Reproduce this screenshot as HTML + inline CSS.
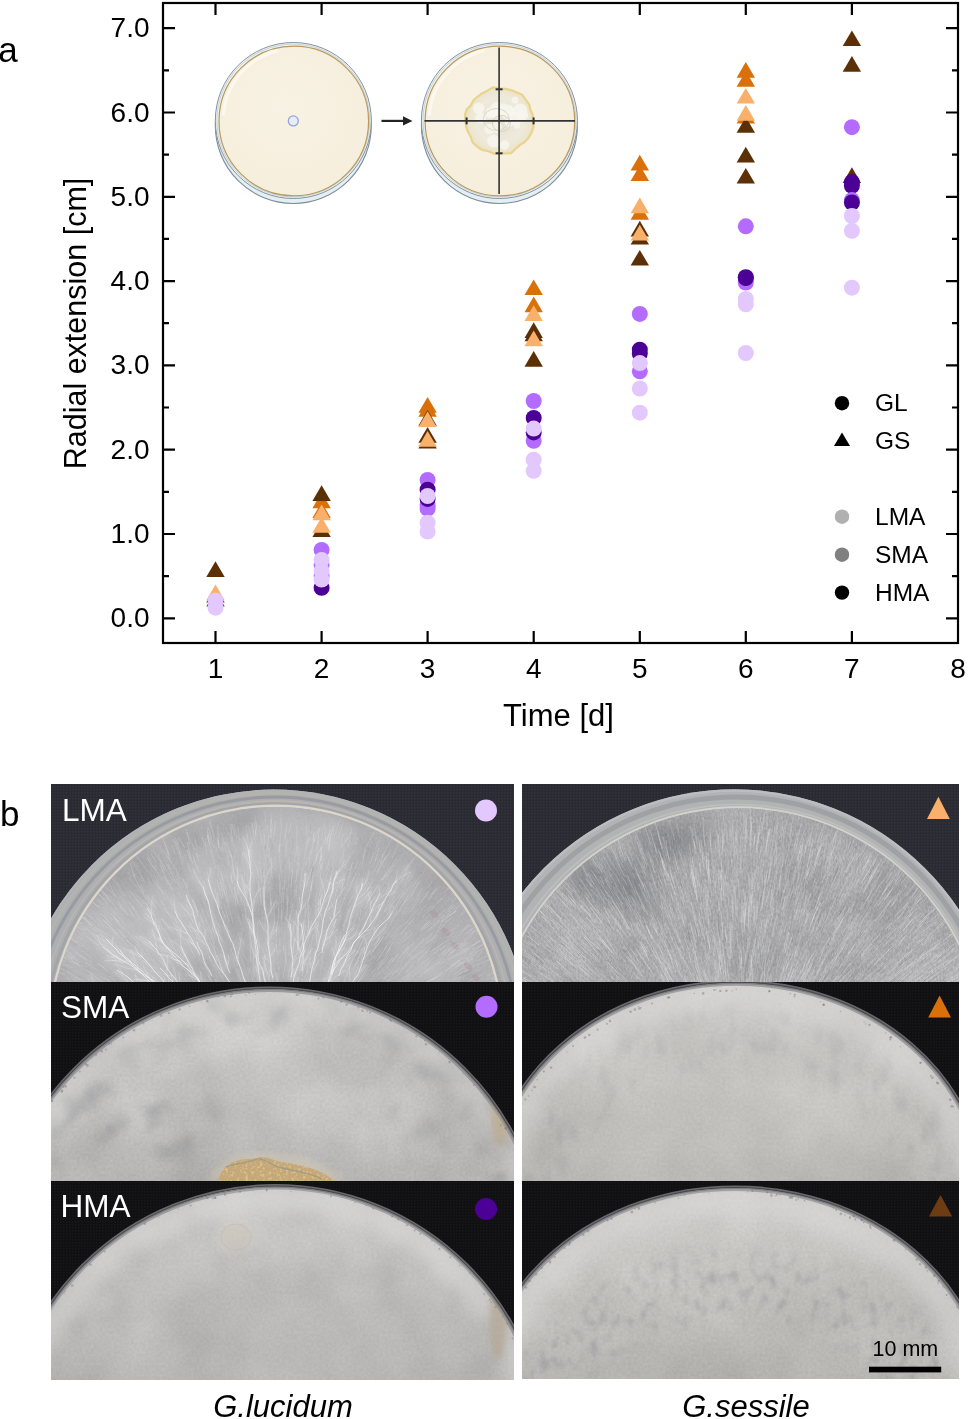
<!DOCTYPE html>
<html><head><meta charset="utf-8"><style>
html,body{margin:0;padding:0;background:#fff;}
body{width:968px;height:1419px;overflow:hidden;position:relative;font-family:"Liberation Sans",sans-serif;}
svg{position:absolute;left:0;top:0;will-change:transform;}
</style></head><body>
<svg width="968" height="1419" viewBox="0 0 968 1419" font-family="Liberation Sans, sans-serif">
<rect width="968" height="1419" fill="#fff"/>
<defs><radialGradient id="agar" cx="0.45" cy="0.4" r="0.7"><stop offset="0" stop-color="#f8f2e4"/><stop offset="1" stop-color="#f6eedb"/></radialGradient><radialGradient id="col" cx="0.5" cy="0.5" r="0.5"><stop offset="0" stop-color="#e6e2d2"/><stop offset="0.7" stop-color="#eeeadc"/><stop offset="1" stop-color="#ece4c8"/></radialGradient></defs>
<circle cx="293.3" cy="125.5" r="78" fill="#e4eff4" stroke="#7f8c96" stroke-width="1.1"/>
<circle cx="293.3" cy="120.5" r="78" fill="#eef4f7" stroke="#8794a0" stroke-width="1.0"/>
<circle cx="293.3" cy="120.5" r="76.4" fill="none" stroke="#bfc9cf" stroke-width="0.8"/>
<circle cx="293.8" cy="121.0" r="74.8" fill="url(#agar)" stroke="#b89a5a" stroke-width="1.2"/>
<path d="M223.3 115.5 A 72 72 0 0 1 278.3 50.5" fill="none" stroke="#fdfaf3" stroke-width="3" opacity="0.8"/>
<circle cx="293.3" cy="120.9" r="5" fill="#e6ecf8" stroke="#95a3d6" stroke-width="1.3"/>
<path d="M381.5 120.9H405" stroke="#222" stroke-width="2.2"/><path d="M412.5 120.9L403 116.2V125.6Z" fill="#222"/>
<circle cx="499.4" cy="125.5" r="78" fill="#e4eff4" stroke="#7f8c96" stroke-width="1.1"/>
<circle cx="499.4" cy="120.5" r="78" fill="#eef4f7" stroke="#8794a0" stroke-width="1.0"/>
<circle cx="499.4" cy="120.5" r="76.4" fill="none" stroke="#bfc9cf" stroke-width="0.8"/>
<circle cx="499.9" cy="121.0" r="74.8" fill="url(#agar)" stroke="#b89a5a" stroke-width="1.2"/>
<path d="M429.4 115.5 A 72 72 0 0 1 484.4 50.5" fill="none" stroke="#fdfaf3" stroke-width="3" opacity="0.8"/>
<path d="M532.6 121.0 533.5 126.8 531.6 132.4 528.8 137.5 524.9 141.8 520.1 144.9 515.8 148.6 511.4 153.1 505.3 153.5 499.4 153.3 493.5 153.6 488.1 151.1 482.2 150.0 477.3 146.6 472.8 142.7 470.8 137.1 468.1 132.1 466.1 126.7 465.6 121.0 464.9 115.1 466.7 109.4 470.9 105.0 473.7 100.0 478.0 96.3 482.7 92.9 487.9 90.4 493.3 87.3 499.4 88.3 505.2 88.9 511.0 90.1 516.5 92.2 522.1 94.7 525.7 99.6 529.2 104.3 530.4 110.1 532.9 115.3Z" fill="url(#col)" stroke="#e8d48e" stroke-width="2.2" stroke-linejoin="round"/>
<circle cx="505.2" cy="115.0" r="3.5" fill="#f8f6ef" opacity="0.8"/>
<circle cx="504.6" cy="145.3" r="4.7" fill="#f8f6ef" opacity="0.8"/>
<circle cx="491.0" cy="111.9" r="5.0" fill="#f8f6ef" opacity="0.8"/>
<circle cx="489.6" cy="129.1" r="5.3" fill="#f8f6ef" opacity="0.8"/>
<circle cx="478.6" cy="108.3" r="5.7" fill="#f8f6ef" opacity="0.8"/>
<circle cx="520.3" cy="110.5" r="7.0" fill="#f8f6ef" opacity="0.8"/>
<circle cx="495.0" cy="112.3" r="6.4" fill="#f8f6ef" opacity="0.8"/>
<circle cx="522.9" cy="115.2" r="5.3" fill="#f8f6ef" opacity="0.8"/>
<circle cx="497.1" cy="110.5" r="6.3" fill="#f8f6ef" opacity="0.8"/>
<circle cx="488.9" cy="115.3" r="3.3" fill="#f8f6ef" opacity="0.8"/>
<circle cx="515.1" cy="100.0" r="3.4" fill="#f8f6ef" opacity="0.8"/>
<circle cx="503.8" cy="107.0" r="3.6" fill="#f8f6ef" opacity="0.8"/>
<circle cx="493.6" cy="141.1" r="6.5" fill="#f8f6ef" opacity="0.8"/>
<circle cx="517.0" cy="125.5" r="3.2" fill="#f8f6ef" opacity="0.8"/>
<circle cx="496.9" cy="108.1" r="6.5" fill="#f8f6ef" opacity="0.8"/>
<circle cx="515.4" cy="118.5" r="7.0" fill="#f8f6ef" opacity="0.8"/>
<circle cx="496.6" cy="127.5" r="5.4" fill="#f8f6ef" opacity="0.8"/>
<circle cx="509.2" cy="122.4" r="4.6" fill="#f8f6ef" opacity="0.8"/>
<circle cx="492.4" cy="114.7" r="3.2" fill="#f8f6ef" opacity="0.8"/>
<circle cx="507.7" cy="111.4" r="6.8" fill="#f8f6ef" opacity="0.8"/>
<circle cx="510.2" cy="112.3" r="4.8" fill="#f8f6ef" opacity="0.8"/>
<circle cx="480.7" cy="118.1" r="5.4" fill="#f8f6ef" opacity="0.8"/>
<ellipse cx="501.4" cy="123.5" rx="9" ry="8" fill="none" stroke="#d8d2c0" stroke-width="1"/>
<ellipse cx="496.4" cy="119.5" rx="13" ry="11" fill="none" stroke="#dcd6c6" stroke-width="1"/>
<path d="M499.09999999999997 47.5V194M424.5 120.9H575" stroke="#333" stroke-width="1.6"/>
<path d="M495.59999999999997 89.3H502.59999999999997" stroke="#333" stroke-width="2"/>
<path d="M495.59999999999997 153.3H502.59999999999997" stroke="#333" stroke-width="2"/>
<path d="M466.6 117.4V124.4" stroke="#333" stroke-width="2"/>
<path d="M533.6 117.4V124.4" stroke="#333" stroke-width="2"/>
<rect x="163" y="3" width="795" height="640" fill="none" stroke="#000" stroke-width="2.2"/>
<path d="M215.5 643V631M215.5 3V15" stroke="#000" stroke-width="2.2"/>
<path d="M321.6 643V631M321.6 3V15" stroke="#000" stroke-width="2.2"/>
<path d="M427.6 643V631M427.6 3V15" stroke="#000" stroke-width="2.2"/>
<path d="M533.7 643V631M533.7 3V15" stroke="#000" stroke-width="2.2"/>
<path d="M639.8 643V631M639.8 3V15" stroke="#000" stroke-width="2.2"/>
<path d="M745.8 643V631M745.8 3V15" stroke="#000" stroke-width="2.2"/>
<path d="M851.9 643V631M851.9 3V15" stroke="#000" stroke-width="2.2"/>
<path d="M163 618.3H175M958 618.3H946" stroke="#000" stroke-width="2.2"/>
<path d="M163 576.1H169M958 576.1H952" stroke="#000" stroke-width="2.2"/>
<path d="M163 534.0H175M958 534.0H946" stroke="#000" stroke-width="2.2"/>
<path d="M163 491.8H169M958 491.8H952" stroke="#000" stroke-width="2.2"/>
<path d="M163 449.7H175M958 449.7H946" stroke="#000" stroke-width="2.2"/>
<path d="M163 407.5H169M958 407.5H952" stroke="#000" stroke-width="2.2"/>
<path d="M163 365.4H175M958 365.4H946" stroke="#000" stroke-width="2.2"/>
<path d="M163 323.2H169M958 323.2H952" stroke="#000" stroke-width="2.2"/>
<path d="M163 281.1H175M958 281.1H946" stroke="#000" stroke-width="2.2"/>
<path d="M163 238.9H169M958 238.9H952" stroke="#000" stroke-width="2.2"/>
<path d="M163 196.8H175M958 196.8H946" stroke="#000" stroke-width="2.2"/>
<path d="M163 154.6H169M958 154.6H952" stroke="#000" stroke-width="2.2"/>
<path d="M163 112.5H175M958 112.5H946" stroke="#000" stroke-width="2.2"/>
<path d="M163 70.4H169M958 70.4H952" stroke="#000" stroke-width="2.2"/>
<path d="M163 28.2H175M958 28.2H946" stroke="#000" stroke-width="2.2"/>
<path d="M215.5 561.3L224.7 577.0H206.3Z" fill="#5c3006"/>
<path d="M215.5 586.8L224.7 602.5H206.3Z" fill="#5c3006"/>
<path d="M215.5 590.8L224.7 606.5H206.3Z" fill="#5c3006"/>
<path d="M215.5 584.6L224.7 600.3H206.3Z" fill="#f8b06a"/>
<path d="M321.6 492.6L330.8 508.3H312.4Z" fill="#d9700a"/>
<path d="M321.6 502.2L330.8 517.9H312.4Z" fill="#d9700a"/>
<path d="M321.6 485.3L330.8 501.0H312.4Z" fill="#5c3006"/>
<path d="M321.6 521.3L330.8 537.0H312.4Z" fill="#5c3006"/>
<path d="M321.6 504.5L330.8 520.2H312.4Z" fill="#f8b06a"/>
<path d="M321.6 517.0L330.8 532.7H312.4Z" fill="#f8b06a"/>
<path d="M427.6 397.1L436.8 412.8H418.4Z" fill="#d9700a"/>
<path d="M427.6 401.0L436.8 416.7H418.4Z" fill="#d9700a"/>
<path d="M427.6 410.0L436.8 425.7H418.4Z" fill="#5c3006"/>
<path d="M427.6 427.1L436.8 442.8H418.4Z" fill="#5c3006"/>
<path d="M427.6 432.7L436.8 448.4H418.4Z" fill="#5c3006"/>
<path d="M427.6 411.3L436.8 427.0H418.4Z" fill="#f8b06a"/>
<path d="M427.6 431.0L436.8 446.7H418.4Z" fill="#f8b06a"/>
<path d="M533.7 279.4L542.9 295.1H524.5Z" fill="#d9700a"/>
<path d="M533.7 296.5L542.9 312.2H524.5Z" fill="#d9700a"/>
<path d="M533.7 322.3L542.9 338.0H524.5Z" fill="#5c3006"/>
<path d="M533.7 325.5L542.9 341.2H524.5Z" fill="#5c3006"/>
<path d="M533.7 351.0L542.9 366.7H524.5Z" fill="#5c3006"/>
<path d="M533.7 305.2L542.9 320.9H524.5Z" fill="#f8b06a"/>
<path d="M533.7 330.6L542.9 346.3H524.5Z" fill="#f8b06a"/>
<path d="M639.8 154.8L649.0 170.5H630.6Z" fill="#d9700a"/>
<path d="M639.8 165.3L649.0 181.0H630.6Z" fill="#d9700a"/>
<path d="M639.8 204.1L649.0 219.8H630.6Z" fill="#d9700a"/>
<path d="M639.8 220.8L649.0 236.5H630.6Z" fill="#5c3006"/>
<path d="M639.8 228.9L649.0 244.6H630.6Z" fill="#5c3006"/>
<path d="M639.8 249.9L649.0 265.6H630.6Z" fill="#5c3006"/>
<path d="M639.8 197.5L649.0 213.2H630.6Z" fill="#f8b06a"/>
<path d="M639.8 224.7L649.0 240.4H630.6Z" fill="#f8b06a"/>
<path d="M745.8 62.1L755.0 77.8H736.6Z" fill="#d9700a"/>
<path d="M745.8 71.1L755.0 86.8H736.6Z" fill="#d9700a"/>
<path d="M745.8 107.7L755.0 123.4H736.6Z" fill="#d9700a"/>
<path d="M745.8 117.1L755.0 132.8H736.6Z" fill="#5c3006"/>
<path d="M745.8 146.8L755.0 162.5H736.6Z" fill="#5c3006"/>
<path d="M745.8 167.9L755.0 183.6H736.6Z" fill="#5c3006"/>
<path d="M745.8 87.9L755.0 103.6H736.6Z" fill="#f8b06a"/>
<path d="M745.8 105.0L755.0 120.7H736.6Z" fill="#f8b06a"/>
<path d="M851.9 30.4L861.1 46.1H842.7Z" fill="#5c3006"/>
<path d="M851.9 56.0L861.1 71.7H842.7Z" fill="#5c3006"/>
<path d="M851.9 167.3L861.1 183.0H842.7Z" fill="#5c3006"/>
<circle cx="215.5" cy="600.5" r="8" fill="#e2c8fc"/>
<circle cx="215.5" cy="607.7" r="8" fill="#e2c8fc"/>
<circle cx="321.6" cy="550.0" r="8" fill="#b36cff"/>
<circle cx="321.6" cy="565.0" r="8" fill="#b36cff"/>
<circle cx="321.6" cy="576.0" r="8" fill="#b36cff"/>
<circle cx="321.6" cy="587.8" r="8" fill="#4b0096"/>
<circle cx="321.6" cy="560.0" r="8" fill="#e2c8fc"/>
<circle cx="321.6" cy="571.0" r="8" fill="#e2c8fc"/>
<circle cx="321.6" cy="579.5" r="8" fill="#e2c8fc"/>
<circle cx="427.6" cy="480.0" r="8" fill="#b36cff"/>
<circle cx="427.6" cy="505.0" r="8" fill="#b36cff"/>
<circle cx="427.6" cy="508.7" r="8" fill="#b36cff"/>
<circle cx="427.6" cy="489.7" r="8" fill="#4b0096"/>
<circle cx="427.6" cy="498.9" r="8" fill="#4b0096"/>
<circle cx="427.6" cy="496.0" r="8" fill="#e2c8fc"/>
<circle cx="427.6" cy="522.7" r="8" fill="#e2c8fc"/>
<circle cx="427.6" cy="531.5" r="8" fill="#e2c8fc"/>
<circle cx="533.7" cy="401.0" r="8" fill="#b36cff"/>
<circle cx="533.7" cy="440.8" r="8" fill="#b36cff"/>
<circle cx="533.7" cy="418.0" r="8" fill="#4b0096"/>
<circle cx="533.7" cy="432.4" r="8" fill="#4b0096"/>
<circle cx="533.7" cy="428.6" r="8" fill="#e2c8fc"/>
<circle cx="533.7" cy="459.7" r="8" fill="#e2c8fc"/>
<circle cx="533.7" cy="470.8" r="8" fill="#e2c8fc"/>
<circle cx="639.8" cy="313.9" r="8" fill="#b36cff"/>
<circle cx="639.8" cy="371.3" r="8" fill="#b36cff"/>
<circle cx="639.8" cy="349.7" r="8" fill="#4b0096"/>
<circle cx="639.8" cy="353.4" r="8" fill="#4b0096"/>
<circle cx="639.8" cy="363.1" r="8" fill="#e2c8fc"/>
<circle cx="639.8" cy="388.5" r="8" fill="#e2c8fc"/>
<circle cx="639.8" cy="412.7" r="8" fill="#e2c8fc"/>
<circle cx="745.8" cy="226.3" r="8" fill="#b36cff"/>
<circle cx="745.8" cy="282.6" r="8" fill="#b36cff"/>
<circle cx="745.8" cy="277.2" r="8" fill="#4b0096"/>
<circle cx="745.8" cy="278.0" r="8" fill="#4b0096"/>
<circle cx="745.8" cy="299.0" r="8" fill="#e2c8fc"/>
<circle cx="745.8" cy="304.3" r="8" fill="#e2c8fc"/>
<circle cx="745.8" cy="353.0" r="8" fill="#e2c8fc"/>
<circle cx="851.9" cy="127.2" r="8" fill="#b36cff"/>
<circle cx="851.9" cy="182.1" r="8" fill="#4b0096"/>
<circle cx="851.9" cy="185.8" r="8" fill="#4b0096"/>
<circle cx="851.9" cy="200.1" r="8" fill="#b36cff"/>
<circle cx="851.9" cy="202.5" r="8" fill="#4b0096"/>
<circle cx="851.9" cy="216.0" r="8" fill="#e2c8fc"/>
<circle cx="851.9" cy="230.8" r="8" fill="#e2c8fc"/>
<circle cx="851.9" cy="287.7" r="8" fill="#e2c8fc"/>
<g font-size="28"><text x="149.5" y="627.3" text-anchor="end">0.0</text>
<text x="149.5" y="543.0" text-anchor="end">1.0</text>
<text x="149.5" y="458.7" text-anchor="end">2.0</text>
<text x="149.5" y="374.4" text-anchor="end">3.0</text>
<text x="149.5" y="290.1" text-anchor="end">4.0</text>
<text x="149.5" y="205.8" text-anchor="end">5.0</text>
<text x="149.5" y="121.5" text-anchor="end">6.0</text>
<text x="149.5" y="37.2" text-anchor="end">7.0</text>
<text x="215.5" y="677.8" text-anchor="middle">1</text>
<text x="321.6" y="677.8" text-anchor="middle">2</text>
<text x="427.6" y="677.8" text-anchor="middle">3</text>
<text x="533.7" y="677.8" text-anchor="middle">4</text>
<text x="639.8" y="677.8" text-anchor="middle">5</text>
<text x="745.8" y="677.8" text-anchor="middle">6</text>
<text x="851.9" y="677.8" text-anchor="middle">7</text>
<text x="958.0" y="677.8" text-anchor="middle">8</text></g>
<g font-size="24.5">
<circle cx="842" cy="403.2" r="7.2" fill="#000"/><text x="875" y="411.3">GL</text>
<path d="M842 432.4L850 446H834Z" fill="#000"/><text x="875" y="449">GS</text>
<circle cx="842" cy="516.7" r="7.2" fill="#b0b0b0"/><text x="875" y="525.1">LMA</text>
<circle cx="842" cy="554.7" r="7.2" fill="#808080"/><text x="875" y="563">SMA</text>
<circle cx="842" cy="592.6" r="7.2" fill="#000"/><text x="875" y="600.6">HMA</text>
</g>
<text x="558.5" y="726.4" font-size="31" text-anchor="middle">Time [d]</text>
<text transform="translate(85.7 323.5) rotate(-90)" font-size="30.5" text-anchor="middle">Radial extension [cm]</text>
<text x="-1.8" y="62.3" font-size="35">a</text>
<text x="0" y="826" font-size="35">b</text>
<defs><clipPath id="cp1"><rect x="51" y="784" width="463" height="198"/></clipPath><clipPath id="cp2"><rect x="522" y="784" width="437" height="198"/></clipPath><clipPath id="cp3"><rect x="51" y="982" width="463" height="199"/></clipPath><clipPath id="cp4"><rect x="522" y="982" width="437" height="199"/></clipPath><clipPath id="cp5"><rect x="51" y="1181" width="463" height="199"/></clipPath><clipPath id="cp6"><rect x="522" y="1181" width="437" height="198"/></clipPath><pattern id="fab1" width="3" height="3" patternUnits="userSpaceOnUse"><rect width="3" height="3" fill="#2a2b32"/><rect x="0" y="0" width="1.5" height="1.5" fill="#33343b"/></pattern><pattern id="fab2" width="3" height="3" patternUnits="userSpaceOnUse"><rect width="3" height="3" fill="#101012"/><rect x="0" y="0" width="1.5" height="1.5" fill="#18181b"/></pattern><linearGradient id="vgrad" x1="0" y1="0" x2="0" y2="1"><stop offset="0" stop-color="#fff" stop-opacity="0.22"/><stop offset="0.5" stop-color="#fff" stop-opacity="0.05"/><stop offset="1" stop-color="#000" stop-opacity="0.05"/></linearGradient><filter id="blur6" x="-50%" y="-50%" width="200%" height="200%"><feGaussianBlur stdDeviation="8"/></filter><filter id="blur3" x="-50%" y="-50%" width="200%" height="200%"><feGaussianBlur stdDeviation="3"/></filter><filter id="blur1"><feGaussianBlur stdDeviation="0.6"/></filter><filter id="n1" filterUnits="userSpaceOnUse" x="51" y="784" width="463" height="198" color-interpolation-filters="sRGB"><feTurbulence type="fractalNoise" baseFrequency="0.02" numOctaves="3" seed="21" result="t1"/><feColorMatrix in="t1" type="matrix" values="1 0 0 0 0  1 0 0 0 0  1 0 0 0 0  0 0 0 0 1" result="a"/><feTurbulence type="fractalNoise" baseFrequency="0.4" numOctaves="2" seed="22" result="t2"/><feColorMatrix in="t2" type="matrix" values="1 0 0 0 0  1 0 0 0 0  1 0 0 0 0  0 0 0 0 1" result="b"/><feComposite in="a" in2="b" operator="arithmetic" k1="0" k2="0.12" k3="0.05" k4="0.8300" result="c"/><feColorMatrix in="c" type="matrix" values="1 0 0 0 -0.2405  0 1 0 0 -0.2405  0 0 1 0 -0.2287  0 0 0 0 1"/></filter><filter id="n2" filterUnits="userSpaceOnUse" x="522" y="784" width="437" height="198" color-interpolation-filters="sRGB"><feTurbulence type="fractalNoise" baseFrequency="0.02" numOctaves="3" seed="5" result="t1"/><feColorMatrix in="t1" type="matrix" values="1 0 0 0 0  1 0 0 0 0  1 0 0 0 0  0 0 0 0 1" result="a"/><feTurbulence type="fractalNoise" baseFrequency="0.6 0.3" numOctaves="2" seed="6" result="t2"/><feColorMatrix in="t2" type="matrix" values="1 0 0 0 0  1 0 0 0 0  1 0 0 0 0  0 0 0 0 1" result="b"/><feComposite in="a" in2="b" operator="arithmetic" k1="0" k2="0.12" k3="0.16" k4="0.7200" result="c"/><feColorMatrix in="c" type="matrix" values="1 0 0 0 -0.1933  0 1 0 0 -0.1933  0 0 1 0 -0.1855  0 0 0 0 1"/></filter><filter id="n3" filterUnits="userSpaceOnUse" x="51" y="982" width="463" height="199" color-interpolation-filters="sRGB"><feTurbulence type="fractalNoise" baseFrequency="0.012" numOctaves="3" seed="3" result="t1"/><feColorMatrix in="t1" type="matrix" values="1 0 0 0 0  1 0 0 0 0  1 0 0 0 0  0 0 0 0 1" result="a"/><feTurbulence type="fractalNoise" baseFrequency="0.35" numOctaves="2" seed="4" result="t2"/><feColorMatrix in="t2" type="matrix" values="1 0 0 0 0  1 0 0 0 0  1 0 0 0 0  0 0 0 0 1" result="b"/><feComposite in="a" in2="b" operator="arithmetic" k1="0" k2="0.16" k3="0.07" k4="0.7700" result="c"/><feColorMatrix in="c" type="matrix" values="1 0 0 0 -0.1360  0 1 0 0 -0.1399  0 0 1 0 -0.1477  0 0 0 0 1"/></filter><filter id="n4" filterUnits="userSpaceOnUse" x="522" y="982" width="437" height="199" color-interpolation-filters="sRGB"><feTurbulence type="fractalNoise" baseFrequency="0.012" numOctaves="3" seed="5" result="t1"/><feColorMatrix in="t1" type="matrix" values="1 0 0 0 0  1 0 0 0 0  1 0 0 0 0  0 0 0 0 1" result="a"/><feTurbulence type="fractalNoise" baseFrequency="0.35" numOctaves="2" seed="6" result="t2"/><feColorMatrix in="t2" type="matrix" values="1 0 0 0 0  1 0 0 0 0  1 0 0 0 0  0 0 0 0 1" result="b"/><feComposite in="a" in2="b" operator="arithmetic" k1="0" k2="0.1" k3="0.06" k4="0.8400" result="c"/><feColorMatrix in="c" type="matrix" values="1 0 0 0 -0.1553  0 1 0 0 -0.1592  0 0 1 0 -0.1710  0 0 0 0 1"/></filter><filter id="n5" filterUnits="userSpaceOnUse" x="51" y="1181" width="463" height="199" color-interpolation-filters="sRGB"><feTurbulence type="fractalNoise" baseFrequency="0.012" numOctaves="3" seed="9" result="t1"/><feColorMatrix in="t1" type="matrix" values="1 0 0 0 0  1 0 0 0 0  1 0 0 0 0  0 0 0 0 1" result="a"/><feTurbulence type="fractalNoise" baseFrequency="0.35" numOctaves="2" seed="10" result="t2"/><feColorMatrix in="t2" type="matrix" values="1 0 0 0 0  1 0 0 0 0  1 0 0 0 0  0 0 0 0 1" result="b"/><feComposite in="a" in2="b" operator="arithmetic" k1="0" k2="0.12" k3="0.06" k4="0.8200" result="c"/><feColorMatrix in="c" type="matrix" values="1 0 0 0 -0.1649  0 1 0 0 -0.1688  0 0 1 0 -0.1767  0 0 0 0 1"/></filter><filter id="n6" filterUnits="userSpaceOnUse" x="522" y="1181" width="437" height="198" color-interpolation-filters="sRGB"><feTurbulence type="fractalNoise" baseFrequency="0.012" numOctaves="3" seed="11" result="t1"/><feColorMatrix in="t1" type="matrix" values="1 0 0 0 0  1 0 0 0 0  1 0 0 0 0  0 0 0 0 1" result="a"/><feTurbulence type="fractalNoise" baseFrequency="0.35" numOctaves="2" seed="12" result="t2"/><feColorMatrix in="t2" type="matrix" values="1 0 0 0 0  1 0 0 0 0  1 0 0 0 0  0 0 0 0 1" result="b"/><feComposite in="a" in2="b" operator="arithmetic" k1="0" k2="0.1" k3="0.07" k4="0.8300" result="c"/><feColorMatrix in="c" type="matrix" values="1 0 0 0 -0.1621  0 1 0 0 -0.1660  0 0 1 0 -0.1777  0 0 0 0 1"/></filter><filter id="q3" filterUnits="userSpaceOnUse" x="51" y="982" width="463" height="199" color-interpolation-filters="sRGB"><feTurbulence type="fractalNoise" baseFrequency="0.035" numOctaves="3" seed="31"/><feColorMatrix type="matrix" values="0 0 0 0 0.5294117647058824  0 0 0 0 0.5294117647058824  0 0 0 0 0.5568627450980392  1.6 0 0 0 -0.7680"/><feGaussianBlur stdDeviation="2.5"/></filter><filter id="q4" filterUnits="userSpaceOnUse" x="522" y="982" width="437" height="199" color-interpolation-filters="sRGB"><feTurbulence type="fractalNoise" baseFrequency="0.07 0.035" numOctaves="3" seed="41"/><feColorMatrix type="matrix" values="0 0 0 0 0.5686274509803921  0 0 0 0 0.5686274509803921  0 0 0 0 0.5882352941176471  0.9 0 0 0 -0.4500"/><feGaussianBlur stdDeviation="1.5"/></filter><filter id="q5" filterUnits="userSpaceOnUse" x="51" y="1181" width="463" height="199" color-interpolation-filters="sRGB"><feTurbulence type="fractalNoise" baseFrequency="0.03" numOctaves="3" seed="51"/><feColorMatrix type="matrix" values="0 0 0 0 0.5882352941176471  0 0 0 0 0.5882352941176471  0 0 0 0 0.6078431372549019  0.9 0 0 0 -0.4500"/><feGaussianBlur stdDeviation="3"/></filter><filter id="qblob" filterUnits="userSpaceOnUse" x="210" y="1150" width="130" height="31" color-interpolation-filters="sRGB"><feTurbulence type="fractalNoise" baseFrequency="0.35" numOctaves="2" seed="4"/><feColorMatrix type="matrix" values="0 0 0 0 0.9  0 0 0 0 0.82  0 0 0 0 0.62  2.5 0 0 0 -1.25"/></filter><filter id="q6" filterUnits="userSpaceOnUse" x="522" y="1181" width="437" height="198" color-interpolation-filters="sRGB"><feTurbulence type="fractalNoise" baseFrequency="0.1 0.07" numOctaves="3" seed="61"/><feColorMatrix type="matrix" values="0 0 0 0 0.5294117647058824  0 0 0 0 0.5294117647058824  0 0 0 0 0.5490196078431373  1.2 0 0 0 -0.6000"/><feGaussianBlur stdDeviation="1"/></filter><mask id="mk3"><rect x="0" y="0" width="968" height="1419" fill="#000"/><ellipse cx="269.6" cy="1263.9" rx="255" ry="255" fill="none" stroke="#fff" stroke-width="40" filter="url(#blur6)"/><ellipse cx="150" cy="1120" rx="70" ry="40" fill="#fff" filter="url(#blur6)"/><ellipse cx="420" cy="1110" rx="60" ry="50" fill="#fff" opacity="0.6" filter="url(#blur6)"/></mask><mask id="mk4"><rect x="0" y="0" width="968" height="1419" fill="#000"/><ellipse cx="736.7" cy="1197.4" rx="200" ry="160" fill="none" stroke="#fff" stroke-width="60" filter="url(#blur6)"/></mask><mask id="mk5"><rect x="0" y="0" width="968" height="1419" fill="#000"/><ellipse cx="275" cy="1457.3" rx="215" ry="215" fill="none" stroke="#fff" stroke-width="80" opacity="0.8" filter="url(#blur6)"/></mask><mask id="mk6"><rect x="0" y="0" width="968" height="1419" fill="#000"/><ellipse cx="734.5" cy="1404.4" rx="185" ry="120" fill="none" stroke="#fff" stroke-width="70" filter="url(#blur6)"/></mask></defs>
<g clip-path="url(#cp1)">
<rect x="51" y="784" width="463" height="198" fill="url(#fab1)"/>
<ellipse cx="273.5" cy="1046.1" rx="256.5" ry="256.5" fill="#aeafb2"/>
<ellipse cx="273.5" cy="1046.1" rx="255.5" ry="255.5" fill="none" stroke="#b2b3b8" stroke-width="2"/>
<ellipse cx="274.2" cy="1043" rx="250" ry="250" fill="none" stroke="#b4b3ae" stroke-width="3"/>
<ellipse cx="274.8" cy="1040" rx="243" ry="243" fill="none" stroke="#9a9ba0" stroke-width="3"/>
<ellipse cx="275.4" cy="1037" rx="236" ry="236" fill="none" stroke="#bcb8ae" stroke-width="1.3"/>
<ellipse cx="275.7" cy="1034.5" rx="230.5" ry="230.5" fill="none" stroke="#a4a5a8" stroke-width="3"/>
<ellipse cx="276" cy="1032.2" rx="226.5" ry="226.5" fill="none" stroke="#ddd6ca" stroke-width="2.4"/>
<clipPath id="cp1i"><circle cx="276" cy="1032.2" r="225.3"/></clipPath>
<g clip-path="url(#cp1i)">
<rect x="51" y="784" width="463" height="198" filter="url(#n1)"/>
<ellipse cx="300" cy="845" rx="60" ry="30" fill="#d4d4d8" opacity="0.4" filter="url(#blur6)"/>
<ellipse cx="225" cy="870" rx="40" ry="30" fill="#d4d4d8" opacity="0.3" filter="url(#blur6)"/>
<ellipse cx="150" cy="930" rx="60" ry="45" fill="#d4d4d8" opacity="0.35" filter="url(#blur6)"/>
<ellipse cx="380" cy="900" rx="40" ry="50" fill="#d4d4d8" opacity="0.2" filter="url(#blur6)"/>
<ellipse cx="430" cy="950" rx="45" ry="35" fill="#d4d4d8" opacity="0.2" filter="url(#blur6)"/>
<ellipse cx="90" cy="960" rx="30" ry="30" fill="#d4d4d8" opacity="0.25" filter="url(#blur6)"/>
<ellipse cx="300" cy="960" rx="60" ry="30" fill="#d4d4d8" opacity="0.15" filter="url(#blur6)"/>
<path d="M219 999l-7 -16M375 857l2 -16M287 1015l2 -9M371 982l16 -15M320 918l7 -18M193 1041l-8 -5M171 869l-8 -20M286 884l5 -17M242 1028l-4 -7M256 908l-0 -9M474 999l10 -5M133 966l-10 -9M176 1019l-12 -12M159 888l-13 -18M188 917l-1 -10M159 966l-6 -8M43 1087l-10 2M320 867l1 -21M323 842l4 -19M515 998l11 -3M306 917l1 -8M216 849l-5 -19M43 1027l-8 -3M194 968l-11 -15M422 997l13 -7M57 1040l-11 -3M469 1073l11 0M221 1083l-12 -2M40 1057l-20 -0M231 1050l-8 -6M313 1022l9 -16M312 1016l4 -9M266 993l-0 -21M104 1008l-18 -12M135 1023l-11 -5M203 934l-4 -11M375 862l5 -21M143 909l-13 -17M260 987l-1 -11M138 1063l-21 -6M57 1068l-21 1M494 1049l17 -3M202 1063l-15 -4M494 1063l12 0M456 956l13 -8M402 870l4 -9M66 951l-13 -13M173 877l-9 -17M201 1082l-21 -2M477 1036l21 -4M471 969l14 -9M517 997l11 -4M403 1021l13 -9M450 970l19 -10M437 1018l11 -4M124 1085l-17 -1M236 953l-2 -12M220 861l-2 -14M293 840l-1 -9M370 1032l16 -10M81 1065l-17 -6M71 1075l-15 -1M311 1014l8 -16M270 836l2 -21M167 1006l-12 -9M456 1014l15 -6M324 1040l13 -14M158 1038l-16 -7M199 1016l-8 -5M100 916l-7 -5M371 1027l10 -7M228 1047l-9 -8M323 1071l11 -4M253 852l-0 -18M227 997l-3 -8M520 1023l9 -2M183 945l-4 -7M174 896l-6 -14M121 989l-10 -8M338 944l3 -13M298 864l1 -19M399 1044l10 -4M34 1010l-9 -1M382 937l9 -14M442 948l14 -14M339 933l8 -16M87 1028l-15 -4M244 1024l-5 -11M234 972l-3 -9M291 992l0 -20M229 886l-7 -16M339 971l5 -8M464 943l8 -7M271 904l-0 -16M72 1072l-17 -3M294 862l-0 -11M200 961l-8 -10M386 886l7 -19M465 928l11 -13M180 1078l-19 2M230 1066l-7 -4M426 901l13 -12M151 905l-5 -9M195 873l-7 -20M221 851l-4 -13M477 955l13 -9M347 887l5 -14M261 889l-0 -11M362 1022l12 -11M491 952l10 -5M39 996l-11 -3M512 1016l20 -2M133 1041l-11 -5M500 990l9 -5M397 937l7 -7M34 1046l-17 -4M371 980l17 -13M83 967l-15 -10M389 964l15 -11M231 988l-5 -12M37 1043l-21 -1M346 992l4 -7M246 991l-4 -16M394 990l8 -8M341 944l8 -13M336 965l7 -16M463 1064l11 -3M322 884l2 -11M395 1035l14 -8M155 1047l-20 -7M448 952l18 -10M249 914l-3 -18M298 1007l3 -21M307 832l-1 -15M332 852l2 -21M481 1019l19 -2M304 1030l6 -12M302 832l1 -16M390 990l13 -12M237 887l1 -11M357 992l9 -9M253 1017l-2 -9M363 1040l13 -6M359 981l11 -18M307 945l4 -13M72 1005l-12 -2M355 981l10 -17M128 1072l-17 -4M459 1000l8 -4M446 1061l20 -5M415 902l4 -11M179 1000l-13 -7M331 920l6 -18M229 988l-1 -9M479 1037l17 -2M77 973l-17 -10M461 972l19 -9M253 973l1 -18M383 1057l11 -5M338 1048l14 -11M71 1034l-13 -2M289 956l0 -15M345 1024l16 -15M74 1080l-11 0M403 890l4 -9M131 989l-17 -10M407 896l14 -16M423 1012l18 -10M76 1086l-13 -2M338 1088l16 0M404 953l10 -13M33 1084l-14 2M164 1061l-15 -6M352 989l9 -10M116 983l-19 -8M184 929l-8 -14M341 1032l13 -15M470 922l11 -10M174 1081l-9 1M462 1080l17 -3M206 850l-7 -20M63 976l-18 -9M83 940l-10 -8M168 1056l-16 -7M256 1000l-1 -8M194 924l-10 -18M256 1046l-9 -15M247 989l-3 -22M363 966l8 -15M379 959l8 -13M196 1023l-18 -11M189 869l-6 -18M260 858l1 -19M365 981l8 -10M366 976l7 -12M394 977l8 -13M285 853l1 -17M417 952l6 -7M17 1085l-12 -0M219 1048l-13 -8M307 942l3 -12M348 1057l16 -5M192 1062l-17 -8M314 945l6 -15M104 1038l-18 -2M362 1071l15 -2M157 867l-6 -16M329 919l2 -8M444 1019l10 -2M196 1030l-8 -8M111 1074l-15 -0M355 887l5 -19M227 998l-5 -10M481 982l8 -5M325 923l6 -18M259 960l0 -15M178 913l-9 -17M329 956l3 -9M89 931l-12 -12M243 858l-2 -11M187 897l-9 -14M486 1015l18 -4M382 992l8 -13M401 995l6 -8M395 1069l12 -3M217 1000l-12 -14M445 988l12 -6M365 892l4 -18M135 1027l-9 -3M409 960l17 -12M194 995l-6 -9M103 1057l-15 -3M435 981l7 -5M510 1087l21 -4M92 962l-13 -8M155 1066l-8 -3M421 987l8 -5M169 1007l-6 -6M259 1046l-7 -18M433 1042l9 -3M390 901l5 -10M368 885l5 -7M229 1065l-14 -13M317 857l1 -15M263 993l-2 -17M354 1018l14 -9M431 917l15 -14M206 955l-7 -7M510 1003l12 -4M296 880l3 -15M127 998l-16 -8M342 882l4 -12M178 952l-13 -12M157 1086l-21 -3M36 1079l-10 -2M371 1004l8 -7M248 871l-0 -9M413 948l17 -11M330 1030l9 -11M408 950l6 -9M356 1065l11 -2M285 837l3 -15M114 1078l-10 -1M290 891l3 -20M30 1050l-9 -2M372 914l13 -14M57 1039l-17 -1M399 1074l14 2M226 926l-5 -8M453 931l11 -13M84 1081l-18 -1M382 1080l12 -3M378 973l11 -10M95 966l-16 -11M299 869l1 -8M454 934l16 -9M261 970l-3 -9M178 937l-9 -15M111 1019l-15 -6M201 1064l-10 -1M509 1007l14 -3M150 960l-13 -18M357 857l5 -21M489 1011l11 -2M408 1007l18 -8M464 936l8 -7M483 942l9 -9M213 854l-4 -17M294 855l0 -19M162 898l-7 -8M171 863l-3 -10M179 988l-11 -9M114 971l-15 -11M115 1013l-14 -9M174 934l-7 -8M229 939l-6 -13M245 947l-5 -15M195 1038l-17 -11M205 898l-7 -18M46 1047l-10 -2M446 918l11 -7M104 980l-14 -11M175 890l-5 -7M466 1038l10 -2M204 846l-3 -21M137 940l-6 -8M360 1072l19 -2M342 965l9 -10M351 1015l16 -8M335 1070l13 -7M453 1050l19 -4M453 966l15 -10M169 970l-10 -12M154 1079l-10 -1M126 883l-6 -10M302 1058l3 -8M37 1011l-11 -5M188 896l-1 -21M340 866l1 -10M102 1038l-13 -2M73 1032l-14 -3M463 993l9 -5M317 1077l10 -4M87 1048l-21 -6M271 990l-2 -18M186 889l-3 -11M210 1089l-12 -4M268 936l-3 -13M422 970l10 -6M179 885l-7 -17M406 870l10 -16M243 922l-1 -12M46 999l-14 -3M62 1076l-17 -1M160 1043l-12 -3M124 918l-9 -11M228 835l-2 -9M282 905l1 -13M291 938l2 -12M244 854l-2 -13M321 998l8 -14M304 966l4 -14M367 985l14 -14M122 1077l-9 -2M505 1036l18 -4M133 916l-12 -15M222 978l-6 -11M141 1049l-17 -3M387 997l16 -12M239 990l-4 -10M291 965l1 -19M49 1015l-19 -8M241 1060l-8 -9M283 915l1 -14M352 1056l13 -2M376 903l3 -8M30 1037l-8 -2M426 1075l17 -1M286 918l3 -21M147 911l-5 -6M183 996l-11 -16M275 972l-1 -14M210 933l-9 -18M41 1030l-10 -2M440 1069l13 -4M392 1026l16 -10M182 1034l-14 -8M243 930l-1 -8M437 1075l22 -1M95 966l-13 -9M370 899l10 -19M273 936l2 -21M212 859l-6 -18M207 1069l-13 -5M272 922l-0 -9M486 962l9 -7M252 896l1 -18M381 882l4 -10M167 883l-7 -8M220 996l-6 -8M33 1089l-19 -3M305 952l2 -11M412 972l15 -12M226 920l-3 -8M202 969l-12 -16M123 1008l-20 -8M246 912l1 -21M185 871l-4 -10M481 1054l13 -2M245 959l-4 -12M299 900l2 -8M53 1066l-17 -1M299 973l3 -21M113 944l-9 -8M388 991l8 -7M236 870l-2 -17M65 1009l-9 -4M123 1084l-12 -1M162 1018l-14 -7M306 1005l7 -20M93 968l-7 -5M427 1057l13 -1M367 1078l19 -3M92 1075l-9 -2M345 865l6 -10M208 846l-2 -8M358 1031l15 -13M221 1008l-4 -13M141 1012l-16 -12M371 913l7 -13M54 1078l-13 1M177 997l-12 -13M57 1048l-9 -2M159 987l-13 -10M341 949l4 -7M228 847l-2 -10M95 908l-11 -10M282 1048l2 -18M419 891l10 -14M412 1082l20 1M27 1021l-8 -2M163 1021l-14 -6M131 898l-9 -15M303 924l5 -19M186 947l-6 -14M247 857l-2 -13M396 1004l8 -5M384 911l8 -17M219 917l-1 -12M299 836l2 -8M84 1043l-12 -3M345 1048l8 -5M378 922l8 -14M487 985l14 -6M201 963l-4 -10M236 1049l-15 -15M195 907l-5 -10M525 1066l15 -2M301 987l3 -21M238 1067l-17 -8M428 1083l12 -1M358 951l4 -9M211 980l-9 -14M172 941l-13 -13M434 1070l16 -4M403 984l11 -11M109 904l-9 -13M354 1030l7 -4M341 840l10 -16M388 937l10 -16M221 1008l-5 -7M377 860l4 -10M508 1076l10 0M187 945l-7 -11M277 893l-1 -10M142 1010l-8 -7M147 1031l-16 -6M154 1056l-16 -4M230 903l-1 -20M107 949l-13 -7M258 899l0 -12M176 968l-8 -10M363 908l8 -18M397 1048l9 -7M427 990l16 -13M107 906l-14 -11M266 986l-3 -18M281 834l-1 -20M400 1060l20 -5M250 940l-4 -19M479 1087l10 -0M462 1027l16 -3M165 860l-7 -15M89 1078l-12 1M491 969l18 -10M300 1002l3 -11M118 1089l-11 1M453 990l8 -3M58 984l-16 -8M375 905l10 -18M166 908l-11 -14M227 1020l-7 -13M316 906l2 -18M369 909l8 -17M349 1061l12 -5M241 1017l-4 -15M340 910l8 -18M307 1021l6 -14M145 1008l-10 -8M346 929l7 -13M67 1060l-10 -1M318 1040l9 -15M410 927l9 -10M309 959l4 -19M213 941l-6 -14M466 1011l15 -8M109 961l-13 -9M389 943l3 -9M419 1012l14 -9M279 1040l-4 -21M356 884l7 -20M403 888l8 -17M198 1024l-15 -11M418 958l10 -8M391 956l9 -9M398 1074l9 -1M98 1024l-15 -8M162 950l-15 -13M506 972l12 -6M172 891l-4 -14M424 958l17 -10M354 912l6 -17M484 1008l11 -4M414 1038l18 -4M420 932l8 -11M399 1078l15 -0M327 1011l4 -7M331 880l4 -12M440 925l5 -11M58 950l-17 -6M300 890l2 -20M144 1062l-14 -4M472 952l13 -11M343 979l8 -12M155 945l-6 -9M444 955l7 -6M183 865l-8 -18M151 999l-9 -6M337 1003l11 -19M164 1019l-7 -4M429 971l15 -12M97 1068l-11 -2M481 1041l15 -3M102 1017l-17 -7M325 869l4 -9M55 1026l-8 -1M192 1025l-10 -5M164 936l-8 -13M349 1029l10 -12M280 863l0 -19M526 1051l17 -0M109 985l-18 -11M458 1015l20 -5M435 1087l21 3M162 1067l-21 -3M264 1043l-4 -12M271 913l2 -21M121 918l-8 -10M153 1040l-17 -6M332 909l4 -18M352 845l5 -19M399 962l6 -8M145 913l-5 -10M204 913l-6 -14M279 1047l3 -8M142 879l-7 -18M410 882l6 -12M206 904l-2 -9M422 944l6 -7M225 971l-7 -16M251 950l-2 -17M89 1007l-18 -9M450 897l10 -13M426 1016l13 -5M424 1087l21 2M262 907l-2 -18M83 1069l-20 -7M276 901l-2 -13M361 953l7 -18M431 910l8 -11M209 917l-4 -10M385 974l13 -13M512 1019l16 -2M388 1069l11 -4M338 999l8 -11M177 953l-9 -15M271 972l-1 -17M117 1043l-10 -4M493 1046l15 -3M299 890l3 -14M430 926l12 -12M288 955l1 -9M408 963l16 -12M421 1057l13 -1M435 965l10 -7M203 1039l-8 -5M63 1074l-18 1M159 949l-8 -12M344 949l7 -11M91 959l-13 -12M230 988l-5 -14M124 990l-17 -10M265 1020l-1 -9M80 1002l-9 -4M125 994l-17 -12M382 957l6 -8M520 1069l19 -3M337 935l4 -19M530 1062l14 1M386 953l12 -14M125 898l-12 -14M304 963l2 -13M157 1067l-20 -1M79 1019l-12 -4M265 1031l-2 -11M168 967l-10 -11M324 889l2 -11M328 1011l8 -11M423 1025l16 -6M314 993l5 -19M481 1028l13 -5M437 1036l10 -1M369 902l11 -19M462 996l13 -10M105 1015l-17 -5M380 964l11 -14M149 970l-8 -7M279 946l-0 -9M113 1003l-14 -5M490 957l18 -11M212 992l-7 -14M302 881l0 -13M290 908l2 -18M441 891l9 -16M379 1002l13 -12M345 937l7 -17M101 951l-14 -9M273 985l-0 -11M199 913l-6 -8M333 929l3 -9M77 978l-11 -9M144 1050l-20 -5M133 939l-7 -8M186 911l-6 -9M352 874l5 -8M255 1041l-8 -12M171 1071l-16 -2M120 896l-7 -9M355 1055l9 -6M410 1048l18 -4M437 975l10 -6M166 1051l-11 -4M346 910l6 -9M430 1086l8 -2M419 928l10 -15M302 925l3 -15M245 886l-1 -14M109 1063l-14 -1M321 929l3 -8M175 909l-5 -13" stroke="#eeeef0" stroke-width="0.6" stroke-opacity="0.16" fill="none"/>
<path d="M246 1023l-5 -14M37 1055l-11 -4M242 944l-1 -16M354 1015l12 -9M313 1025l8 -16M158 974l-15 -13M179 1003l-10 -10M464 935l16 -11M252 1038l-8 -19M116 915l-6 -8M421 964l15 -12M189 985l-11 -14M262 879l-4 -19M495 1053l10 -1M362 920l10 -19M250 891l-4 -20M303 940l3 -15M279 902l1 -18M262 1011l-2 -11M266 831l-1 -20M279 1014l4 -21M468 1040l17 -3M182 919l-12 -17M143 1007l-6 -5M281 873l-2 -22M489 974l16 -8M258 1053l-6 -12M297 865l4 -17M362 1032l11 -10M447 993l15 -8M126 925l-7 -8M162 928l-3 -7M327 1080l14 2M283 845l3 -18M445 922l7 -7M400 1019l18 -10M55 1055l-14 -1M161 931l-6 -12M150 1053l-11 -4M372 868l5 -10M110 1090l-21 -1M286 1026l1 -19M121 959l-7 -5M365 944l6 -10M144 894l-3 -11M380 1081l9 -0M216 940l-4 -12M263 929l-1 -21M423 1041l12 -1M256 836l-1 -21M179 881l-3 -9M275 870l0 -14M167 1012l-8 -8M477 961l18 -10M85 1024l-17 -1M89 951l-12 -11M309 935l2 -14M232 1065l-14 -6M396 1077l10 -1M486 980l10 -4M87 1017l-14 -6M413 976l9 -5M92 1058l-13 -0M351 1073l13 -0M183 1030l-17 -12M484 1085l13 -1M476 1080l17 2M235 1007l-6 -12M406 984l8 -9M222 1040l-14 -13M493 1011l17 -6M471 987l9 -7M498 1051l13 0M404 939l7 -10M365 891l8 -16M38 1064l-19 -3M377 965l9 -9M50 1024l-9 -5M416 1065l11 -3M40 1024l-8 -3M220 997l-12 -16M372 1039l10 -3M455 956l13 -6M330 931l6 -17M254 942l-5 -16M383 886l6 -12M377 875l4 -15M233 924l-4 -17M350 925l3 -16M168 969l-6 -10M342 1058l19 -5M395 989l8 -6M396 963l12 -17M434 1004l14 -8M464 1079l15 -2M316 856l3 -12M327 1049l13 -13M361 889l5 -16M430 968l10 -6M268 1040l-4 -13M362 1081l20 -3M385 948l14 -16M118 1060l-16 -1M231 1031l-16 -15M498 1015l11 -5M454 967l19 -8M441 926l11 -9M370 961l10 -12M214 1086l-21 -4M205 1045l-7 -5M488 1061l13 -3M405 924l14 -16M162 1023l-8 -6M509 1037l16 -3M246 985l-4 -11M191 983l-6 -9M226 999l-4 -7M79 1035l-14 -5M158 882l-9 -18M287 914l1 -15M294 898l1 -8M292 872l-0 -9M327 870l2 -10M509 1076l21 1M277 1035l1 -10M477 1041l11 -1M188 1046l-9 -5M307 887l0 -15M421 1084l19 -1M199 953l-10 -15M48 1087l-16 -3M304 928l4 -12M498 966l10 -3M222 941l-6 -15M375 850l5 -12M249 984l-3 -12M300 1054l6 -11M76 982l-8 -5M216 1023l-13 -16M410 1024l19 -8M382 1009l8 -7M190 1007l-9 -7M138 1014l-17 -6M130 947l-8 -7M411 1022l16 -7M462 931l17 -11M195 1038l-16 -13M324 874l5 -11M375 1014l17 -12M455 984l11 -9M357 914l4 -11M210 959l-7 -19M178 964l-7 -8M336 1030l13 -12M182 995l-7 -7M78 960l-11 -6M276 980l-1 -12M484 988l13 -6M221 983l-4 -8M332 842l2 -15M295 894l0 -14M298 997l3 -15M419 1006l9 -6M219 851l-1 -17M495 1054l9 -0M182 1084l-19 -1M110 1005l-18 -9M212 982l-11 -17M344 1087l10 -0M434 954l10 -14M254 1018l-2 -13M210 998l-5 -8M407 978l15 -13M468 1003l10 -3M156 996l-17 -8M26 1079l-16 -3M330 902l6 -16M376 1071l8 -0M64 954l-11 -7M257 940l1 -21M179 992l-10 -9M397 1015l12 -4M73 959l-21 -7M490 1034l20 -4M367 1054l14 -6M519 1065l18 -1M309 875l1 -22M408 1059l16 -4M317 1086l18 -2M166 914l-10 -12M296 856l1 -11M212 1025l-9 -10M199 917l-3 -11M76 1031l-17 -10M202 943l-10 -13M317 1050l12 -11M62 1063l-16 -0M272 1018l-4 -17M108 917l-10 -12M269 890l1 -13M419 906l9 -14M320 861l6 -14M341 970l9 -19M151 886l-3 -10M54 1007l-9 -4M287 1004l0 -10M255 958l-2 -18M321 999l7 -14M103 1023l-14 -8M324 1073l19 -9M84 1038l-10 -5M246 842l1 -8M535 1070l19 1M53 965l-16 -7M125 884l-12 -10M378 959l10 -16M274 1038l-0 -10M237 881l0 -19M276 836l-1 -15M316 851l3 -15M407 879l9 -12M45 984l-18 -9M381 881l10 -14M80 981l-9 -5M162 969l-9 -10M392 895l6 -10M219 1035l-12 -10M383 978l11 -8M467 994l15 -6M454 978l16 -13M509 1072l13 0M357 1041l9 -6M279 918l-0 -9M99 1050l-9 -5M348 993l7 -9M331 963l3 -13M414 974l17 -13M530 1046l14 -4M33 1057l-15 -0M132 985l-13 -9M267 986l-5 -20M328 1053l8 -4M348 997l15 -13M342 1042l6 -6M34 1003l-14 -7M195 1088l-10 0M61 1069l-20 1M393 868l11 -15M495 1011l13 -8M485 1032l20 -7M372 996l7 -10M117 1083l-10 -1M36 1016l-12 -5M333 885l4 -10M343 1011l12 -15M190 899l-4 -14M165 1023l-11 -8M38 1004l-15 -4M354 951l5 -8M324 996l9 -17M168 1039l-16 -8M91 940l-8 -7M321 961l5 -14M103 989l-12 -8M119 888l-12 -16M209 1044l-19 -8M314 1062l12 -8M109 941l-10 -8M314 936l2 -18M396 1077l18 -5M162 1088l-18 -1M229 914l-3 -11M289 1021l4 -9M72 1028l-16 -3M148 924l-12 -13M192 966l-11 -14M184 889l-7 -14M234 843l-6 -20M438 928l10 -10M177 1032l-17 -9M165 948l-12 -14M215 993l-7 -17M393 1015l12 -5M499 1083l18 -2M48 983l-18 -4M131 1043l-8 -3M253 844l-5 -18M170 858l-6 -17M438 922l8 -7M329 999l10 -19M511 1013l20 -6M233 1077l-12 -4M362 980l9 -18M375 1001l8 -7M459 1074l21 -1M240 988l-4 -20M380 1073l12 -4M180 935l-8 -12M221 940l-5 -20M125 925l-12 -14M421 948l17 -13M450 1079l13 -1M102 1072l-19 -1M301 1054l12 -15M187 954l-7 -9M114 900l-7 -6M48 1005l-13 -6M449 1089l16 -2M305 867l2 -10M379 973l14 -15M86 931l-10 -14M493 955l19 -9M62 970l-12 -5M326 842l6 -16M81 1084l-11 -0M166 925l-4 -7M141 873l-8 -11M356 894l4 -10M308 923l3 -15M112 952l-13 -15M407 1064l10 -1M279 936l-0 -9M67 1031l-21 -7M277 906l-0 -11M344 1085l18 -4M189 1089l-18 0M142 881l-14 -12M168 999l-12 -10M221 957l-6 -12M441 957l14 -10M57 1012l-17 -8M151 1022l-19 -10M238 1051l-8 -11M499 981l10 -4M368 1061l21 -5M229 970l-6 -16M188 1089l-9 -0M423 1030l11 -5M211 844l-4 -12M79 928l-14 -11M169 928l-4 -9M390 978l9 -11M279 1039l5 -20M174 1049l-11 -5M466 1045l16 -3M235 969l-2 -11M221 908l-5 -9M307 967l4 -14M422 994l13 -12M261 898l-2 -14M126 960l-11 -13M145 1055l-9 -3M476 925l9 -6M267 975l-4 -13M69 1081l-17 3M322 943l3 -9M135 1001l-14 -7M378 992l6 -7M308 923l1 -8M272 1039l-0 -10M35 1014l-13 -5M193 977l-8 -15M520 1004l21 -0M129 987l-13 -13M421 936l11 -9M488 968l8 -8M173 1056l-16 -7M21 1090l-11 1M325 1065l16 -9M353 852l3 -19M249 864l-3 -12M442 964l8 -6M170 939l-8 -11M513 1065l16 -4M305 998l2 -16M140 908l-11 -13M262 882l-2 -15M391 937l11 -13M328 1079l11 -3M301 995l8 -17M434 954l16 -11M498 985l10 -5M164 873l-4 -9M450 954l16 -11M184 858l-10 -19M491 971l12 -6M258 835l-2 -10M243 974l-8 -18M288 890l1 -14M472 1077l11 -1M367 955l13 -16M188 1011l-7 -8M314 1008l4 -12M421 954l13 -15M408 962l5 -7M343 878l5 -10M283 951l2 -20M330 1072l19 -4M295 861l2 -18M354 984l9 -13M106 1004l-9 -5M520 1064l11 -1M369 948l8 -16M216 840l-8 -20M233 1041l-6 -8M368 1089l21 0M145 968l-12 -12M264 846l0 -18M160 1045l-9 -1M118 1022l-13 -3M222 969l-3 -8M231 968l-9 -17M256 845l-5 -20M373 1025l16 -8M149 1014l-13 -10M156 995l-10 -9M209 1013l-15 -14M191 999l-13 -14M157 1023l-13 -8M169 869l-4 -11M131 994l-18 -10M437 904l10 -11M411 988l9 -5M513 1040l21 -3M462 951l18 -10M447 915l10 -8M43 1061l-14 -6M229 1082l-11 1M355 966l9 -16M268 850l-1 -10M35 1030l-18 -7M214 839l-4 -19M400 907l10 -10M451 901l7 -6M341 1050l13 -9M191 910l-6 -20M37 1017l-9 -1M499 1077l17 1M221 896l-3 -14M103 1080l-11 0M210 882l-4 -12M260 910l-4 -17M422 875l7 -12M297 1054l3 -9M309 1062l9 -8M525 1083l21 1M240 1021l-10 -19M438 993l10 -4M57 1032l-11 -1M428 932l16 -13M320 975l3 -18M132 1063l-15 -5M324 1001l4 -7M472 980l13 -7M384 913l11 -13M418 1008l16 -14M479 989l9 -6M87 1033l-16 -5M303 870l2 -17M444 893l16 -15M165 1065l-14 -4M311 1064l7 -7M466 1065l16 -2M160 1046l-18 -7M111 1005l-8 -4M506 982l15 -7M494 964l18 -11M250 903l-2 -19M198 1068l-13 -4M209 1067l-11 -3M346 895l8 -18M356 875l5 -14M421 1019l13 -4M255 883l-3 -12M299 1038l9 -18M360 910l9 -19M257 840l-3 -18M292 979l6 -17M321 840l3 -16M453 1013l19 -9M221 876l-3 -11M59 1057l-17 0M285 1035l2 -13M306 865l7 -18M275 953l-2 -11M218 962l-10 -19M46 1084l-17 1M462 915l13 -14M118 885l-6 -6M291 908l1 -10M401 969l11 -8M174 949l-5 -11M171 1038l-9 -5M346 890l3 -14M77 1005l-13 -7M102 1004l-10 -6M268 900l0 -19M210 905l-4 -13M53 1067l-10 -1M40 1059l-15 -2M198 857l-3 -19M445 963l13 -9M334 904l4 -21M306 848l3 -20M244 966l-5 -14M445 1005l8 -3M149 904l-8 -14M380 995l11 -12M397 1073l8 -1M62 962l-18 -10M281 882l2 -11M260 865l0 -9M479 1046l9 -2M43 1038l-11 -0M169 1004l-15 -12M328 1058l17 -9M390 1019l19 -10M411 946l7 -7M335 936l6 -21M85 1023l-18 -6M197 1038l-16 -12M258 875l-1 -10M210 1073l-19 -10M363 891l10 -13M479 1002l10 -4M194 925l-4 -11M416 993l11 -7M354 940l5 -10M135 1067l-14 -1M181 1026l-18 -11M65 1022l-14 -5M342 989l3 -8M83 1070l-14 0M56 962l-15 -7M312 977l3 -9M110 1051l-17 -2M468 1051l21 -2M365 947l5 -8M399 928l9 -7M351 994l9 -14M237 852l-3 -8M489 1064l14 1M255 959l-4 -15M300 971l3 -19M261 1017l-3 -16M431 1087l20 -1M275 998l-1 -19M167 989l-15 -13M228 1030l-14 -16M404 871l4 -8M350 1071l21 -4M110 911l-12 -12M393 991l17 -14M364 887l8 -16M69 1044l-15 -2M212 911l-7 -18M398 1022l10 -6M268 1031l-2 -11M459 917l8 -10M110 901l-8 -9M181 1082l-12 -1M62 967l-16 -8M489 947l11 -6M434 937l9 -17M443 955l14 -11M400 985l12 -13M334 837l6 -17M483 1077l22 -1M418 1088l8 -0M195 941l-8 -18M352 931l11 -13M38 1066l-16 0M222 899l-5 -19M181 898l-3 -10M167 872l-9 -19M241 926l-3 -11M166 993l-10 -8M273 1019l-2 -18M315 864l2 -9M390 1017l11 -10M220 994l-9 -14M242 983l-4 -14M512 1019l20 -3M257 999l-3 -13M472 1080l21 -3M427 1012l19 -10M448 975l14 -13M485 1016l15 -6M400 964l8 -13M488 1089l21 5M64 1022l-10 -4M154 878l-5 -7M154 1003l-8 -4M20 1045l-14 -2M368 848l4 -7M321 869l0 -21M339 865l5 -13M129 1050l-8 -2M178 973l-10 -12M24 1075l-11 -0M219 878l-2 -12M71 958l-8 -5M224 947l-8 -16M160 1013l-16 -9M494 1005l14 -7M380 911l5 -8M492 1010l14 -4M291 934l0 -16M111 904l-7 -11M144 904l-10 -11M499 1009l15 -6M259 916l-1 -8M140 1044l-10 -4M293 933l3 -15M57 1078l-10 -0M448 1061l14 -4M332 1005l3 -8M352 918l4 -14M95 909l-7 -9M234 869l-3 -15M113 1031l-11 -3M445 991l15 -11M317 1039l13 -15M272 890l-0 -14M322 1050l17 -10M305 988l3 -16M433 943l9 -6M334 931l6 -17M477 966l19 -9M460 956l11 -9M162 1030l-8 -6M492 965l10 -3M251 992l-7 -14M159 923l-9 -13M343 863l1 -16M234 1052l-14 -11M394 1061l8 -3M404 914l9 -10M132 880l-4 -8M199 874l-6 -15M494 959l18 -11M207 985l-9 -18M485 951l14 -16M95 1034l-15 -7M217 974l-3 -9M282 933l-1 -11M95 1018l-11 -2M426 1078l9 -2M302 1021l6 -14M333 884l3 -14" stroke="#eeeef0" stroke-width="0.6" stroke-opacity="0.24" fill="none"/>
<path d="M103 1070l-9 -2M189 1048l-11 -6M255 945l-3 -19M64 1064l-19 2M392 858l8 -18M105 1046l-14 -6M314 958l1 -8M221 932l-3 -9M313 990l3 -11M23 1072l-15 -3M211 980l-6 -18M451 1066l21 3M71 1034l-20 -6M177 1048l-19 -8M226 852l-4 -19M214 848l-6 -14M316 862l1 -9M247 900l0 -15M68 1041l-18 -5M124 1006l-14 -7M478 932l7 -6M205 1070l-17 -4M209 1015l-10 -12M240 1054l-14 -12M163 881l-10 -15M192 987l-8 -9M261 904l-1 -11M429 900l7 -12M279 852l2 -19M359 891l9 -12M452 903l9 -12M139 1064l-17 -2M492 953l12 -8M92 926l-11 -10M491 1039l20 -5M178 992l-10 -11M426 943l10 -6M180 1034l-9 -7M329 851l2 -18M188 989l-11 -7M482 964l18 -11M90 923l-13 -11M172 945l-15 -15M402 873l7 -9M101 944l-8 -9M113 1059l-19 -7M240 1069l-11 -4M144 999l-15 -14M480 1063l12 -2M229 964l-8 -11M92 958l-9 -7M150 975l-13 -10M59 977l-15 -7M132 1072l-9 -2M151 988l-8 -7M187 1072l-14 -0M512 983l12 -5M382 866l3 -9M529 1044l15 1M146 984l-12 -9M333 954l4 -13M268 997l-1 -10M378 1074l20 1M355 1014l14 -15M408 882l6 -9M387 1008l16 -15M253 1056l-4 -7M123 960l-12 -11M66 1082l-16 1M81 1082l-21 -2M37 1085l-18 3M305 918l1 -19M418 1034l11 -3M114 962l-7 -6M79 1049l-13 -4M373 874l7 -15M461 1069l20 -3M154 1090l-19 -0M385 940l5 -8M166 1007l-18 -10M386 894l3 -10M168 983l-10 -11M105 969l-8 -6M442 1041l15 -5M113 1038l-18 -5M268 833l-1 -8M206 847l-4 -10M214 966l-5 -10M82 924l-11 -7M249 975l-2 -8M497 1023l10 -2M498 1021l10 -2M300 954l3 -11M395 883l3 -13M335 1070l17 -7M420 1003l13 -8M458 1022l8 -3M343 985l6 -16M176 951l-9 -9M348 848l4 -21M228 1069l-17 -7M98 907l-12 -13M235 879l-2 -10M417 900l5 -12M138 1089l-14 3M237 1015l-7 -14M51 1026l-18 -5M219 910l1 -10M444 1015l14 -7M320 851l6 -13M258 981l-2 -21M172 1072l-17 -6M302 1048l10 -15M253 937l-6 -19M411 1016l8 -6M169 854l-8 -20M441 994l8 -7M196 997l-12 -12M275 1039l-5 -20M71 1008l-18 -8M403 1077l11 -0M479 1002l8 -3M491 959l10 -9M477 958l6 -7M505 1068l21 -5M287 917l1 -21M174 956l-7 -10M202 980l-7 -8M208 1053l-18 -9M362 866l3 -19M274 835l-3 -16M464 941l11 -10M219 848l-1 -8M162 864l-9 -15M298 856l-0 -10M283 903l1 -11M453 994l16 -8M168 1055l-14 -6M316 938l3 -14M399 1010l15 -7M225 984l-10 -19M230 1048l-13 -11M180 854l-3 -11M367 1052l13 -7M91 1024l-13 -3M147 1033l-8 -3M424 926l6 -6M232 878l0 -13M336 1030l10 -14M61 1053l-14 1M120 1061l-13 -3M98 1005l-11 -6M137 1063l-11 -2M473 1078l9 -2M47 1070l-20 -1M198 912l-5 -12M297 1010l6 -17M142 925l-11 -11M182 938l-7 -20M341 959l6 -11M167 1049l-20 -6M299 1010l5 -13M471 1065l19 0M457 1013l20 -7M305 1004l5 -15M113 983l-10 -6M327 1053l9 -6M295 1026l2 -10M348 970l5 -11M217 961l-4 -19M140 870l-9 -12M189 970l-14 -11M97 1051l-20 -4M447 901l13 -10M352 940l8 -16M349 1087l17 -1M324 945l6 -18M260 879l-6 -18M173 1038l-16 -9M65 1016l-9 -2M184 1009l-15 -11M265 844l-1 -10M242 1044l-6 -8M337 1086l11 -0M119 1018l-10 -4M201 1003l-7 -9M480 1005l12 -6M226 968l-2 -11M444 1007l15 -6M119 958l-8 -9M73 968l-13 -6M431 980l12 -7M215 948l-4 -13M138 988l-16 -10M392 1062l21 -6M255 912l-5 -19M447 938l7 -6M225 896l-3 -22M282 919l-0 -9M375 1019l16 -13M240 841l-2 -14M388 906l7 -10M336 999l5 -7M484 938l12 -7M528 1028l20 -7M114 905l-12 -15M80 967l-9 -8M204 945l-7 -16M108 1025l-10 -2M268 858l-1 -16M344 869l7 -17M443 1058l14 -2M264 905l2 -19M347 1017l17 -10M371 1074l21 -3M448 960l18 -12M418 995l13 -11M75 1010l-8 -3M395 1086l20 1M181 858l-8 -19M169 856l-3 -8M95 1002l-14 -9M182 853l-7 -16M236 1031l-9 -8M414 1074l11 -0M172 864l-7 -14M430 940l10 -9M405 1000l9 -5M217 900l-2 -12M75 1002l-17 -6M323 1025l12 -16M337 948l4 -12M364 886l5 -16M245 876l-4 -17M317 875l4 -21M95 988l-19 -11M500 1026l14 -4M386 968l13 -14M128 1057l-16 -5M367 890l8 -12M299 1018l4 -10M93 918l-9 -6M112 998l-8 -5M297 947l5 -13M237 1011l-6 -17M391 923l7 -14M223 852l-1 -10M502 963l16 -9M52 1013l-12 -3M156 1055l-11 -4M60 1071l-11 -1M103 1026l-20 -7M328 1060l17 -9M195 1051l-21 -7M163 976l-10 -12M340 1062l16 -6M203 1062l-13 -1M193 1012l-15 -14M458 1081l10 1M497 1052l19 -7M341 846l3 -13M454 1090l11 1M319 874l2 -10M207 855l-2 -17M229 905l-4 -20M302 976l4 -17M393 903l11 -13M388 891l5 -8M254 977l-0 -15M196 980l-14 -13M146 1088l-12 1M193 1075l-10 -3M370 955l11 -15M167 1040l-14 -9M363 859l3 -10M75 1054l-9 -3M347 1030l6 -7M310 1004l4 -14M116 1046l-9 -3M240 940l-2 -9M344 1015l8 -8M220 986l-5 -13M215 944l-4 -13M389 1015l13 -12M388 910l5 -7M379 1013l8 -4M140 888l-7 -14M46 995l-8 -2M518 997l12 -7M473 1090l19 2M285 839l2 -16M418 915l7 -9M345 1073l20 -6M128 1008l-15 -8M265 969l-1 -16M286 1046l4 -19M483 986l14 -8M174 866l-8 -10M293 950l2 -13M519 1020l15 -4M204 1081l-9 -3M185 997l-12 -18M318 918l3 -20M424 973l7 -5M498 1021l19 -3M498 1041l10 -2M365 987l11 -14M463 961l12 -7M344 942l5 -10M190 1033l-16 -12M504 1069l16 -5M87 986l-14 -7M532 1058l9 -4M170 860l-10 -13M278 993l-1 -20M211 851l-4 -16M321 1027l12 -15M403 942l9 -9M202 1087l-14 -1M248 906l-4 -20M189 966l-12 -17M429 930l11 -10M207 970l-8 -15M370 931l9 -17M353 1034l11 -6M466 1004l10 -3M459 1007l18 -12M278 919l1 -17M420 903l9 -12M366 892l6 -10M270 929l-3 -11M413 1022l19 -7M258 1045l-5 -12M329 898l5 -12M100 925l-9 -7M459 936l10 -12M207 931l-7 -14M346 906l7 -10M242 984l-6 -16M373 932l8 -12M265 885l-1 -10M511 1068l17 1M232 857l-7 -16M116 898l-9 -19M371 1046l14 -11M435 1067l15 -3M451 1044l15 -4M43 1089l-12 -1M393 1072l9 -3M279 852l1 -8M204 922l-4 -8M271 955l-2 -12M50 1064l-13 -3M435 1033l15 -8M435 1005l8 -5M349 967l9 -17M250 995l-5 -14M101 1067l-20 -3M233 845l-4 -12M212 1036l-7 -6M349 859l4 -8M51 1028l-14 -4M113 920l-10 -13M73 1027l-9 -1M317 906l5 -9M419 978l9 -9M93 935l-9 -9M236 1050l-7 -6M456 967l13 -8M308 941l4 -21M82 1020l-18 -7M390 1080l9 -1M359 922l2 -12M288 1042l3 -13M513 988l18 -3M178 923l-15 -15M428 888l4 -7M171 919l-10 -19M271 838l0 -10M278 985l1 -19M428 1083l20 1M401 915l6 -8M56 1038l-9 -2M298 873l0 -10M245 895l-3 -20M83 1011l-16 -10M479 1039l17 -11M333 1025l15 -16M446 1081l13 -2M168 1072l-13 -3M400 1011l7 -6M425 993l14 -12M97 931l-7 -4M439 1083l21 4M371 1007l12 -9M189 961l-6 -7M416 1063l18 -4M248 1049l-12 -17M158 870l-11 -16M412 1012l13 -8M347 1036l14 -10M312 840l3 -9M27 1056l-13 -2M359 1079l18 -3M501 1086l11 2M472 983l7 -4M329 850l-2 -15M426 919l8 -9M422 918l11 -13M234 898l-4 -12M509 993l11 -6M495 990l7 -6M308 1006l5 -16M148 872l-12 -17M456 1032l11 -4M398 975l9 -12M183 892l-7 -13M300 940l2 -11M446 984l12 -7M161 1052l-17 -9M197 1012l-13 -11M40 1059l-8 -1M348 958l5 -8M418 961l13 -14M219 1001l-11 -15M372 952l12 -16M309 900l2 -14M359 1021l12 -10M266 857l1 -13M168 897l-14 -14M308 917l1 -12M402 1074l11 -0M260 948l-2 -8M118 1087l-13 0M448 898l15 -14M517 1049l11 -2M367 962l8 -6M425 1010l14 -7M188 1089l-18 -1M346 842l5 -10M370 1020l7 -6M334 928l2 -10M447 1057l17 -2M104 1070l-8 0M145 883l-7 -13M424 929l8 -6M500 1019l8 -3M364 1048l12 -1M195 958l-9 -20M141 892l-12 -14M452 983l9 -7M262 842l-3 -16M275 1045l-1 -12M146 1089l-21 1M247 1017l-2 -8M140 945l-12 -13M288 978l2 -11M54 1033l-11 -1M530 1057l19 -2M388 1009l11 -14M191 925l-8 -13M148 993l-12 -5M56 1043l-13 -2M111 1050l-19 -4M64 970l-14 -9M36 1052l-10 -2M354 1086l13 -2M158 1012l-16 -15M434 1076l18 1M382 857l10 -19M229 1088l-22 -1M156 1045l-16 -7M338 839l5 -16M146 955l-10 -11M358 959l7 -12M318 844l1 -15M218 1074l-18 -2M512 1033l17 -4M362 1055l15 -5M274 1007l2 -18M115 1003l-14 -9M264 877l0 -15M19 1058l-21 -2M158 969l-7 -11M355 956l15 -15M40 1051l-18 -8M314 1019l5 -8M476 935l12 -14M126 1061l-9 -3M108 1007l-18 -8M219 909l-3 -12M291 949l-1 -17M352 954l10 -18M122 1045l-21 -4M529 1055l20 2M51 999l-14 -7M182 1020l-10 -8M277 1023l-2 -20M287 1039l2 -8M145 984l-7 -5M426 953l10 -5M332 1066l7 -4M281 897l-2 -14M87 967l-18 -6M372 963l10 -14M152 948l-8 -7M472 1033l10 -2M207 922l-6 -14M357 1015l14 -12M315 903l2 -10M373 952l10 -15M280 953l0 -16M287 905l-0 -17M452 964l13 -6M469 989l14 -11M471 946l10 -6M339 989l9 -16M144 965l-5 -6M102 905l-9 -8M440 951l6 -6M372 1065l13 -1M134 1032l-8 -4M85 930l-14 -13M35 1043l-19 -1M281 890l-2 -16M500 1088l13 -1M251 869l1 -20M360 963l5 -6M381 1084l16 4M389 1002l18 -13M365 1008l9 -8M369 893l4 -7M194 946l-6 -9M348 951l3 -9M410 912l10 -14M351 1057l14 -6M228 883l-2 -8M265 929l0 -22M238 903l-3 -13M157 1084l-10 1M439 956l15 -12M230 916l-2 -10M144 893l-5 -7M266 862l-4 -21M181 1007l-13 -11M469 960l10 -11M283 978l3 -20M72 1022l-18 -10M406 964l17 -14M271 986l-5 -18M484 1046l20 -8M442 922l9 -11M372 973l12 -14M199 861l-3 -8M305 853l5 -16M86 1055l-16 -3M206 891l-2 -10M173 906l-6 -9M391 1031l17 -4M156 931l-4 -13M118 1019l-12 -5M333 1037l14 -9M77 924l-12 -8M522 1026l15 -4M273 1003l-1 -20M183 861l-8 -20M420 915l11 -9M387 1057l17 -7M456 1029l17 -3M22 1041l-19 -1M240 1066l-11 -6M330 880l4 -15M57 994l-11 -5M78 1063l-18 -3M425 944l9 -13M174 882l-6 -9M506 1009l17 -8M286 857l1 -18M70 1024l-14 -5M303 892l2 -8M231 1053l-7 -7M81 980l-18 -10M239 906l-5 -19M121 889l-7 -12M435 1055l17 -4M392 962l6 -9M42 993l-16 -8M517 1049l18 -4M526 1079l16 3M423 984l18 -9M367 1071l16 -4M263 902l-0 -14M173 931l-13 -13M311 891l1 -10M377 942l9 -12M120 939l-14 -13M396 1051l15 -4M65 974l-9 -4M356 1048l17 -11M416 997l10 -5M194 922l-7 -9M361 1064l14 -6M329 847l1 -10M430 895l11 -9M318 1088l14 -1M369 1082l11 -1M121 1056l-19 -2M224 943l-10 -18M471 1061l12 -5M138 871l-12 -15M251 858l-1 -8M238 1077l-19 -8M43 1068l-12 -1M265 972l-0 -17M336 909l10 -15M343 1006l11 -17M297 1009l-0 -18M433 1049l10 -1M127 905l-7 -9M532 1058l17 -2M418 995l12 -7M326 878l4 -13M282 834l-1 -20M529 1038l15 -4M286 957l-1 -12M335 973l11 -14M523 1063l14 3M151 958l-5 -10M223 1043l-8 -6M258 968l-2 -10M319 864l3 -8M219 859l-3 -12M221 1016l-12 -13M180 1077l-13 -3M253 982l-4 -14M78 954l-12 -10M294 934l-1 -14M87 1017l-12 -3M346 1069l16 -2M444 1046l14 -3M116 896l-11 -9M259 1051l-3 -7M198 913l-5 -13M409 1016l16 -3M295 978l2 -12M208 1036l-8 -9M389 975l10 -5M242 1063l-10 -6M311 1067l9 -8M271 877l1 -16" stroke="#eeeef0" stroke-width="0.6" stroke-opacity="0.32" fill="none"/>
<path d="M361 1039l10 -5M329 888l2 -13M320 905l3 -20M156 908l-10 -13M304 1042l9 -12M405 1031l12 -8M329 842l5 -17M155 1064l-10 -2M54 1000l-19 -10M86 1074l-21 -4M469 955l15 -11M224 974l-5 -10M268 975l-5 -18M496 957l14 -10M196 985l-9 -14M101 1080l-11 -0M128 915l-10 -11M510 994l10 -5M409 925l6 -8M156 903l-4 -7M383 1001l8 -6M481 1050l19 -3M215 1056l-9 -6M256 839l-1 -9M243 1026l-5 -8M253 954l-3 -21M217 1026l-9 -10M78 989l-12 -12M480 1019l16 -8M407 957l11 -11M401 898l10 -13M161 940l-11 -10M399 1069l16 -1M271 913l-0 -12M190 845l-4 -16M519 1056l19 -1M109 1020l-11 -6M85 932l-18 -13M288 928l2 -13M492 979l8 -3M108 1001l-15 -9M129 942l-12 -13M266 960l-3 -11M223 881l-2 -10M170 1019l-12 -7M527 1088l12 -2M40 993l-9 -6M466 963l7 -5M248 1057l-13 -13M80 963l-15 -10M301 940l4 -21M465 991l8 -6M463 1086l11 1M341 848l7 -11M341 889l4 -10M169 1059l-17 -4M240 1063l-14 -15M277 984l-1 -12M191 858l-4 -16M117 934l-14 -15M360 935l6 -13M242 905l-1 -8M376 1024l18 -12M108 1009l-16 -13M296 882l1 -13M406 972l7 -7M236 906l-2 -20M268 988l2 -21M232 842l-1 -18M338 913l7 -16M257 963l-1 -9M386 859l5 -10M397 915l11 -19M183 1082l-21 -1M349 1064l17 -10M60 1021l-10 -4M229 922l-5 -18M271 906l-1 -19M448 955l15 -12M398 1043l13 -5M301 993l5 -14M63 946l-14 -12M110 1072l-19 -4M109 944l-17 -11M154 968l-12 -8M471 930l12 -10M348 1023l14 -16M287 964l-4 -19M427 992l9 -8M171 988l-11 -9M227 1088l-21 2M441 954l14 -15M99 1057l-10 -3M73 1041l-16 -6M422 1022l13 -7M487 1073l19 1M69 950l-14 -9M165 1054l-8 -3M347 1075l16 -2M77 1024l-10 -4M218 1051l-13 -13M383 880l4 -8M367 903l5 -13M451 987l9 -8M338 1067l18 -9M454 912l7 -9M508 1012l15 -3M240 1004l-5 -16M218 844l-0 -19M77 1049l-13 -2M141 1074l-13 -2M157 927l-12 -14M400 1061l21 -4M161 1035l-8 -4M367 1061l21 -6M125 896l-6 -7M123 964l-7 -7M307 972l0 -9M197 1003l-13 -15M377 961l10 -15M326 1057l8 -5M276 948l1 -10M289 924l4 -21M408 1062l14 -3M505 1003l7 -4M320 1003l9 -14M311 854l3 -16M289 1043l3 -13M216 926l-6 -17M433 926l10 -11M464 1011l13 -4M215 1004l-9 -13M274 840l1 -19M212 935l-6 -15M437 992l9 -2M326 940l10 -19M299 954l5 -16M338 1047l6 -6M464 1023l20 -7M407 1069l13 -3M96 1022l-12 -7M329 1020l8 -9M142 974l-8 -6M400 982l13 -12M130 1059l-11 -2M200 938l-10 -14M157 1004l-11 -8M385 998l7 -6M398 1017l8 -4M66 1001l-8 -3M76 999l-15 -9M358 1013l11 -13M134 1037l-14 -3M116 981l-7 -5M377 873l10 -18M80 1064l-17 -1M362 1082l9 0M235 880l-3 -19M530 1069l16 -3M97 970l-12 -8M399 1033l8 -4M453 1009l17 -7M147 1066l-12 -4M384 979l12 -14M485 1040l11 -3M57 983l-15 -5M216 919l-5 -9M316 930l4 -12M317 904l5 -21M355 966l7 -17M160 984l-7 -7M156 871l-9 -13M165 1082l-12 -2M420 1031l10 -3M258 1025l-4 -16M172 1058l-10 -2M445 934l10 -6M105 941l-5 -8M47 1069l-11 -1M344 1059l14 -8M402 1088l16 -2M247 893l-6 -19M379 1061l18 -5M90 1068l-11 1M403 954l6 -7M281 921l1 -16M440 1076l13 0M469 934l8 -4M365 883l5 -12M398 944l9 -12M505 1011l8 -4M494 1088l14 1M292 1018l2 -10M102 1066l-13 -1M352 957l4 -8M441 1031l14 -4M353 1041l8 -5M138 1022l-15 -4M472 949l11 -4M170 930l-8 -11M233 885l-2 -8M52 980l-8 -7M402 1019l10 -6M331 974l7 -14M172 889l-7 -13M74 1069l-20 -8M90 1032l-18 -7M427 1062l20 -2M227 979l-6 -12M353 1013l8 -9M355 845l3 -8M420 930l7 -7M326 980l5 -16M441 919l12 -15M390 1027l9 -6M73 1033l-19 -3M152 992l-15 -13M109 898l-9 -9M161 1090l-21 -3M343 927l7 -20M308 916l0 -19M423 941l9 -8M102 993l-18 -8M393 1076l12 1M458 988l16 -10M119 923l-5 -7M156 917l-13 -17M290 877l-1 -21M370 1038l14 -11M77 1047l-19 -3M317 995l5 -11M375 1015l15 -12M311 966l7 -19M137 996l-10 -7M491 1035l15 -9M141 1007l-17 -11M90 1024l-14 -4M151 1085l-16 0M328 978l4 -11M98 1060l-13 -3M199 872l-7 -18M381 864l2 -11M316 1079l17 -10M39 1072l-19 -2M123 1040l-12 -2M348 892l8 -19M358 982l7 -10M261 1037l-2 -11M306 836l0 -10M125 929l-15 -16M364 909l12 -12M363 1013l6 -7M450 966l11 -4M304 965l3 -8M391 1005l11 -7M102 1074l-10 -0M290 1012l2 -11M108 905l-9 -11M279 1033l1 -15M168 1020l-12 -11M405 1069l14 -3M231 941l-5 -16M382 1077l10 -1M108 901l-11 -8M280 994l-1 -11M198 916l-6 -17M378 1009l13 -5M234 1043l-6 -8M135 1012l-19 -11M462 1013l9 -5M181 1084l-20 6M356 978l12 -14M348 1038l15 -6M177 996l-9 -11M201 1010l-6 -9M53 975l-18 -10M126 938l-7 -9M20 1060l-21 -1M135 910l-6 -8M148 1041l-14 -12M405 1004l9 -6M287 1043l0 -19M439 1042l16 -4M100 1011l-11 -7M255 937l-5 -18M131 985l-10 -9M439 993l13 -6M385 956l5 -8M395 1063l12 -1M313 866l8 -19M416 990l15 -8M103 983l-16 -13M49 1039l-17 -4M210 1036l-8 -7M63 1040l-21 -6M375 861l4 -13M468 1056l13 -4M353 925l5 -12M307 1044l5 -9M445 1049l10 -3M314 1003l4 -9M177 1029l-9 -5M195 851l-8 -19M376 919l7 -17M360 965l5 -18M468 1032l13 -6M272 868l-1 -11M455 1062l9 -2M270 1005l-2 -20M276 936l1 -10M260 1001l-5 -20M112 1015l-13 -7M207 908l-6 -11M357 953l7 -15M528 1031l16 -7M183 1021l-16 -11M373 990l7 -7M177 1043l-9 -4M104 927l-7 -9M194 1072l-12 -2M217 1056l-9 -4M232 882l-1 -9M373 946l7 -8M427 990l9 -3M377 970l12 -13M123 1032l-17 -4M301 972l-0 -15M128 916l-10 -15M252 933l-3 -12M22 1064l-15 -2M503 1013l19 -6M87 960l-11 -7M387 915l5 -10M365 907l7 -13M45 1062l-19 -1M146 1046l-17 -8M289 833l2 -10M238 1002l-4 -17M238 965l-8 -17M372 895l6 -10M306 886l6 -18M26 1064l-21 -4M78 943l-11 -7M233 861l-5 -11M259 970l-2 -21M437 932l14 -14M378 969l11 -16M341 893l2 -10M162 1033l-17 -10M49 1063l-16 -1M103 1000l-17 -6M451 953l8 -6M232 1024l-13 -17M307 960l3 -16M357 997l13 -11M355 1036l16 -8M213 927l-1 -11M379 995l8 -6M31 1041l-9 -1M61 991l-12 -7M336 877l4 -11M281 903l2 -18M381 880l12 -10M313 1035l6 -9M474 923l10 -10M487 976l16 -6M165 966l-6 -6M278 956l-2 -12M293 953l1 -14M166 900l-10 -19M370 1057l10 -2M266 921l-1 -21M152 998l-8 -3M87 1051l-12 -5M346 968l12 -17M329 837l1 -8M48 1047l-8 -3M141 958l-12 -6M314 842l0 -9M506 1046l11 -3M394 909l10 -17M225 1016l-9 -8M124 941l-15 -14M134 916l-6 -9M99 1031l-17 -8M169 935l-8 -9M37 1071l-19 -5M223 898l-3 -20M474 1052l15 -2M106 934l-12 -7M225 1047l-12 -9M339 888l6 -12M448 950l10 -7M83 1072l-13 -1M389 892l8 -15M304 979l7 -17M100 908l-17 -13M126 1032l-9 -4M224 1002l-11 -17M343 931l7 -21M99 946l-12 -9M419 946l5 -8M398 1009l12 -10M26 1078l-14 2M375 916l6 -7M273 984l-2 -15M236 1058l-10 -8M311 891l2 -19M325 845l1 -17M175 854l-3 -9M34 1045l-19 -4M388 951l5 -9M494 1040l10 -2M117 1032l-15 -8M361 1021l9 -8M440 1038l21 -4M145 1009l-15 -9M168 885l-7 -18M387 981l8 -4M353 970l6 -10M70 960l-9 -4M349 871l4 -9M125 1026l-14 -8M214 1026l-14 -14M225 995l-11 -16M217 963l-11 -17M365 1067l10 -3M297 844l0 -18M246 896l-5 -19M306 1030l7 -7M530 1070l18 -3M88 1056l-12 -2M75 957l-17 -12M412 1017l18 -10M468 1089l21 1M210 846l-3 -11M420 985l17 -8M327 1066l14 -8M475 953l17 -10M156 1048l-13 -6M365 1066l17 -6M522 1007l15 -5M156 862l-5 -8M82 947l-11 -8M355 869l3 -9M384 912l7 -10M429 912l13 -14M216 869l-5 -19M37 988l-13 -6M293 1010l1 -9M205 1010l-14 -14M401 990l6 -6M139 1089l-11 -1M484 958l8 -5M354 1066l16 -9M55 1018l-10 -4M165 871l-7 -16M154 868l-7 -11M251 962l-1 -19M250 933l-1 -8M80 1079l-21 -2M238 895l0 -21M432 1049l11 -4M47 1002l-13 -2M265 910l-1 -9M284 890l1 -14M448 912l7 -7M60 1024l-13 -4M287 1001l2 -16M457 951l11 -9M362 1052l18 -6M112 925l-11 -11M180 937l-7 -16M276 932l2 -11M181 879l-8 -15M248 840l-2 -15M276 1027l-1 -14M249 857l-2 -13M116 1009l-7 -5M306 845l6 -14M414 1078l19 -1M140 1031l-17 -11M404 1027l17 -9M377 936l10 -12M154 946l-7 -6M349 942l8 -12M254 834l-2 -11M446 971l14 -11M193 864l-6 -14M377 1069l20 -4M98 1011l-12 -5M167 949l-8 -13M187 1033l-14 -11M55 1027l-19 -8M176 1082l-22 0M310 953l3 -19M301 1034l3 -9M202 998l-14 -16M366 847l8 -15M344 998l10 -15M429 1066l18 -6M352 1049l18 -9M72 1015l-19 -9M148 1005l-12 -9M419 1073l16 -2M253 962l1 -16M339 1048l13 -6M373 1036l10 -7M239 1014l-6 -13M108 971l-10 -8M143 907l-5 -6M92 926l-9 -9M306 1016l12 -16M531 1085l16 -2M299 1050l7 -12M237 839l-3 -15M45 1034l-18 -7M52 990l-9 -4M388 873l9 -15M331 933l5 -14M534 1072l12 -2M473 946l7 -5M323 995l8 -15M270 863l-1 -15M412 887l9 -12M94 990l-21 -5M139 1005l-7 -4M410 1036l10 -6M441 922l15 -11M191 872l-3 -9M341 1003l14 -12M196 918l-10 -14M443 1027l20 -3M476 1018l17 -7M432 951l17 -12M514 1007l12 -5M61 995l-9 -4M86 1045l-21 -5M212 840l-4 -13M33 1074l-9 -2M291 887l2 -18M65 962l-11 -7M228 903l-7 -21M291 990l0 -14M401 934l9 -12M156 1044l-8 -3M257 831l-1 -10M95 1061l-11 -1M193 1005l-12 -12M405 871l9 -13M314 968l2 -9M176 883l-8 -19M443 1042l11 -4M308 903l2 -11M369 1065l18 -6M349 878l3 -13M388 963l5 -6M320 878l3 -15M246 915l-2 -15M158 1039l-10 -3M447 1078l16 -6M397 999l7 -5M443 894l10 -11M289 932l1 -8M321 861l1 -15M198 935l-9 -14M482 1007l11 -2M320 870l4 -12M185 848l-7 -11M142 906l-13 -16M296 939l1 -12M481 1070l14 -1M145 1044l-14 -6M315 1024l11 -18M274 923l-0 -20M332 867l2 -9M132 984l-16 -14M133 946l-7 -6M519 1076l12 -2M65 975l-15 -6M251 912l-0 -8M360 1081l17 -1M154 1078l-10 -2M32 1053l-9 -1M60 1074l-19 2M499 986l12 -4M339 957l10 -19M114 955l-7 -6M180 1076l-17 -5M120 1048l-18 -3M352 911l5 -16M432 1005l11 -6M474 1089l9 -0M433 921l13 -12M322 947l5 -18M135 878l-5 -15M234 1036l-9 -13M401 882l9 -17M229 933l-6 -12M298 1021l3 -8M277 1017l1 -13M370 864l4 -12M448 1038l19 -3M123 930l-9 -12M374 1048l15 -6M268 843l1 -9M304 1031l8 -15M187 934l-11 -8M411 896l8 -14M371 956l9 -20M329 941l6 -15M259 892l-1 -11M322 1056l11 -12M108 1085l-19 2M447 917l9 -6M187 1047l-13 -10M454 975l16 -12M521 1007l13 -5M225 917l-4 -11M113 1056l-18 -6M235 836l-3 -12M250 1047l-8 -17M229 866l-2 -14M327 844l2 -11M209 1048l-10 -5M313 843l7 -16M220 985l-7 -9M217 957l-8 -19M188 888l-6 -10M308 932l1 -12M424 1003l12 -8M296 896l1 -11M118 934l-15 -14M336 892l8 -19M455 1028l18 -11M373 1006l18 -12M140 920l-8 -14M208 1090l-19 1M428 1048l20 -6M403 1037l20 -6M458 974l11 -4M286 1034l2 -14M142 974l-13 -9M307 938l2 -17M209 842l-2 -15M298 997l5 -18M150 1041l-19 -9M144 1047l-20 -3M421 931l10 -10M271 833l-0 -19" stroke="#eeeef0" stroke-width="0.6" stroke-opacity="0.40" fill="none"/>
<path d="M301 945l0 -8M365 945l6 -10M134 922l-11 -8M289 953l-1 -6M349 964l6 -9M524 1085l11 -2M512 1088l11 -0M501 1041l7 -3M236 1015l-6 -12M299 1007l3 -13M379 943l6 -10M226 958l-2 -6M343 843l1 -11M441 972l8 -6M254 924l-0 -8M114 963l-9 -11M263 946l-2 -7M213 973l-6 -13M72 1018l-7 -3M165 994l-6 -6M114 1074l-13 2M372 879l3 -7M200 1083l-10 -0M176 917l-4 -6M300 934l-1 -9M356 1066l10 -3M330 1005l5 -9M116 1058l-8 -1M342 1044l13 -8M360 987l6 -8M194 1028l-6 -9M122 990l-13 -3M463 992l10 -3M120 1090l-7 -0M277 1005l1 -11M398 890l5 -9M102 1060l-15 -0M392 990l6 -5M385 870l6 -12M370 993l10 -11M505 994l13 -6M337 841l3 -8M528 1072l6 -1M348 974l7 -14M240 1019l-5 -12M491 962l10 -6M464 962l7 -3M211 1045l-9 -8M122 930l-7 -5M185 908l-4 -8M390 890l6 -13M110 976l-6 -5M389 935l6 -7M362 1032l10 -6M425 1037l7 -2M514 986l9 -6M443 947l10 -7M417 892l9 -13M208 1012l-8 -8M392 916l7 -9M180 954l-9 -9M499 1059l15 -3M212 923l-3 -6M225 1002l-8 -11M261 1012l-2 -11M252 1024l-2 -7M170 1012l-6 -5M96 1062l-15 -1M283 873l0 -11M394 1027l8 -3M464 1044l15 -2M221 972l-3 -11M291 856l3 -15M341 870l4 -9M399 882l8 -13M277 976l1 -9M133 996l-11 -6M340 984l3 -7M101 924l-7 -8M155 1065l-7 -1M126 1001l-6 -5M316 975l5 -12M104 1076l-8 -1M68 987l-6 -3M426 912l7 -11M411 1042l10 -3M194 957l-4 -6M408 963l13 -8M459 1050l14 -3M395 1028l12 -9M489 1086l10 0M323 890l2 -8M128 1029l-9 -4M482 1012l10 -2M243 852l-2 -12M174 929l-10 -12M292 887l1 -12M383 945l5 -7M331 964l5 -11M299 965l4 -15M159 910l-5 -9M58 1076l-14 2M331 997l7 -9M128 1039l-14 -5M258 844l-2 -11M422 1016l13 -7M467 1039l14 -6M273 1018l-1 -9M244 873l-3 -9M103 969l-10 -5M448 1025l10 -4M204 1017l-11 -11M97 923l-6 -6M90 1086l-11 -1M212 937l-5 -13M211 972l-5 -13M210 1042l-8 -9M292 945l4 -15M230 1024l-6 -6M400 947l8 -6M396 1085l11 -2M68 1047l-6 -2M217 911l-2 -7M515 1043l7 -2M357 970l4 -5M327 861l3 -8M201 1066l-7 -2M171 920l-6 -7M139 971l-8 -5M248 972l-4 -13M511 1003l15 -2M307 1012l5 -10M224 960l-3 -7M311 959l1 -7M162 1048l-13 -5M418 1064l10 -3M118 889l-7 -10M222 1087l-13 -1M65 940l-8 -4M499 1031l8 -3M426 956l6 -7M323 896l2 -10M140 998l-6 -5M160 1036l-12 -7M373 852l2 -10M258 1031l-3 -14M77 1020l-14 -3M334 1006l4 -9M391 912l8 -13M435 1009l13 -7M260 987l-1 -14M385 1055l10 -4M454 945l11 -8M172 1001l-9 -10M223 898l-2 -7M358 961l4 -7M480 1085l16 -0M35 1085l-7 -0M238 1031l-4 -8M327 976l2 -6M456 1064l12 -1M384 969l5 -6M193 977l-5 -8M284 975l-1 -10M262 1048l-2 -7M129 978l-6 -4M353 977l7 -7M86 949l-13 -8M311 948l2 -7M438 1066l12 -3M178 1042l-8 -4M490 1034l7 -2M189 901l-7 -12M132 983l-8 -8M153 986l-5 -4M238 901l-1 -7M22 1074l-9 1M260 1017l-2 -8M343 981l8 -12M363 941l5 -7M202 1050l-6 -3M404 1089l11 1M390 1083l11 -2M43 1057l-13 -2M37 1035l-6 -2M103 904l-7 -7M231 927l-2 -9M28 1021l-10 -2M351 964l3 -7M460 1041l15 -3M49 984l-12 -9M278 1034l2 -11M112 1021l-6 -3M340 1003l5 -8M519 1059l7 -1M246 980l-3 -14M55 999l-11 -5M169 856l-5 -7M201 900l-1 -6M258 970l-2 -15M427 907l5 -9M267 854l-0 -8M164 1018l-7 -5M416 882l7 -12M223 917l-4 -14M472 966l6 -5M254 1007l-3 -9M201 1045l-9 -5M180 1090l-11 3M225 1063l-10 -11M132 988l-15 -4M478 1069l11 -3M475 929l6 -4M54 1040l-11 -1M236 1027l-8 -13M333 919l0 -7M98 979l-6 -4M428 989l7 -5M254 850l-1 -7M260 931l-2 -6M374 896l3 -7M384 955l6 -12M142 1002l-9 -5M418 890l5 -9M198 1010l-8 -8" stroke="#7a7a80" stroke-width="0.6" stroke-opacity="0.08" fill="none"/>
<path d="M247 957l-2 -11M91 1059l-15 -2M257 1037l-2 -8M429 903l8 -12M327 970l5 -14M222 846l-6 -13M241 904l-3 -7M382 1016l9 -6M454 933l9 -10M122 913l-7 -10M143 899l-9 -11M253 1023l-5 -10M335 946l7 -10M105 957l-7 -6M316 1006l6 -9M431 1047l11 -0M291 905l1 -13M312 915l1 -7M42 1024l-11 -3M203 908l-2 -14M465 944l12 -11M281 1037l3 -9M38 1058l-8 -1M397 1060l11 -3M54 1051l-9 -1M397 1063l15 -4M344 1029l9 -8M402 1058l8 -3M58 970l-13 -7M144 952l-12 -10M176 864l-5 -12M303 844l-0 -7M241 963l-2 -10M304 1018l6 -13M85 1008l-7 -2M458 973l6 -4M431 950l11 -11M274 949l-1 -10M55 1073l-14 -1M249 990l-3 -14M284 869l-1 -12M418 1054l12 -5M379 1034l13 -5M25 1067l-12 -3M163 1073l-13 -2M98 905l-6 -7M20 1064l-13 -1M241 862l0 -15M365 1036l7 -3M237 877l-2 -8M161 1026l-6 -3M239 1063l-5 -4M429 895l4 -5M160 868l-8 -11M31 1014l-11 -4M247 971l-1 -11M476 974l11 -5M134 1033l-6 -3M356 990l5 -5M294 913l3 -8M63 977l-8 -6M498 1005l14 -4M96 1059l-14 -4M96 1014l-11 -4M115 1064l-10 -2M210 1001l-9 -9M242 963l-2 -12M224 925l-3 -9M256 967l-2 -6M353 850l3 -10M416 1077l8 -1M387 1043l10 -5M378 924l8 -12M337 928l4 -8M163 1054l-9 -4M323 946l2 -9M411 881l5 -9M187 972l-6 -14M215 947l-3 -6M346 1087l13 -3M308 852l1 -6M412 1014l7 -4M454 1060l12 -0M204 935l-5 -12M166 1016l-13 -10M110 1014l-5 -4M298 871l0 -6M192 916l-5 -13M132 949l-8 -10M368 906l7 -13M424 940l4 -4M155 1077l-11 -2M168 892l-4 -7M97 973l-7 -3M310 905l4 -15M88 1070l-9 -1M381 961l8 -8M225 1008l-8 -9M368 909l5 -14M216 987l-3 -11M113 918l-5 -4M414 966l7 -5M78 935l-10 -11M316 1063l9 -7M255 1046l-4 -7M287 963l2 -8M125 1076l-11 -1M293 1015l2 -12M330 894l2 -10M261 1044l-4 -9M374 1089l7 -1M34 1004l-15 -3M457 964l12 -10M97 954l-5 -6M416 1030l7 -3M317 1044l11 -11M402 1023l7 -3M284 880l-1 -9M443 905l9 -10M333 838l1 -7M147 1039l-14 -6M395 919l5 -7M122 1038l-7 -1M121 1000l-14 -6M56 972l-6 -5M265 964l-1 -15M438 945l8 -5M63 979l-13 -6M160 903l-5 -11M301 1044l7 -10M317 903l2 -11M457 974l10 -5M227 869l-4 -10M509 1054l14 -4M51 964l-7 -3M293 1015l3 -14M219 1033l-8 -10M215 1059l-9 -4M471 1089l7 0M248 1020l-4 -15M173 1012l-9 -4M118 967l-8 -6M230 1025l-6 -8M360 891l4 -10M391 1032l12 -4M248 835l-2 -10M328 983l4 -7M515 1087l8 -1M457 981l6 -2M328 953l2 -6M138 931l-4 -6M209 1076l-8 -0M308 1052l7 -11M427 946l5 -6M380 973l10 -12M166 1073l-10 -0M208 978l-3 -7M479 939l13 -8M283 850l-0 -6M224 1057l-11 -4M174 950l-6 -9M111 1047l-11 -0M117 900l-8 -7M170 1032l-10 -7M158 1009l-8 -9M118 983l-7 -6M255 967l-4 -13M159 928l-3 -7M291 1039l4 -7M424 906l4 -8M323 1004l4 -7M254 949l-1 -15M171 1060l-13 -5M241 918l-4 -11M465 975l11 -8M184 1034l-6 -5M184 1047l-8 -7M160 910l-6 -12M441 898l8 -12M299 907l1 -8M258 933l-2 -13M192 848l-3 -13M316 959l6 -14M79 946l-11 -5M398 929l5 -7M430 1041l13 -2M305 1040l9 -12M136 905l-4 -9M421 949l6 -6M205 1087l-13 -2M308 874l0 -7M174 930l-3 -8M305 968l3 -7M216 878l-0 -7M340 915l3 -6M109 976l-10 -7M118 1033l-7 -1M436 1050l13 1M231 1086l-9 1M168 997l-8 -6M386 856l5 -7M195 930l-7 -11M153 971l-12 -8M90 919l-11 -10M42 1078l-14 2M390 968l6 -7M281 843l2 -14M260 1008l-2 -8M272 1004l0 -7M196 888l-3 -7M341 1013l11 -10M321 954l2 -8M362 849l3 -6M399 976l7 -7M148 1026l-6 -3M468 1012l14 -5M287 1001l2 -14M220 1028l-6 -6M511 1022l10 -3M218 865l-1 -15M211 1023l-5 -6M426 918l4 -5M390 888l6 -14M267 854l-2 -8M48 1056l-13 0" stroke="#7a7a80" stroke-width="0.6" stroke-opacity="0.11" fill="none"/>
<path d="M297 1001l3 -12M382 950l6 -6M483 1016l6 -2M312 1026l4 -8M481 941l7 -7M176 966l-8 -10M163 983l-7 -6M289 1044l2 -8M487 945l6 -3M143 909l-4 -7M491 1066l11 -3M410 1046l13 -4M171 1035l-14 -4M120 1037l-9 -5M102 985l-9 -4M355 959l5 -8M213 840l-1 -8M404 948l13 -9M236 837l-2 -14M334 997l11 -11M159 872l-3 -5M415 1065l8 -4M192 1075l-7 -1M130 992l-8 -4M318 958l3 -13M234 894l-1 -12M202 1007l-12 -10M490 1033l9 -4M134 905l-7 -9M147 1050l-8 -7M36 1033l-8 -3M413 941l9 -12M59 990l-11 -8M251 979l-2 -7M233 1070l-10 -5M338 1006l7 -8M498 1058l14 -1M373 906l8 -9M233 973l-3 -10M106 1078l-10 -2M392 1080l15 -1M506 1006l13 -3M150 1000l-12 -10M493 1030l6 -2M104 898l-5 -7M155 943l-4 -5M70 956l-10 -6M395 1079l10 -1M96 949l-10 -7M358 944l4 -5M120 1033l-9 -1M475 952l12 -8M131 967l-7 -5M422 1089l11 -2M419 985l9 -6M198 978l-9 -10M321 986l3 -6M473 1066l11 1M284 923l-0 -10M179 851l-4 -9M408 989l7 -4M242 923l-3 -15M393 866l6 -13M428 895l4 -5M173 1090l-14 5M407 1061l15 -5M175 995l-7 -7M168 1072l-7 -1M368 958l6 -7M216 843l-1 -15M106 894l-11 -11M467 1039l14 -3M145 967l-6 -6M216 975l-8 -11M434 897l8 -9M313 1055l10 -7M207 885l-6 -13M503 1077l10 -0M240 839l-1 -16M368 1020l6 -3M241 1018l-5 -11M389 878l4 -7M417 894l9 -13M446 1056l11 -3M322 928l2 -11M254 913l-0 -6M275 881l-1 -15M116 997l-4 -4M322 895l2 -9M418 1043l14 -6M264 994l0 -16M199 876l-2 -7M21 1059l-15 -1M508 1080l10 -0M122 998l-9 -5M107 1025l-12 -3M120 953l-7 -9M417 909l5 -6M439 952l10 -6M139 870l-6 -11M232 1050l-14 -8M205 1051l-10 -5M417 1074l13 2M248 1014l-8 -13M203 1042l-5 -4M427 915l10 -13M101 1084l-7 -0M317 978l6 -10M180 901l-6 -9M290 883l-0 -15M314 967l4 -7M44 1019l-10 -5M313 935l2 -8M414 1035l7 -2M87 967l-14 -7M351 892l3 -7M285 864l0 -6M257 897l-3 -10M233 1032l-7 -8M422 961l8 -5M498 968l9 -6M255 919l-1 -8M306 1049l11 -10M58 1077l-11 -2M345 1074l12 -5M325 836l3 -15M382 1069l8 -2M343 1034l6 -5M89 1077l-15 1M207 974l-7 -10M528 1045l10 -1M55 970l-13 -6M155 1022l-11 -5M313 962l3 -8M438 972l12 -9M283 1000l1 -11M178 1054l-12 -5M213 989l-6 -13M385 904l4 -11M261 987l1 -7M351 856l3 -11M275 841l-0 -11M427 968l10 -11M355 938l7 -10M183 963l-10 -10M217 1005l-8 -13M415 871l3 -6M314 890l1 -11M284 855l-2 -8M273 1022l1 -9M272 850l-0 -6M519 1048l9 -0M232 836l-5 -13M137 946l-11 -8M240 1045l-10 -9M93 1037l-10 -2M146 956l-10 -10M489 981l10 -4M403 944l5 -4M187 962l-9 -12M73 1013l-6 -2M346 989l6 -13M487 1076l13 -4M256 846l-2 -6M398 918l5 -7M47 1010l-6 -2M405 1061l14 -4M457 1037l12 -3M325 908l5 -15M438 969l12 -10M151 941l-8 -11M388 1052l16 -3M152 909l-6 -8M142 1032l-10 -6M303 960l1 -6M518 1041l7 -2M193 965l-5 -11M171 1075l-14 -4M368 906l4 -9M503 1085l15 -2M57 1058l-15 -2M511 1084l14 -2M240 863l-0 -13M469 1056l15 -2M208 976l-6 -10M145 866l-4 -8M151 958l-6 -6M90 1019l-8 -4M471 925l9 -6M149 1077l-10 -2M345 948l4 -8M320 1076l9 -2M288 914l0 -11M149 1073l-12 1M102 1046l-12 -2M97 1032l-11 -3M53 1019l-6 -2M402 995l4 -4M71 989l-14 -3M383 887l8 -13M458 1063l14 -4M293 850l-0 -13M403 1074l15 4M156 990l-10 -8M148 1090l-13 -1M436 942l7 -7M215 1008l-3 -6M311 882l2 -15M428 882l8 -11M237 1075l-9 -4M376 945l4 -7M358 853l3 -14M108 1018l-12 -7M355 1070l13 -5M274 850l-4 -12M268 905l0 -13M42 1077l-9 -1M191 1020l-9 -5M449 997l14 -6M495 1046l11 -3M269 1041l-3 -14M233 1004l-5 -14M340 930l3 -11M65 975l-9 -7M145 877l-6 -9" stroke="#7a7a80" stroke-width="0.6" stroke-opacity="0.15" fill="none"/>
<path d="M230 1045l-8 -7M399 978l6 -4M273 1033l1 -15M216 1041l-12 -9M162 863l-7 -14M200 1037l-12 -10M97 925l-11 -9M243 895l-4 -11M448 946l5 -5M428 952l10 -12M390 865l7 -11M316 962l2 -13M135 977l-6 -6M199 845l-4 -13M228 933l-3 -6M237 897l-2 -7M370 956l6 -8M212 1021l-11 -9M213 922l-2 -9M155 886l-7 -10M276 915l-0 -7M412 997l11 -6M344 964l7 -9M503 970l8 -6M269 1047l-1 -7M440 926l10 -9M341 904l3 -14M78 990l-7 -5M248 989l-1 -14M66 1084l-7 0M455 1032l11 -4M389 1015l9 -4M126 1007l-14 -7M276 997l-0 -10M47 999l-7 -3M381 892l5 -8M399 933l10 -11M425 892l8 -9M164 1041l-8 -2M517 1082l10 -0M403 1024l8 -6M296 972l0 -11M129 918l-4 -6M78 945l-11 -6M365 907l2 -7M242 1041l-11 -10M94 946l-5 -4M427 1060l12 -4M138 966l-5 -3M459 976l13 -6M113 906l-10 -10M422 1020l9 -4M211 1019l-7 -8M348 909l5 -10M234 927l-0 -13M221 1012l-6 -12M159 970l-9 -9M112 931l-5 -6M70 1006l-11 -5M319 957l2 -8M398 945l7 -11M150 1014l-8 -6M80 1053l-14 -3M235 940l-5 -13M310 838l1 -13M91 971l-13 -8M234 1078l-12 -4M81 1025l-7 -3M447 1030l14 -4M223 1045l-5 -4M475 967l14 -6M398 910l5 -9M182 1088l-7 1M296 962l2 -8M149 1028l-10 -6M215 1081l-14 -1M473 929l5 -7M200 1088l-9 0M233 856l-2 -7M161 1065l-12 -2M486 1070l13 -0M126 978l-11 -11M473 1037l15 -3M246 1057l-5 -7M232 923l-4 -15M264 943l0 -7M339 978l4 -14M143 980l-5 -5M91 983l-14 -8M92 990l-7 -6M289 992l4 -15M359 966l5 -6M260 967l-0 -14M91 1053l-7 -1M207 909l-2 -8M307 1021l4 -5M486 940l13 -9M51 993l-13 -8M359 967l3 -6M102 1026l-10 -5M363 1087l15 -1M284 1008l1 -9M312 1038l5 -5M364 903l1 -7M414 897l2 -8M257 890l-2 -12M368 1065l12 -0M344 913l4 -13M149 926l-9 -12M171 883l-4 -6M179 962l-5 -7M267 1045l-3 -11M187 969l-8 -12M139 1030l-14 -7M261 968l-0 -9M327 1086l14 2M234 986l-3 -6M500 1082l15 1M460 1034l14 -1M381 1044l14 -4M230 895l-4 -16M432 886l7 -9M119 982l-10 -8M106 921l-5 -5M401 1060l15 -4M71 970l-12 -4M437 914l9 -10M367 856l2 -10M386 855l2 -6M326 1026l4 -5M220 862l-2 -15M364 948l5 -8M387 976l8 -11M266 896l-1 -6M441 944l5 -5M420 915l6 -5M350 1016l5 -5M86 998l-6 -4M86 1052l-11 -4M98 1006l-14 -7M193 1048l-5 -4M274 1018l-1 -8M222 858l-4 -10M474 1074l9 -0M266 848l1 -7M433 911l7 -11M166 1077l-9 0M119 945l-11 -9M248 898l1 -12M185 1025l-9 -3M462 985l8 -4M76 947l-12 -9M330 892l2 -6M202 960l-3 -7M364 938l8 -10M329 1033l10 -7M431 950l6 -6M189 1049l-7 -3M34 1010l-12 -2M406 910l7 -10M124 1078l-14 -3M489 1055l12 -4M262 876l2 -10M389 980l9 -7M406 992l7 -5M133 1064l-10 -2M144 1079l-8 -1M269 870l-2 -11M487 942l11 -8M482 994l12 -4M43 1026l-12 -3M510 993l12 -5M70 1032l-8 -2M74 933l-12 -8M290 861l0 -7M142 1077l-12 -1M116 1068l-14 -1M91 975l-6 -3M265 1006l-1 -7M518 1020l8 -0M377 983l11 -9M129 1035l-14 -7M339 870l2 -8M311 879l2 -10M214 1014l-7 -11M304 885l1 -9M319 927l2 -11M453 1054l14 2M97 1080l-10 -0M57 1087l-13 0M465 962l5 -3M181 868l-2 -9M199 1087l-14 0M457 977l14 -7M365 891l6 -11M367 985l6 -8M467 915l5 -4M450 1070l10 0M185 1011l-8 -6M182 854l-4 -10M351 1053l7 -5M193 861l-2 -9M140 875l-2 -6M363 1052l12 -4M357 1061l8 -4M276 972l-1 -9M445 909l6 -8M160 1067l-6 -2M242 920l-1 -9M140 968l-9 -6M263 983l-2 -10M295 1024l3 -11M381 955l5 -6M98 911l-6 -7M189 967l-5 -7M277 944l2 -11M84 996l-8 -3M311 877l3 -12M167 959l-11 -11M460 961l6 -2M170 984l-8 -9M225 995l-3 -13M308 874l5 -13M208 1019l-11 -10M147 903l-8 -10" stroke="#7a7a80" stroke-width="0.6" stroke-opacity="0.18" fill="none"/>
<g filter="url(#blur3)"><path d="M322 953L323 946L325 940L326 936L327 931L329 926L332 921L334 917L335 911L336 903L337 899M199 1006L196 1004L191 998L188 994L184 990L180 985L176 980L173 976L168 970L166 966L164 961L162 957L159 954L157 950L153 946L149 941M325 989L327 985L329 981L332 975L334 968L335 961L336 957L339 951L342 945L346 938M192 1017L188 1013L183 1008L180 1004L176 1000L173 996L169 993L165 989L160 985L154 981L149 978L146 975L142 971L139 969L135 965L131 962L127 958L124 956L120 950M250 998L248 991L246 984L243 976L241 969L239 964L237 959L235 951L233 944L230 938L227 931L225 927L223 921L220 914L218 908L217 904L214 897L212 892L210 886L208 879M291 977L292 972L292 967L293 960L292 954L291 947L291 940L291 936L291 931L290 924M200 955L197 949L194 944L191 938L188 934L184 927L181 922L178 918L175 911M174 1023L169 1018L164 1014L159 1009L154 1006L149 1001L145 998L140 994M235 992L232 987L229 981L227 978L223 973L219 968L216 963L214 958L211 953L208 946L205 940L202 934L198 929L196 923L194 916L193 911L191 906L188 900L186 895M221 1008L217 1002L214 998L210 993L206 990L202 986L200 982L198 978L195 974L192 968L189 963L186 957L183 951L181 946M302 971L303 963L303 957L304 951L303 944L303 940L303 936L302 928L301 923M266 984L264 978L263 971L260 965L258 958L258 951L257 945L256 940L254 933L253 926L253 919L253 915L252 907L251 899L250 892L250 885L250 881L251 873L250 868L250 862L249 855L249 849M309 989L309 985L310 980L311 973L312 969L313 965L315 957L316 952L318 948L319 943L320 939L321 935L322 930L323 922L324 917L325 912L328 905L330 898L332 893L333 886L334 881L336 875L337 871M184 1047L179 1042L173 1038L168 1033L164 1031L158 1028L154 1026L147 1023L144 1022L139 1020L134 1018L127 1015L122 1013L116 1009L111 1004L106 999L102 993L98 990L94 986M190 1029L186 1026L181 1022L176 1017L171 1012L167 1009L165 1005L159 1001L156 998L151 995L146 991L140 988L136 984L132 981L128 977L123 974L117 970M331 972L332 968L334 961L336 956L339 951L342 946L344 942L346 936L347 931L349 925L350 919L352 912L354 907L356 901L358 895L361 890L363 883M208 995L205 989L201 985L198 980L195 976L191 973L187 969L184 967L179 961L174 956L170 951L165 946L162 942L159 938M220 1028L215 1023L211 1020L207 1015L201 1009L198 1006L193 1001L187 997L183 993L180 990L176 985L173 982L169 978L165 973L160 968M319 1013L321 1008L322 1003L324 996L326 989L328 982L330 976L332 970L333 963L336 956L338 951L340 945L342 940L345 935M165 993L161 988L157 985L153 982L150 979L143 974L140 972L135 967L130 962L126 959L123 956L119 953L116 949L111 944L106 939M331 974L335 968L339 962L341 959L346 954L351 948L354 942L358 938L362 934L365 931L369 927L373 921L377 915L379 911L382 905L384 901L387 896L391 890L393 885L397 880M203 1036L199 1032L194 1029L187 1025L182 1023L177 1018L174 1014L170 1009L167 1005L163 999L160 995L157 990L152 984L148 980L145 977L142 974L137 970L131 965L127 963L121 960L117 957L113 955L109 952L103 947M230 973L228 969L227 965L225 959L224 954L222 948L219 941L218 936L215 929L213 922L211 915L210 910L209 905L208 901L205 894L203 886M193 1054L186 1053L181 1052L175 1051L170 1050L165 1047L159 1043L156 1041L151 1039L144 1036L138 1034L133 1032L128 1030L123 1027L118 1024L114 1022L110 1020L103 1016L97 1014L92 1012M212 976L209 970L205 964L203 957L202 953L198 946L197 942M298 950L298 943L298 938L298 931L298 925L298 918L299 913L301 909L302 903L302 898L303 892L304 887L305 881L305 873M290 996L291 989L293 984L294 977L296 971L299 964L300 957L303 950L304 945L306 939L308 935L310 930L313 924L316 919L318 916L321 910L322 906L324 899L327 892L329 886L330 882M349 988L351 985L354 980L357 976L359 972L361 966L363 960L365 954L367 948L370 941L374 934L378 928L382 924L388 919L392 913M261 986L260 981L259 974L258 967L257 962L256 956L256 950L255 944L255 940L254 935L254 930L254 925L253 920L252 915L250 909L248 903L245 897L242 892L239 887L237 881M273 978L271 971L271 964L270 957L269 950L268 944L268 939L268 934L268 926L267 918L265 910L264 906L264 899L264 892L264 886M200 982L197 978L194 974L191 970L187 965L183 961L179 957L174 953L168 948L164 944L161 939L158 931L155 925L152 918L151 914L147 908M172 1055L166 1053L159 1050L154 1049L149 1047L141 1046L136 1044L129 1041L123 1040L118 1039M339 976L341 969L345 962L347 956L351 950L353 944L358 938L360 933L364 927L367 920L369 916L371 912L373 907L376 901L378 897L380 893M181 1001L176 996L171 990L166 985L162 979L157 974L152 968L147 962L142 957L137 952M323 946Q329 939 333 931M325 940Q333 934 338 929M327 931Q333 925 337 919M329 926Q334 921 329 916M332 921Q334 916 341 910M334 917Q334 917 333 911M335 911Q333 907 331 902M337 899Q342 892 345 887M180 985Q180 980 179 973M176 980Q176 973 173 967M173 976Q167 976 163 974M168 970Q167 963 167 955M159 954Q151 948 142 942M157 950Q156 940 152 929M153 946Q143 941 135 936M149 941Q145 939 139 936M329 981Q335 977 346 970M332 975Q331 968 333 968M335 961Q335 954 332 948M342 945Q344 943 343 935M346 938Q348 934 354 928M176 1000Q172 992 171 987M154 981Q144 981 133 979M139 969Q133 954 130 949M239 964Q238 961 238 951M237 959Q242 942 240 938M218 908Q219 898 217 893M208 879Q212 871 210 868M292 967Q295 962 297 957M293 960Q297 953 302 946M290 924Q288 923 285 917M197 949Q191 945 188 937M194 944Q190 943 182 937M188 934Q179 931 169 926M175 911Q175 907 174 899M164 1014Q154 1011 143 1009M140 994Q138 985 135 974M223 973Q220 964 217 955M208 946Q201 940 196 937M205 940Q205 937 205 929M202 934Q195 929 189 926M198 929Q202 925 198 922M194 916Q184 911 181 904M191 906Q188 903 186 900M206 990Q201 990 200 989M200 982Q194 977 186 974M198 978Q196 978 191 974M195 974Q192 972 192 966M192 968Q190 966 183 961M186 957Q183 953 180 949M183 951Q179 944 170 940M181 946Q180 938 181 927M303 963Q308 954 313 948M303 957Q300 948 295 939M302 928Q297 920 296 910M254 933Q250 927 248 922M253 926Q250 924 248 918M253 915Q250 907 246 903M252 907Q254 896 261 888M250 892Q249 890 245 884M250 868Q249 863 243 852M249 855Q248 844 243 837M249 849Q251 845 252 842M311 973Q315 969 319 960M312 969Q308 964 311 957M313 965Q315 958 321 952M316 952Q325 946 331 941M318 948Q315 936 316 927M319 943Q320 936 317 927M323 922Q321 912 315 905M324 917Q327 911 330 908M325 912Q328 908 331 906M332 893Q336 886 330 883M333 886Q329 881 331 879M334 881Q337 873 345 864M336 875Q342 868 345 860M179 1042Q174 1037 167 1039M164 1031Q156 1028 152 1027M158 1028Q151 1019 144 1015M154 1026Q151 1023 146 1015M147 1023Q146 1020 141 1018M102 993Q101 988 100 984M98 990Q92 986 86 983M94 986Q94 979 90 974M176 1017Q177 1010 173 1006M165 1005Q161 1002 164 995M159 1001Q158 998 149 996M156 998Q152 990 151 987M146 991Q143 990 138 990M132 981Q127 977 114 972M123 974Q121 970 114 963M332 968Q335 962 339 960M336 956Q336 947 336 936M339 951Q342 950 345 948M344 942Q350 938 359 933M354 907Q364 901 370 892M356 901Q366 893 371 886M358 895Q354 887 358 885M361 890Q361 883 363 878M205 989Q201 980 200 971M191 973Q189 967 187 960M179 961Q170 958 160 954M174 956Q167 951 160 948M170 951Q164 948 159 945M162 942Q161 938 158 930M198 1006Q198 1001 193 993M193 1001Q188 995 185 985M183 993Q180 991 180 987M173 982Q172 977 170 972M321 1008Q322 1004 326 1001M322 1003Q325 995 321 994M324 996Q333 990 337 983M326 989Q324 983 324 978M332 970Q335 963 342 957M345 935Q349 931 356 924M161 988Q152 983 143 980M157 985Q151 982 141 979M153 982Q154 975 146 972M150 979Q147 973 143 966M140 972Q135 964 131 957M130 962Q122 960 111 956M123 956Q121 950 115 945M119 953Q118 951 117 948M116 949Q110 945 113 937M339 962Q339 957 339 951M365 931Q370 931 375 927M369 927Q371 922 371 916M377 915Q378 910 380 904M387 896Q390 895 396 891M393 885Q396 881 398 882M397 880Q404 874 411 872M194 1029Q189 1027 187 1028M187 1025Q183 1021 180 1018M174 1014Q160 1011 156 1009M170 1009Q170 1002 167 994M152 984Q152 978 146 974M137 970Q125 969 116 964M127 963Q121 962 112 960M121 960Q114 960 104 961M117 957Q110 958 107 955M113 955Q108 949 102 944M103 947Q99 942 97 935M227 965Q230 962 228 955M218 936Q213 931 212 927M208 901Q205 890 199 881M203 886Q198 881 193 869M186 1053Q179 1052 176 1052M181 1052Q175 1053 168 1053M165 1047Q165 1049 159 1047M156 1041Q155 1034 151 1027M151 1039Q148 1037 143 1038M128 1030Q124 1024 121 1020M123 1027Q120 1022 115 1017M118 1024Q113 1017 112 1011M110 1020Q107 1015 105 1011M103 1016Q97 1015 89 1012M97 1014Q92 1016 80 1014M298 943Q291 936 288 924M298 931Q298 929 294 921M298 918Q300 912 306 903M301 909Q300 901 299 897M304 887Q304 882 303 880M293 984Q299 983 298 977M294 977Q292 972 294 968M300 957Q306 953 305 946M303 950Q305 947 303 943M306 939Q303 930 303 922M308 935Q312 928 319 925M310 930Q314 929 318 921M313 924Q317 920 316 909M318 916Q319 909 319 899M321 910Q319 900 323 893M322 906Q327 898 334 888M324 899Q326 888 320 878M327 892Q335 882 345 879M329 886Q330 885 327 880M351 985Q348 974 350 965M354 980Q355 973 359 965M359 972Q363 968 366 965M363 960Q365 958 370 951M365 954Q363 950 365 947M367 948Q367 944 364 936M370 941Q377 938 386 927M374 934Q375 931 375 928M388 919Q391 916 391 910M392 913Q395 906 392 905M259 974Q256 970 255 965M255 944Q257 940 258 939M254 935Q249 925 245 915M252 915Q253 911 255 900M237 881Q239 874 237 867M271 964Q268 960 264 956M270 957Q274 952 275 948M268 944Q271 935 276 929M268 939Q273 932 275 922M268 934Q261 927 259 920M267 918Q271 910 276 901M264 886Q267 872 271 867M197 978Q192 974 190 971M194 974Q182 965 176 962M187 965Q179 962 171 957M183 961Q178 962 173 959M179 957Q170 956 158 954M164 944Q156 939 150 933M161 939Q158 930 155 921M158 931Q160 929 159 925M155 925Q150 920 144 917M152 918Q148 917 146 913M151 914Q152 908 152 899M159 1050Q149 1052 142 1054M149 1047Q143 1047 135 1048M341 969Q346 964 351 957M345 962Q351 954 355 951M358 938Q367 935 371 932M369 916Q374 907 386 901M371 912Q371 901 368 893M376 901Q384 895 392 890M380 893Q379 891 379 886M171 990Q169 981 166 969M166 985Q165 981 164 976M157 974Q153 970 151 971M147 962Q142 959 141 952M142 957Q131 951 123 948M137 952Q136 949 135 946" stroke="#e8e8ec" stroke-width="6" stroke-opacity="0.22" fill="none"/></g>
<path d="M323 946Q329 939 333 931M325 940Q333 934 338 929M327 931Q333 925 337 919M329 926Q334 921 329 916M332 921Q334 916 341 910M334 917Q334 917 333 911M335 911Q333 907 331 902M337 899Q342 892 345 887M180 985Q180 980 179 973M176 980Q176 973 173 967M173 976Q167 976 163 974M168 970Q167 963 167 955M159 954Q151 948 142 942M157 950Q156 940 152 929M153 946Q143 941 135 936M149 941Q145 939 139 936M329 981Q335 977 346 970M332 975Q331 968 333 968M335 961Q335 954 332 948M342 945Q344 943 343 935M346 938Q348 934 354 928M176 1000Q172 992 171 987M154 981Q144 981 133 979M139 969Q133 954 130 949M239 964Q238 961 238 951M237 959Q242 942 240 938M218 908Q219 898 217 893M208 879Q212 871 210 868M292 967Q295 962 297 957M293 960Q297 953 302 946M290 924Q288 923 285 917M197 949Q191 945 188 937M194 944Q190 943 182 937M188 934Q179 931 169 926M175 911Q175 907 174 899M164 1014Q154 1011 143 1009M140 994Q138 985 135 974M223 973Q220 964 217 955M208 946Q201 940 196 937M205 940Q205 937 205 929M202 934Q195 929 189 926M198 929Q202 925 198 922M194 916Q184 911 181 904M191 906Q188 903 186 900M206 990Q201 990 200 989M200 982Q194 977 186 974M198 978Q196 978 191 974M195 974Q192 972 192 966M192 968Q190 966 183 961M186 957Q183 953 180 949M183 951Q179 944 170 940M181 946Q180 938 181 927M303 963Q308 954 313 948M303 957Q300 948 295 939M302 928Q297 920 296 910M254 933Q250 927 248 922M253 926Q250 924 248 918M253 915Q250 907 246 903M252 907Q254 896 261 888M250 892Q249 890 245 884M250 868Q249 863 243 852M249 855Q248 844 243 837M249 849Q251 845 252 842M311 973Q315 969 319 960M312 969Q308 964 311 957M313 965Q315 958 321 952M316 952Q325 946 331 941M318 948Q315 936 316 927M319 943Q320 936 317 927M323 922Q321 912 315 905M324 917Q327 911 330 908M325 912Q328 908 331 906M332 893Q336 886 330 883M333 886Q329 881 331 879M334 881Q337 873 345 864M336 875Q342 868 345 860M179 1042Q174 1037 167 1039M164 1031Q156 1028 152 1027M158 1028Q151 1019 144 1015M154 1026Q151 1023 146 1015M147 1023Q146 1020 141 1018M102 993Q101 988 100 984M98 990Q92 986 86 983M94 986Q94 979 90 974M176 1017Q177 1010 173 1006M165 1005Q161 1002 164 995M159 1001Q158 998 149 996M156 998Q152 990 151 987M146 991Q143 990 138 990M132 981Q127 977 114 972M123 974Q121 970 114 963M332 968Q335 962 339 960M336 956Q336 947 336 936M339 951Q342 950 345 948M344 942Q350 938 359 933M354 907Q364 901 370 892M356 901Q366 893 371 886M358 895Q354 887 358 885M361 890Q361 883 363 878M205 989Q201 980 200 971M191 973Q189 967 187 960M179 961Q170 958 160 954M174 956Q167 951 160 948M170 951Q164 948 159 945M162 942Q161 938 158 930M198 1006Q198 1001 193 993M193 1001Q188 995 185 985M183 993Q180 991 180 987M173 982Q172 977 170 972M321 1008Q322 1004 326 1001M322 1003Q325 995 321 994M324 996Q333 990 337 983M326 989Q324 983 324 978M332 970Q335 963 342 957M345 935Q349 931 356 924M161 988Q152 983 143 980M157 985Q151 982 141 979M153 982Q154 975 146 972M150 979Q147 973 143 966M140 972Q135 964 131 957M130 962Q122 960 111 956M123 956Q121 950 115 945M119 953Q118 951 117 948M116 949Q110 945 113 937M339 962Q339 957 339 951M365 931Q370 931 375 927M369 927Q371 922 371 916M377 915Q378 910 380 904M387 896Q390 895 396 891M393 885Q396 881 398 882M397 880Q404 874 411 872M194 1029Q189 1027 187 1028M187 1025Q183 1021 180 1018M174 1014Q160 1011 156 1009M170 1009Q170 1002 167 994M152 984Q152 978 146 974M137 970Q125 969 116 964M127 963Q121 962 112 960M121 960Q114 960 104 961M117 957Q110 958 107 955M113 955Q108 949 102 944M103 947Q99 942 97 935M227 965Q230 962 228 955M218 936Q213 931 212 927M208 901Q205 890 199 881M203 886Q198 881 193 869M186 1053Q179 1052 176 1052M181 1052Q175 1053 168 1053M165 1047Q165 1049 159 1047M156 1041Q155 1034 151 1027M151 1039Q148 1037 143 1038M128 1030Q124 1024 121 1020M123 1027Q120 1022 115 1017M118 1024Q113 1017 112 1011M110 1020Q107 1015 105 1011M103 1016Q97 1015 89 1012M97 1014Q92 1016 80 1014M298 943Q291 936 288 924M298 931Q298 929 294 921M298 918Q300 912 306 903M301 909Q300 901 299 897M304 887Q304 882 303 880M293 984Q299 983 298 977M294 977Q292 972 294 968M300 957Q306 953 305 946M303 950Q305 947 303 943M306 939Q303 930 303 922M308 935Q312 928 319 925M310 930Q314 929 318 921M313 924Q317 920 316 909M318 916Q319 909 319 899M321 910Q319 900 323 893M322 906Q327 898 334 888M324 899Q326 888 320 878M327 892Q335 882 345 879M329 886Q330 885 327 880M351 985Q348 974 350 965M354 980Q355 973 359 965M359 972Q363 968 366 965M363 960Q365 958 370 951M365 954Q363 950 365 947M367 948Q367 944 364 936M370 941Q377 938 386 927M374 934Q375 931 375 928M388 919Q391 916 391 910M392 913Q395 906 392 905M259 974Q256 970 255 965M255 944Q257 940 258 939M254 935Q249 925 245 915M252 915Q253 911 255 900M237 881Q239 874 237 867M271 964Q268 960 264 956M270 957Q274 952 275 948M268 944Q271 935 276 929M268 939Q273 932 275 922M268 934Q261 927 259 920M267 918Q271 910 276 901M264 886Q267 872 271 867M197 978Q192 974 190 971M194 974Q182 965 176 962M187 965Q179 962 171 957M183 961Q178 962 173 959M179 957Q170 956 158 954M164 944Q156 939 150 933M161 939Q158 930 155 921M158 931Q160 929 159 925M155 925Q150 920 144 917M152 918Q148 917 146 913M151 914Q152 908 152 899M159 1050Q149 1052 142 1054M149 1047Q143 1047 135 1048M341 969Q346 964 351 957M345 962Q351 954 355 951M358 938Q367 935 371 932M369 916Q374 907 386 901M371 912Q371 901 368 893M376 901Q384 895 392 890M380 893Q379 891 379 886M171 990Q169 981 166 969M166 985Q165 981 164 976M157 974Q153 970 151 971M147 962Q142 959 141 952M142 957Q131 951 123 948M137 952Q136 949 135 946" stroke="#f6f6f8" stroke-width="0.6" stroke-opacity="0.45" fill="none"/>
<path d="M322 953L323 946L325 940L326 936L327 931L329 926L332 921L334 917L335 911L336 903L337 899M199 1006L196 1004L191 998L188 994L184 990L180 985L176 980L173 976L168 970L166 966L164 961L162 957L159 954L157 950L153 946L149 941M325 989L327 985L329 981L332 975L334 968L335 961L336 957L339 951L342 945L346 938M192 1017L188 1013L183 1008L180 1004L176 1000L173 996L169 993L165 989L160 985L154 981L149 978L146 975L142 971L139 969L135 965L131 962L127 958L124 956L120 950M250 998L248 991L246 984L243 976L241 969L239 964L237 959L235 951L233 944L230 938L227 931L225 927L223 921L220 914L218 908L217 904L214 897L212 892L210 886L208 879M291 977L292 972L292 967L293 960L292 954L291 947L291 940L291 936L291 931L290 924M200 955L197 949L194 944L191 938L188 934L184 927L181 922L178 918L175 911M174 1023L169 1018L164 1014L159 1009L154 1006L149 1001L145 998L140 994M235 992L232 987L229 981L227 978L223 973L219 968L216 963L214 958L211 953L208 946L205 940L202 934L198 929L196 923L194 916L193 911L191 906L188 900L186 895M221 1008L217 1002L214 998L210 993L206 990L202 986L200 982L198 978L195 974L192 968L189 963L186 957L183 951L181 946M302 971L303 963L303 957L304 951L303 944L303 940L303 936L302 928L301 923M266 984L264 978L263 971L260 965L258 958L258 951L257 945L256 940L254 933L253 926L253 919L253 915L252 907L251 899L250 892L250 885L250 881L251 873L250 868L250 862L249 855L249 849M309 989L309 985L310 980L311 973L312 969L313 965L315 957L316 952L318 948L319 943L320 939L321 935L322 930L323 922L324 917L325 912L328 905L330 898L332 893L333 886L334 881L336 875L337 871M184 1047L179 1042L173 1038L168 1033L164 1031L158 1028L154 1026L147 1023L144 1022L139 1020L134 1018L127 1015L122 1013L116 1009L111 1004L106 999L102 993L98 990L94 986M190 1029L186 1026L181 1022L176 1017L171 1012L167 1009L165 1005L159 1001L156 998L151 995L146 991L140 988L136 984L132 981L128 977L123 974L117 970M331 972L332 968L334 961L336 956L339 951L342 946L344 942L346 936L347 931L349 925L350 919L352 912L354 907L356 901L358 895L361 890L363 883M208 995L205 989L201 985L198 980L195 976L191 973L187 969L184 967L179 961L174 956L170 951L165 946L162 942L159 938M220 1028L215 1023L211 1020L207 1015L201 1009L198 1006L193 1001L187 997L183 993L180 990L176 985L173 982L169 978L165 973L160 968M319 1013L321 1008L322 1003L324 996L326 989L328 982L330 976L332 970L333 963L336 956L338 951L340 945L342 940L345 935M165 993L161 988L157 985L153 982L150 979L143 974L140 972L135 967L130 962L126 959L123 956L119 953L116 949L111 944L106 939M331 974L335 968L339 962L341 959L346 954L351 948L354 942L358 938L362 934L365 931L369 927L373 921L377 915L379 911L382 905L384 901L387 896L391 890L393 885L397 880M203 1036L199 1032L194 1029L187 1025L182 1023L177 1018L174 1014L170 1009L167 1005L163 999L160 995L157 990L152 984L148 980L145 977L142 974L137 970L131 965L127 963L121 960L117 957L113 955L109 952L103 947M230 973L228 969L227 965L225 959L224 954L222 948L219 941L218 936L215 929L213 922L211 915L210 910L209 905L208 901L205 894L203 886M193 1054L186 1053L181 1052L175 1051L170 1050L165 1047L159 1043L156 1041L151 1039L144 1036L138 1034L133 1032L128 1030L123 1027L118 1024L114 1022L110 1020L103 1016L97 1014L92 1012M212 976L209 970L205 964L203 957L202 953L198 946L197 942M298 950L298 943L298 938L298 931L298 925L298 918L299 913L301 909L302 903L302 898L303 892L304 887L305 881L305 873M290 996L291 989L293 984L294 977L296 971L299 964L300 957L303 950L304 945L306 939L308 935L310 930L313 924L316 919L318 916L321 910L322 906L324 899L327 892L329 886L330 882M349 988L351 985L354 980L357 976L359 972L361 966L363 960L365 954L367 948L370 941L374 934L378 928L382 924L388 919L392 913M261 986L260 981L259 974L258 967L257 962L256 956L256 950L255 944L255 940L254 935L254 930L254 925L253 920L252 915L250 909L248 903L245 897L242 892L239 887L237 881M273 978L271 971L271 964L270 957L269 950L268 944L268 939L268 934L268 926L267 918L265 910L264 906L264 899L264 892L264 886M200 982L197 978L194 974L191 970L187 965L183 961L179 957L174 953L168 948L164 944L161 939L158 931L155 925L152 918L151 914L147 908M172 1055L166 1053L159 1050L154 1049L149 1047L141 1046L136 1044L129 1041L123 1040L118 1039M339 976L341 969L345 962L347 956L351 950L353 944L358 938L360 933L364 927L367 920L369 916L371 912L373 907L376 901L378 897L380 893M181 1001L176 996L171 990L166 985L162 979L157 974L152 968L147 962L142 957L137 952" stroke="#fafafc" stroke-width="1.0" stroke-opacity="0.62" fill="none"/>
</g>
<ellipse cx="434" cy="914" rx="5" ry="3" fill="#a87880" opacity="0.22" transform="rotate(40 434 914)"/>
<ellipse cx="446" cy="932" rx="5" ry="3" fill="#a87880" opacity="0.22" transform="rotate(40 446 932)"/>
<ellipse cx="455" cy="946" rx="5" ry="3" fill="#a87880" opacity="0.22" transform="rotate(40 455 946)"/>
<ellipse cx="468" cy="966" rx="5" ry="3" fill="#a87880" opacity="0.22" transform="rotate(40 468 966)"/>
<ellipse cx="476" cy="978" rx="5" ry="3" fill="#a87880" opacity="0.22" transform="rotate(40 476 978)"/>
</g>
<g clip-path="url(#cp2)">
<rect x="522" y="784" width="437" height="198" fill="url(#fab1)"/>
<ellipse cx="734.4" cy="1059" rx="269.5" ry="269.5" fill="#b2b3b5"/>
<ellipse cx="734.4" cy="1059" rx="268.5" ry="268.5" fill="none" stroke="#bcbdc0" stroke-width="2.5"/>
<ellipse cx="736" cy="1056" rx="259" ry="259" fill="none" stroke="#a0a1a4" stroke-width="5"/>
<ellipse cx="737.5" cy="1054.5" rx="250" ry="250" fill="none" stroke="#c0bfba" stroke-width="1.5"/>
<ellipse cx="738.5" cy="1053.3" rx="246" ry="246" fill="none" stroke="#d2d2ce" stroke-width="2"/>
<clipPath id="cp2i"><circle cx="738.5" cy="1053.3" r="245"/></clipPath>
<g clip-path="url(#cp2i)">
<rect x="522" y="784" width="437" height="198" filter="url(#n2)"/>
<ellipse cx="610" cy="880" rx="40" ry="25" fill="#6e6f76" opacity="0.45" filter="url(#blur6)"/>
<ellipse cx="660" cy="845" rx="30" ry="18" fill="#6e6f76" opacity="0.4" filter="url(#blur6)"/>
<ellipse cx="700" cy="835" rx="20" ry="12" fill="#6e6f76" opacity="0.3" filter="url(#blur6)"/>
<ellipse cx="640" cy="900" rx="25" ry="20" fill="#6e6f76" opacity="0.3" filter="url(#blur6)"/>
<ellipse cx="800" cy="880" rx="30" ry="20" fill="#6e6f76" opacity="0.2" filter="url(#blur6)"/>
<ellipse cx="880" cy="900" rx="25" ry="30" fill="#6e6f76" opacity="0.2" filter="url(#blur6)"/>
<ellipse cx="760" cy="950" rx="30" ry="30" fill="#6e6f76" opacity="0.15" filter="url(#blur6)"/>
<path d="M877 922l5 -7M525 954l-12 -10M813 878l4 -17M865 861l5 -12M876 898l7 -9M516 1027l-12 -5M892 1031l8 -5M766 1013l1 -11M796 1098l19 -2M615 1001l-8 -7M700 1092l-9 -3M663 990l-7 -11M780 1059l11 -14M567 1043l-10 -4M506 956l-21 -12M793 1085l19 -8M518 1085l-10 -1M651 911l-3 -9M585 955l-16 -15M975 1101l12 1M863 962l16 -17M774 869l3 -22M598 874l-12 -18M605 1027l-12 -9M764 999l3 -8M699 1077l-11 -10M771 944l3 -17M753 982l4 -22M645 1028l-15 -12M619 916l-8 -14M715 1006l-1 -8M957 989l16 -10M807 1009l12 -21M790 969l7 -18M928 931l13 -13M668 843l-0 -23M953 978l14 -9M615 910l-7 -9M614 992l-17 -16M971 995l19 -10M629 1087l-23 -6M645 958l-13 -21M687 926l-3 -12M647 975l-11 -13M494 1051l-16 -3M747 960l1 -21M587 1017l-11 -6M905 1096l12 -2M861 1032l21 -12M714 896l-1 -15M744 846l-0 -22M465 1102l-15 -1M931 959l10 -7M822 925l4 -12M974 1028l16 -5M663 1106l-20 -1M686 969l-8 -21M483 1085l-24 -2M930 1009l18 -9M846 1019l15 -15M831 970l5 -8M543 1034l-18 -8M797 965l6 -11M657 970l-6 -10M594 995l-19 -15M983 1011l12 -5M684 906l-5 -17M611 954l-8 -8M647 1097l-22 -5M910 932l15 -20M925 969l11 -9M928 1020l15 -7M964 1099l24 -1M675 903l-6 -14M657 1043l-17 -13M607 1042l-19 -12M699 1052l-9 -15M605 980l-17 -15M653 1087l-10 -2M524 979l-16 -9M860 924l13 -17M822 1065l13 -5M704 1046l-3 -8M693 1045l-13 -18M884 1034l16 -9M623 863l-4 -12M664 948l-10 -22M712 986l-4 -15M581 923l-6 -8M972 977l20 -13M594 999l-15 -11M747 1057l2 -16M799 1074l19 -9M846 875l9 -19M588 983l-18 -16M652 1071l-21 -10M986 1093l10 1M702 1026l-4 -12M986 981l9 -6M537 930l-7 -5M775 884l4 -19M884 995l17 -9M774 927l8 -24M837 910l11 -19M745 1039l2 -16M898 974l12 -9M686 938l-4 -11M902 958l6 -6M729 1069l-3 -25M810 959l7 -17M633 886l-9 -14M732 941l0 -17M707 863l-1 -17M661 1001l-9 -14M509 967l-19 -11M593 980l-18 -17M731 993l-1 -10M893 932l15 -18M998 1058l9 -3M723 837l-2 -12M609 967l-12 -16M503 1058l-15 -3M624 974l-7 -8M925 1094l20 1M725 965l-3 -23M737 1036l1 -24M709 897l-1 -13M885 1055l21 -6M862 1041l16 -8M530 925l-19 -15M642 916l-13 -18M901 966l7 -5M545 1070l-20 -2M745 1016l-0 -13M826 932l6 -13M871 964l13 -16M761 955l6 -24M746 849l0 -16M642 936l-5 -11M875 959l10 -9M903 986l19 -16M546 1062l-19 -4M875 1100l13 1M920 1095l13 -1M722 880l-1 -20M569 937l-10 -10M472 1037l-8 -3M707 1068l-6 -6M801 880l7 -23M881 877l11 -20M630 1032l-20 -15M854 1070l11 -3M812 1063l12 -8M931 1045l9 -2M603 958l-10 -10M635 1029l-7 -6M593 1057l-21 -7M533 1082l-16 -3M698 849l-1 -11M675 1053l-13 -10M636 956l-6 -8M583 987l-10 -8M580 957l-11 -11M584 936l-14 -15M993 1060l16 -2M612 864l-9 -14M718 1019l-5 -21M747 1047l2 -14M589 925l-9 -12M749 967l1 -12M693 1013l-5 -10M917 1102l15 -0M961 1014l8 -4M787 940l5 -25M814 1045l11 -10M650 895l-5 -9M774 897l1 -21M512 979l-22 -13M890 1095l14 -1M791 884l3 -11M886 903l11 -18M899 958l16 -17M515 950l-11 -6M776 1021l4 -10M763 832l2 -12M857 1004l11 -9M842 1060l11 -6M972 1077l15 -3M685 921l-5 -11M667 880l-2 -12M574 1029l-21 -15M491 993l-19 -10M703 1022l-13 -21M590 1060l-16 -6M462 1109l-23 1M798 904l5 -24M757 880l2 -10M590 908l-6 -8M753 978l5 -17M756 959l1 -12M488 1099l-12 1M726 901l-1 -10M886 1027l10 -7M878 1060l19 -8M827 974l5 -8M763 1016l2 -8M649 908l-6 -13M835 983l16 -20M733 851l-2 -24M944 945l13 -13M822 860l3 -8M908 900l12 -17M884 1011l8 -6M874 1022l8 -5M956 939l7 -6M976 1062l14 -2M947 1010l12 -4M769 1092l19 -15M843 927l4 -8M748 952l-0 -15M883 947l12 -14M589 975l-17 -12M621 874l-5 -11M771 1022l8 -17M658 1015l-10 -13M470 1045l-24 -6M492 979l-10 -5M816 885l7 -21M677 855l-3 -11M703 1006l-8 -23M753 848l2 -11M903 1055l17 -6M876 876l8 -10M569 1035l-8 -4M594 1068l-17 -6M718 942l-1 -11M686 966l-8 -20M721 995l-1 -15M672 1085l-13 -5M623 904l-9 -18M591 914l-9 -16M798 1060l12 -9M732 907l0 -14M664 991l-7 -15M927 1034l20 -8M843 1086l11 -3M963 960l19 -11M867 993l12 -11M854 896l8 -15M531 1026l-11 -6M831 874l3 -9M855 861l12 -22M503 1086l-9 -1M507 1001l-21 -7M767 858l0 -20M562 1103l-16 -1M578 1109l-11 -1M574 1094l-9 -1M569 906l-16 -19M883 1084l10 -2M932 982l9 -6M813 894l4 -8M933 1024l21 -10M719 1079l-6 -12M920 1013l15 -10M697 1106l-16 -3M753 964l2 -22M641 985l-9 -10M666 866l-6 -25M843 1108l10 -1M956 969l12 -8M763 1064l5 -10M624 893l-9 -20M659 864l-4 -14M768 962l4 -14M742 1077l2 -26M816 931l9 -20M602 1000l-19 -17M858 940l9 -12M603 998l-14 -14M866 907l9 -14M651 1018l-18 -15M628 994l-12 -9M481 1014l-18 -9M625 864l-7 -17M619 891l-8 -17M512 1069l-20 -3M649 1068l-23 -10M536 1038l-14 -4M841 986l7 -9M875 1099l11 -1M622 1012l-13 -11M727 946l-1 -19M525 974l-9 -7M755 1005l0 -8M808 1089l19 -4M860 867l8 -16M738 1014l2 -26M720 1058l-5 -18M958 1100l9 -1M524 1062l-12 -2M537 1011l-11 -6M767 999l9 -20M831 1019l14 -12M768 1038l6 -12M702 1051l-13 -17M698 979l-5 -15M836 1033l18 -12M944 941l19 -16M923 998l21 -11M738 969l-2 -22M703 1004l-3 -17M700 867l-2 -8M816 932l4 -9M686 980l-9 -19M937 963l11 -8M1002 1024l25 -6M706 997l-6 -18M593 888l-10 -21M583 921l-6 -6M545 1053l-24 -5M542 989l-14 -9M782 889l4 -20M998 1019l12 -4M838 1110l9 1M961 942l19 -13M855 1092l12 -2M557 1039l-9 -3M917 910l12 -13M541 1011l-23 -13M797 1047l14 -12M495 1056l-12 -1M698 1106l-22 -3M995 1020l15 -5M889 1094l16 -3M718 1004l-2 -9M715 1053l-7 -18M822 979l10 -15M910 1080l9 -1M593 935l-16 -20M537 1037l-10 -4M890 1031l22 -9M644 963l-9 -13M626 922l-5 -7M882 1009l20 -13M610 979l-18 -17M486 1093l-22 3M641 851l-5 -18M607 1008l-7 -6M741 1029l2 -14M774 1060l12 -18M635 999l-11 -10M702 1031l-4 -9M901 1069l10 -2M715 968l-2 -23M554 1083l-23 -4M478 1072l-18 -1M861 975l6 -6M847 941l13 -19M670 925l-3 -12M839 948l11 -16M957 1006l9 -5M834 924l4 -10M747 891l0 -8M839 954l6 -10M923 1067l12 -3M1001 1048l18 -3M831 1094l16 -1M804 1092l11 -3M1012 1077l14 -1M669 880l-5 -13M898 1099l24 -0M791 970l5 -11M932 1006l18 -8M628 966l-5 -7M975 1079l8 -1M536 1100l-13 -0M592 993l-15 -16M952 1084l14 -2M764 1019l4 -21M841 1068l10 -5M636 852l-8 -21M810 1064l10 -6M904 1059l12 -3M618 931l-13 -20M875 876l10 -18M918 922l5 -7M847 1067l9 -4M765 1066l7 -13M695 988l-8 -19M912 1099l21 -1M806 1023l16 -19M672 894l-3 -9M925 961l14 -16M893 1103l13 -0M583 973l-16 -14M789 1038l14 -18M541 1030l-24 -9M705 978l-3 -15M757 1041l4 -13M905 993l8 -5M594 1039l-19 -10M643 1046l-12 -9M859 1077l23 -7M816 906l4 -12M809 842l5 -18M764 893l7 -24M521 941l-13 -10M671 920l-6 -13M765 935l0 -26M919 1099l18 1M903 1001l17 -11M762 901l3 -19M997 1103l9 1M909 1087l14 -4M580 886l-16 -19M634 969l-9 -10M633 878l-5 -11M620 930l-12 -22M648 959l-4 -8M722 1029l-8 -23M824 1084l18 -5M730 969l-2 -15M699 844l-4 -13M727 1026l-1 -15M930 930l10 -8M601 1051l-15 -5M718 894l-2 -16M822 1003l13 -16M679 910l-4 -18M546 1045l-22 -10M529 1065l-12 -1M914 1109l9 -0M498 1102l-19 1M629 1087l-16 -3M634 1069l-20 -6M534 938l-12 -9M498 1025l-17 -7M1004 1105l10 1M652 948l-5 -8M759 968l3 -11M499 989l-14 -7M977 1104l16 -1M969 1048l11 -4M733 961l-2 -23M754 863l1 -10M815 1006l4 -8M772 1029l8 -12M759 974l2 -11M761 878l0 -8M842 879l5 -11M955 1106l25 -1M666 959l-8 -21M571 963l-14 -14M885 1018l14 -7M771 940l6 -18M880 1056l17 -8M719 855l-3 -18M593 973l-16 -13M905 957l18 -18M777 997l6 -14M619 983l-11 -14M731 1005l-3 -24M782 926l3 -14M836 928l10 -22M527 986l-19 -10M795 891l7 -13M707 1055l-10 -20M642 1066l-18 -6M579 981l-9 -7M952 1043l11 -4M827 869l8 -17M758 1042l6 -21M609 899l-9 -19M632 944l-10 -18M710 964l-5 -17M801 1087l19 -7M621 966l-13 -15M564 904l-13 -14M781 1011l4 -10M610 872l-11 -20M765 852l5 -24M912 1109l18 -1M956 1034l12 -3M584 905l-5 -7M599 1070l-21 -6M864 980l11 -11M920 1081l18 -3M544 1038l-13 -4M473 1072l-16 -2M776 845l3 -18M547 981l-10 -7M695 970l-6 -14M585 985l-12 -10M743 1035l-0 -19M860 1018l17 -16M596 892l-10 -18M828 1035l10 -10M783 954l6 -23M816 932l4 -11M741 900l-0 -17M953 931l17 -11M820 866l7 -22M786 1003l5 -10M682 992l-4 -8M838 897l10 -21M818 1065l19 -13M607 1083l-25 -2M832 926l5 -9M880 960l14 -16M786 899l5 -21M561 993l-20 -13M678 996l-11 -17M667 1099l-21 -1M479 1061l-15 -3M552 1009l-9 -5M743 852l-1 -26M599 945l-9 -9M654 980l-3 -8M611 1065l-23 -8M743 855l1 -9M646 1036l-17 -15M707 903l-5 -25M951 961l11 -6M813 1073l8 -4M647 945l-12 -23M501 1024l-15 -6M765 1085l10 -9M952 1036l14 -5M672 878l-6 -24M953 1105l12 -0M478 1057l-21 -4M987 984l22 -12M545 916l-14 -13M787 927l3 -11M927 1080l22 -3M669 991l-11 -20M688 891l-2 -8M874 1058l14 -4M774 939l2 -11M769 1020l8 -21M917 903l14 -14M554 1019l-15 -7M621 1040l-11 -5M888 987l15 -13M511 1089l-14 -1M711 946l-2 -21M896 891l17 -18M939 1092l25 -2M621 1100l-23 -3M733 832l-1 -19M588 931l-15 -19M667 940l-9 -20M888 905l13 -19M765 948l3 -18M787 1078l14 -8M855 1052l13 -5M577 1022l-14 -6M837 924l8 -16M528 1039l-23 -8M966 1030l15 -4M549 943l-8 -6M746 865l0 -21M722 879l-1 -20M856 940l8 -10M496 1090l-10 -0M684 905l-4 -21M668 877l-6 -18M711 855l0 -19M613 1098l-25 -1M519 1054l-9 -4M680 963l-6 -20M726 919l0 -14M863 1062l10 -4M622 1072l-19 -5M662 1010l-15 -18M892 999l16 -11M836 1025l19 -16M692 938l-4 -17M606 1058l-17 -7M906 985l18 -10M736 941l-2 -19M508 1077l-24 -4M648 1076l-12 -4M643 855l-11 -22M950 1052l11 -4M779 873l5 -17M663 942l-7 -15M1009 1050l8 -2M711 1003l-8 -21M484 1094l-18 -0M512 978l-7 -4M613 911l-5 -7M871 929l11 -14M956 1099l25 -2M1000 1052l18 -3M727 1006l-5 -24M867 1013l18 -14M772 919l2 -20M759 947l4 -19M659 905l-11 -21M546 920l-6 -6M628 1092l-24 -3M741 1036l1 -21M553 981l-15 -9M827 1040l14 -11M862 871l10 -16M527 1058l-11 -3M782 1014l4 -7M633 988l-10 -12M483 1054l-24 -8M667 1004l-11 -15M717 1036l-6 -20M495 1020l-12 -5M715 969l-2 -21M764 975l2 -24M865 995l11 -9M673 1048l-15 -18M614 867l-11 -18M819 1048l14 -11M749 1072l6 -21M656 962l-4 -7M464 1081l-11 -1M524 943l-14 -14M775 877l4 -16M848 928l9 -14M762 896l4 -15M752 881l3 -20M471 1047l-12 -2M827 982l12 -17M955 953l12 -9M963 982l19 -13M627 861l-8 -24M546 1109l-11 0M852 1088l16 -4M895 1034l16 -8M976 1060l16 -3M641 911l-7 -13M472 1099l-10 1M795 947l7 -24M761 880l1 -24M631 1021l-17 -12M982 1108l20 2M684 1107l-18 -2M638 966l-10 -14M796 992l8 -18M609 1041l-9 -4M753 1021l3 -16M508 1018l-13 -5M783 954l4 -21M955 953l12 -7M756 989l1 -14M787 1008l6 -14M913 1063l17 -6M724 1078l-9 -19M474 1095l-22 1M869 869l10 -16M1008 1041l12 -3M945 1108l14 -0M591 1028l-8 -6M515 1092l-21 -1M997 1105l21 -1M578 889l-11 -13M935 1002l14 -10M932 1071l18 -3M522 1000l-18 -8M883 1085l17 -5M733 879l1 -11M872 1049l16 -4M643 1094l-19 -3M618 919l-7 -11M616 1091l-24 -5M832 1028l7 -5M844 900l9 -17M882 948l14 -13M712 1064l-10 -15M636 1072l-10 -3M799 1084l11 -6M935 1078l23 -3M914 940l6 -7M485 1084l-20 -4M978 1061l11 -1M555 1096l-9 -2M810 877l8 -22M678 1011l-15 -19M635 1105l-16 -1M743 990l1 -23M896 1027l17 -7M745 928l-1 -17M513 1004l-22 -12M673 1055l-7 -6M617 939l-11 -15M620 938l-12 -21M917 959l17 -12M889 1088l8 -1M843 967l7 -11M1018 1097l18 -2M912 1039l16 -7M718 1004l-2 -12M844 873l4 -11M930 922l15 -17M778 851l2 -13M643 955l-5 -10M473 1026l-14 -5M593 896l-11 -14M838 1056l9 -4M937 1040l8 -3M797 970l10 -19M935 1069l25 -5M549 1105l-16 -3M879 913l13 -21M972 1091l22 -3M893 1036l14 -5M974 1003l18 -9M569 905l-8 -7M839 904l9 -15M569 1106l-8 -0M642 868l-9 -23M559 1037l-25 -9M601 939l-6 -9M553 915l-15 -15M690 1033l-7 -10M610 996l-13 -13M869 1036l13 -8M681 996l-8 -18M596 890l-12 -17M932 1081l16 -3M532 1057l-10 -2M718 1010l-5 -24M914 932l7 -7M904 947l9 -9M679 854l-3 -13M1015 1103l13 -0M752 983l2 -22M521 946l-18 -11M513 1053l-17 -3M990 1010l13 -5M747 842l-0 -15M526 1050l-20 -5M886 1021l9 -5M691 1034l-8 -11M764 937l5 -21M593 879l-9 -14M547 948l-11 -8M641 947l-13 -22M586 903l-6 -9M881 918l11 -20M984 1052l13 -4M729 907l-0 -26M542 1030l-19 -5M969 1084l18 -3M642 1065l-19 -10M613 924l-8 -14M996 1023l14 -4M745 964l4 -24M577 1054l-21 -10M814 1079l20 -11M503 1042l-18 -3M948 936l18 -11M876 990l16 -11M820 1039l19 -16M507 1054l-15 -4M728 900l-1 -24M512 1103l-16 -2M710 972l-3 -19M951 1033l18 -5M846 859l4 -16M515 954l-13 -10M516 984l-12 -6M603 1026l-17 -11M870 1006l12 -11M887 896l12 -19M842 1061l17 -11M888 973l7 -6M637 1010l-15 -16M703 1034l-9 -17M787 1066l9 -6M730 961l1 -11M834 949l6 -11M896 916l5 -7M629 1022l-17 -15M969 1016l22 -10M758 891l1 -8M699 893l-2 -20M740 953l0 -17M653 926l-9 -20M937 983l7 -6M636 863l-9 -21M624 938l-9 -12M647 1073l-16 -5M631 936l-8 -13M717 977l-3 -14M533 923l-9 -8M739 1046l1 -11M545 1096l-9 1M645 979l-7 -12M546 989l-17 -10M530 1053l-24 -8M941 977l19 -11M762 907l2 -15M530 967l-16 -12M882 888l10 -18M552 1008l-13 -7M507 1086l-9 -1M912 924l10 -9M940 1020l14 -6M959 1050l21 -5M554 1073l-18 -4M584 957l-12 -13M857 936l15 -21M768 1006l5 -20M880 1081l20 -3M717 1057l-4 -16M970 975l11 -6M757 972l3 -14M699 877l-2 -9M702 982l-3 -8M600 977l-14 -12M664 1035l-13 -15M630 931l-9 -15M795 1043l8 -9M661 967l-6 -12M871 1043l20 -11M609 933l-9 -14M611 933l-12 -17M624 1086l-17 -4M701 871l-1 -23M752 1072l5 -16M544 943l-7 -5M754 1042l0 -15M472 1071l-21 -0M877 1051l14 -9M652 1047l-19 -15M552 1072l-24 -7M770 987l2 -11M744 930l-0 -19M858 1036l13 -7M747 996l2 -22M687 1016l-9 -17M846 1108l13 -1M524 1103l-10 -0M708 964l-3 -11M978 1101l20 -1M919 983l8 -9M799 990l11 -21M895 1050l24 -8M829 995l12 -15M656 1094l-21 -5M606 896l-6 -7M801 987l5 -7M621 1078l-23 -4M663 1000l-9 -13M683 840l-2 -9M582 1027l-8 -4M567 894l-12 -15M710 1072l-12 -17M898 902l14 -20M785 899l4 -15M495 1046l-16 -6M800 848l3 -11M570 1063l-15 -5M492 999l-22 -9M693 1009l-5 -10M754 838l-0 -15M574 1013l-15 -12M530 1095l-11 -2M637 1026l-11 -9M613 961l-7 -8M843 955l5 -9M988 990l21 -10M471 1075l-16 -3M604 902l-14 -19M940 972l7 -5M605 1012l-21 -15M477 1056l-17 -7M713 1008l-2 -20M764 882l1 -9M895 1061l8 -2M575 1087l-8 -2M778 883l6 -24M665 937l-3 -11M901 1012l15 -12M640 1068l-21 -11M852 1095l15 -2M579 932l-7 -8M596 1008l-13 -12M810 1039l9 -10M889 978l7 -8M569 963l-10 -9M846 961l12 -17M734 1015l-3 -26M647 955l-12 -21M551 1054l-19 -7M476 1091l-16 -3M599 957l-9 -15M978 1064l21 -3M804 992l6 -12M785 889l5 -19M689 1061l-14 -13M575 920l-12 -15M598 971l-9 -9M918 947l17 -15M552 942l-13 -12M680 838l-4 -22M782 1103l9 -1M840 982l5 -7M900 1027l24 -9M661 1052l-8 -6M987 1085l22 -2M742 1047l1 -14M866 932l8 -13M845 1044l7 -5M780 837l2 -25M830 892l6 -17M628 1050l-12 -7M518 1060l-13 -5M995 999l10 -3M769 1033l7 -24M615 951l-7 -9M888 1032l21 -12M812 903l9 -21M749 958l2 -13M682 1089l-12 -5M720 957l-3 -16M800 958l5 -17M786 1003l10 -21M793 875l8 -22M893 965l19 -14M892 1037l9 -5M560 960l-20 -17M684 1027l-16 -20M759 1030l2 -11M703 999l-2 -12M684 900l-6 -23M498 1052l-24 -6M759 967l4 -21M792 972l8 -24M572 1045l-10 -4M673 952l-9 -20M781 979l8 -22M768 1063l10 -21M861 1098l22 -3M746 1045l1 -24M573 888l-9 -12M764 1021l5 -19M863 870l5 -9M727 982l-3 -22M603 1029l-8 -4M937 1049l14 -4M661 958l-2 -8M708 1060l-6 -9M774 855l2 -13M590 897l-5 -8M904 950l17 -15M595 1037l-20 -7M833 982l6 -9M589 934l-16 -18M765 1063l6 -10M651 987l-7 -9M782 917l2 -8M656 1077l-9 -4M904 1012l7 -6M849 1040l11 -7M697 900l-4 -20M602 986l-18 -15M969 1041l15 -7M612 1081l-9 -1M799 1083l17 -7M936 1068l15 -4M724 894l-3 -18M779 983l3 -13M656 974l-7 -17M558 1023l-19 -12M571 1052l-23 -7M889 888l9 -12M778 865l2 -18M782 866l1 -22M767 909l1 -10M928 908l8 -11M702 1018l-6 -19M888 950l9 -10M955 1089l13 -1M943 990l19 -10M732 856l-2 -24M736 842l1 -16M865 1073l20 -7M775 1082l20 -15M696 1107l-11 -1M846 1106l9 1M731 959l-1 -12M530 1098l-16 -2M950 983l15 -9M611 1034l-10 -5M573 926l-11 -14M820 1062l8 -5M911 950l12 -13M743 1077l1 -9M857 1027l7 -6M627 1049l-7 -4M604 954l-10 -11M859 1098l8 0M798 996l8 -17M644 909l-9 -19M1005 1039l10 -2M969 1075l20 -2M747 1057l3 -13M528 1108l-10 0M513 1026l-22 -11M789 1020l12 -20M779 874l4 -25M954 1109l10 -0M670 932l-4 -11M763 939l4 -20M772 1108l22 -1M930 1059l10 -2M855 1051l15 -8M683 842l-3 -8M829 1080l21 -9M807 1004l11 -16M793 1107l11 0M505 975l-22 -12M606 965l-14 -12M750 900l1 -11M606 864l-9 -24M687 960l-9 -22M763 844l-1 -15M786 887l4 -19M608 1096l-17 -1M552 988l-16 -11M721 1043l-3 -10M835 852l7 -22M729 990l-1 -19M719 895l-2 -9M571 1075l-25 -3M529 975l-14 -8M790 1077l7 -6M494 1025l-25 -8M896 984l11 -8M530 1083l-24 -3M713 1065l-7 -17M634 1052l-19 -8M670 1104l-8 -1M554 982l-13 -10M626 951l-5 -9M579 952l-18 -17M539 979l-14 -9M935 985l18 -10M600 1095l-14 -3M708 968l-3 -8M524 987l-9 -4M696 896l-5 -25M545 922l-16 -14M868 871l13 -22M869 916l9 -11M819 1020l10 -13M621 1041l-10 -4M618 887l-8 -11M754 883l1 -13M734 964l-0 -12M837 957l10 -15M847 940l11 -15M668 864l-5 -20M771 964l2 -12M668 1012l-8 -11M876 1014l10 -8M956 1024l16 -5M818 1001l13 -18M565 1062l-14 -4M792 1036l12 -20M839 999l15 -17M900 974l10 -8M547 1071l-9 -2M843 1041l10 -6M777 895l1 -9M815 1087l22 -7M860 993l11 -10M687 880l-4 -12M927 1047l8 -3M594 1078l-8 -3M990 1067l17 -4M908 1055l10 -3M622 1067l-14 -6M906 972l8 -7M801 982l7 -14M646 1043l-18 -12M616 941l-11 -13M474 1026l-13 -4M511 986l-11 -6M515 1060l-20 -5M624 916l-11 -21M523 976l-20 -10M954 1023l8 -3M880 1058l11 -5M875 1065l14 -4M765 869l2 -18M587 882l-11 -18M766 954l2 -19M914 960l20 -12M963 1064l20 -5M683 1023l-13 -20M706 988l-9 -24M966 980l17 -11M820 1064l16 -11M581 1104l-12 -2M753 1059l10 -23M586 963l-10 -9M816 878l5 -12M850 1051l13 -6M609 1095l-25 0M702 875l-2 -10M755 987l3 -17M869 950l6 -7M661 899l-11 -23M766 974l2 -12M619 894l-4 -8M897 988l17 -13M511 1007l-20 -9M584 1010l-19 -14M988 1067l17 -1M738 861l-0 -10M577 913l-15 -17M947 1036l22 -7M791 1066l17 -12M779 1100l13 -2M740 1060l-0 -12M744 913l-2 -19M854 928l13 -19M747 853l-1 -21M549 1031l-8 -4M639 1012l-9 -8M638 1101l-22 -3M880 919l12 -16M791 1091l9 -2M526 1086l-16 -1M502 996l-19 -8M878 1088l22 -1M795 1011l5 -8M724 1081l-6 -12M800 1045l15 -19M660 1084l-14 -7M910 1100l11 -1M710 1076l-16 -19M925 917l10 -8M699 1026l-4 -9M763 1063l6 -22M888 1030l21 -14M756 953l3 -24M834 956l6 -10M797 907l5 -13M615 943l-9 -12" stroke="#f0f0f2" stroke-width="0.6" stroke-opacity="0.16" fill="none"/>
<path d="M626 1002l-12 -12M751 906l1 -15M567 1018l-10 -6M570 932l-15 -18M846 873l4 -11M563 1035l-10 -5M637 893l-5 -13M640 853l-5 -19M716 1005l-4 -23M800 1019l7 -9M808 1070l8 -4M798 908l7 -20M789 1063l16 -20M750 1021l2 -12M607 1074l-22 -9M554 941l-12 -10M814 999l14 -22M933 911l6 -7M524 1051l-15 -5M611 894l-12 -15M566 985l-7 -5M798 862l2 -12M853 885l5 -10M732 888l-1 -11M895 1078l21 -5M482 1095l-12 -1M903 931l14 -17M918 927l11 -10M516 998l-13 -7M513 1088l-20 -2M812 961l11 -20M739 898l1 -14M753 866l1 -11M694 879l-4 -22M691 994l-8 -20M481 1021l-14 -2M935 965l10 -7M691 1019l-9 -18M972 959l11 -8M1003 1061l23 -7M767 1056l10 -23M885 999l10 -10M564 972l-14 -12M879 870l10 -16M900 1082l18 -2M595 1032l-17 -10M658 927l-10 -16M805 1077l10 -4M592 902l-12 -18M729 877l-1 -21M643 1082l-9 -2M770 869l2 -21M863 1051l13 -7M691 916l-4 -24M965 1036l8 -2M607 1040l-11 -5M834 955l5 -7M631 914l-6 -12M703 1005l-8 -23M543 1050l-9 -3M874 928l13 -19M599 955l-6 -7M738 919l-1 -22M917 1043l17 -5M770 987l3 -20M682 853l-3 -8M544 1001l-19 -12M562 961l-15 -12M589 971l-10 -11M939 956l15 -12M844 950l7 -10M979 982l7 -4M556 1045l-24 -10M972 984l16 -9M982 1105l25 -1M995 1055l24 -5M667 868l-3 -14M654 879l-7 -17M972 1058l13 -2M925 1053l18 -4M611 1061l-16 -3M702 894l-1 -9M776 1011l3 -11M639 877l-5 -8M761 1080l15 -19M942 965l13 -8M577 1027l-23 -7M991 1012l12 -6M544 961l-19 -15M973 1007l15 -8M614 1068l-16 -4M662 929l-7 -15M589 898l-5 -10M720 958l-2 -17M869 879l15 -18M711 1090l-14 -10M871 997l19 -16M620 876l-13 -22M702 909l-2 -16M824 1001l15 -15M799 991l5 -11M863 894l5 -8M838 985l7 -8M902 1082l24 -8M590 1030l-13 -6M684 905l-3 -9M603 1081l-8 -2M833 968l9 -13M946 1101l22 1M743 1071l2 -21M570 1005l-13 -7M897 1089l20 -2M850 1072l17 -6M775 980l3 -17M631 961l-6 -8M776 1091l16 -7M899 1086l24 -2M951 937l18 -16M810 920l10 -24M562 954l-20 -11M661 951l-12 -18M670 966l-9 -15M1001 1058l25 -1M973 995l16 -8M785 1081l18 -14M828 1042l17 -15M765 952l4 -13M633 905l-12 -22M800 862l3 -11M863 1003l18 -15M526 998l-13 -7M824 929l7 -23M1015 1109l14 -0M578 1078l-17 -1M964 984l10 -7M853 888l12 -22M917 1085l22 -1M622 859l-3 -8M649 880l-5 -14M558 1008l-15 -8M565 1105l-22 -1M1012 1054l25 -4M651 1030l-17 -16M697 843l-3 -21M511 1092l-12 0M759 1022l2 -11M624 917l-8 -16M643 1048l-10 -6M648 1033l-9 -8M596 1069l-9 -2M796 1097l20 -5M587 1074l-10 -2M634 1026l-18 -17M920 1087l24 -1M602 1047l-18 -9M657 878l-5 -12M630 1062l-13 -5M673 983l-10 -17M778 998l3 -14M814 1022l15 -21M805 849l5 -22M887 1065l11 -3M801 1062l13 -13M541 950l-12 -9M781 901l2 -11M551 943l-7 -7M567 1104l-17 1M674 976l-6 -13M534 1004l-12 -4M672 1051l-16 -13M869 1081l20 -6M671 1066l-15 -10M811 940l11 -23M1001 1080l26 -0M526 1103l-19 -0M520 956l-20 -14M781 873l1 -8M582 957l-14 -15M488 1035l-15 -4M857 1045l20 -9M882 1076l16 -4M566 900l-13 -13M876 1018l12 -7M506 1031l-16 -6M818 997l8 -10M897 894l8 -11M719 978l-4 -19M991 1012l20 -7M952 1056l21 -3M514 1005l-11 -5M618 889l-10 -20M502 1080l-24 -6M559 1046l-17 -8M711 889l-5 -24M720 835l-3 -26M744 1077l1 -8M828 1110l21 -1M613 1042l-20 -9M951 999l24 -10M856 1096l12 -1M546 1033l-24 -7M780 1030l6 -12M538 1020l-21 -9M850 1013l11 -12M675 1096l-25 -4M744 934l1 -24M985 984l20 -9M987 985l14 -5M845 942l6 -10M676 937l-3 -9M829 1041l14 -10M539 1036l-12 -3M758 1014l3 -11M480 1026l-16 -3M878 905l7 -8M679 837l-3 -16M653 847l-3 -10M659 997l-9 -13M990 1024l14 -2M667 960l-8 -17M672 961l-4 -11M869 965l9 -12M629 929l-14 -17M606 1025l-21 -12M654 866l-3 -11M807 1058l16 -11M587 954l-5 -6M595 1017l-15 -6M532 1034l-23 -8M898 1026l17 -7M698 966l-5 -23M913 1099l16 0M842 948l10 -18M617 1066l-10 -3M738 953l0 -9M783 916l6 -22M768 898l-0 -19M525 1017l-15 -6M919 928l6 -6M685 1017l-5 -7M912 902l6 -9M733 920l-2 -15M754 956l2 -19M914 904l10 -14M752 953l3 -15M977 1009l17 -8M697 1090l-17 -11M787 1014l7 -19M517 992l-15 -9M482 1070l-20 -2M619 881l-8 -12M666 1082l-9 -4M664 1092l-15 -4M783 835l2 -9M870 1074l12 -2M959 1011l13 -6M710 953l-2 -22M571 946l-19 -16M943 950l8 -6M652 967l-10 -22M591 1064l-14 -4M821 1089l11 -4M754 1079l13 -22M536 1009l-9 -4M966 1095l12 -1M626 985l-8 -6M814 1039l19 -17M792 894l8 -20M734 955l-0 -21M575 1084l-21 -0M565 1080l-14 -5M914 989l19 -13M641 935l-10 -16M773 1065l9 -11M619 958l-6 -8M889 877l5 -7M886 944l14 -11M974 1075l17 -2M847 963l14 -21M1009 1079l23 -4M504 1014l-25 -7M511 972l-14 -8M575 1069l-17 -5M688 936l-4 -22M977 968l9 -6M1013 1097l10 0M666 980l-6 -9M683 1036l-6 -12M834 943l15 -19M701 1060l-10 -10M551 1041l-11 -4M707 1076l-16 -16M869 1081l25 -4M874 903l6 -12M847 1107l26 -0M794 881l5 -22M984 1024l9 -4M968 1085l15 -2M948 1083l18 -3M671 901l-7 -22M750 986l2 -25M480 1078l-10 -2M920 967l8 -6M622 994l-13 -9M963 1052l10 -2M572 1058l-13 -4M555 951l-8 -6M696 943l-3 -16M900 902l15 -19M680 967l-5 -10M932 926l11 -11M915 1039l10 -4M492 1090l-16 -1M560 1029l-12 -6M489 1028l-21 -7M770 1082l7 -7M483 1024l-24 -7M724 957l-1 -13M698 1071l-15 -13M558 1069l-24 -8M537 1022l-22 -11M681 959l-5 -14M658 986l-11 -16M769 985l2 -10M599 900l-13 -16M486 1021l-17 -5M732 867l-2 -17M731 1005l-1 -12M797 855l3 -12M554 1049l-21 -7M660 1060l-13 -11M653 1088l-17 -4M902 927l7 -8M893 1107l17 -2M922 1040l20 -7M899 1043l20 -7M767 1001l2 -8M575 892l-10 -11M965 1080l14 -2M690 904l-2 -14M932 1027l8 -3M625 962l-6 -8M711 852l-1 -23M666 964l-12 -19M507 959l-8 -5M1002 1079l25 -4M681 1091l-10 -3M785 881l4 -17M926 1000l19 -12M864 984l7 -8M636 1084l-11 -2M551 997l-16 -11M654 858l-6 -16M976 984l19 -10M837 850l4 -10M832 866l5 -11M657 909l-7 -14M559 929l-8 -9M766 969l3 -12M546 1042l-20 -10M735 947l-2 -11M875 1105l19 -2M699 961l-4 -19M795 982l6 -18M750 945l-0 -18M765 1043l7 -19M873 957l14 -16M787 1058l10 -10M823 933l13 -22M583 910l-6 -9M556 1105l-20 -0M923 953l14 -13M658 1001l-11 -18M477 1060l-13 -3M863 1093l20 -2M595 1004l-17 -12M724 884l-3 -25M652 1083l-18 -5M798 941l2 -9M671 1020l-8 -12M696 933l-1 -11M842 1003l6 -6M641 966l-8 -15M895 998l9 -8M653 1099l-12 -1M644 960l-7 -16M844 860l7 -19M754 955l0 -15M948 1091l21 -3M856 1026l10 -6M771 883l2 -13M539 1043l-8 -2M907 966l9 -7M876 963l13 -14M657 947l-8 -16M646 1103l-15 -0M536 998l-20 -10M796 925l5 -23M641 877l-5 -13M694 968l-8 -21M541 1018l-13 -8M646 931l-12 -22M746 962l1 -17M583 915l-11 -16M653 852l-5 -15M537 1012l-21 -12M809 845l4 -22M538 1050l-13 -5M910 1046l17 -8M634 1015l-14 -11M678 870l-5 -21M803 1075l19 -13M686 863l-2 -8M657 968l-11 -22M890 952l6 -6M785 1051l15 -21M646 941l-10 -18M781 1096l18 -7M824 895l4 -9M822 1075l14 -7M778 1043l7 -13M881 1022l19 -13M713 1060l-10 -18M484 1012l-14 -3M888 1069l10 -3M845 1012l16 -12M966 996l18 -7M742 929l-0 -24M480 1059l-15 -5M769 878l2 -25M906 1012l14 -10M635 878l-10 -21M750 846l1 -25M871 968l13 -12M715 1025l-6 -24M643 1077l-14 -5M807 1028l5 -7M749 913l0 -23M670 977l-7 -16M843 1060l11 -5M551 942l-9 -7M878 1080l23 -5M577 1033l-14 -9M683 1024l-12 -18M734 890l-0 -8M952 1103l18 0M540 1054l-22 -6M737 1025l-2 -10M898 1077l14 -4M870 1054l17 -8M969 1083l25 -4M877 911l13 -18M666 963l-8 -19M749 1069l6 -11M959 968l13 -12M655 914l-12 -22M1001 1060l13 -1M926 1086l8 -1M887 1031l9 -5M940 926l15 -12M976 1043l23 -8M984 1090l18 -2M775 1023l6 -15M928 1081l12 -2M871 917l12 -22M548 1026l-15 -6M790 993l4 -11M898 936l14 -16M497 1052l-9 -2M981 1045l21 -7M894 1083l8 -1M632 867l-9 -23M975 1104l22 -2M862 891l16 -20M580 1085l-17 -4M464 1100l-14 0M798 1025l9 -18M885 937l12 -12M941 1109l12 -1M548 989l-20 -14M784 892l3 -26M480 1100l-8 0M757 957l1 -12M643 983l-9 -11M574 1103l-13 -1M715 1031l-6 -16M887 1063l21 -6M770 1041l5 -8M532 969l-9 -9M830 1082l21 -7M750 934l0 -19M493 977l-22 -12M843 978l13 -12M839 925l5 -8M758 999l3 -25M628 995l-6 -8M548 1042l-15 -5M733 1074l-1 -13M592 1006l-19 -13M723 1023l-3 -18M603 1006l-11 -8M780 1037l12 -22M814 994l7 -12M911 1001l7 -4M624 894l-6 -15M591 1030l-13 -6M746 1060l6 -24M516 1057l-17 -5M772 937l5 -22M602 892l-7 -10M620 929l-13 -19M930 966l18 -18M867 1097l24 -4M535 1077l-15 -1M952 1037l21 -5M862 1025l15 -14M945 966l8 -6M977 1091l17 -3M772 1009l6 -16M935 917l10 -10M571 1060l-9 -3M793 1063l16 -17M698 903l-1 -8M862 875l7 -15M761 839l3 -22M755 1026l4 -18M640 1038l-10 -7M923 1008l7 -5M671 920l-8 -25M729 963l0 -17M652 1077l-11 -4M1013 1092l18 -1M637 1042l-10 -8M812 1073l20 -11M502 1092l-11 -1M565 955l-15 -19M636 1048l-20 -13M490 1080l-8 -1M820 865l7 -23M737 1038l0 -18M676 1004l-7 -9M735 1065l-1 -13M995 1046l22 -8M797 941l6 -14M625 1010l-17 -18M949 1025l10 -3M707 861l-3 -19M530 996l-19 -9M759 888l2 -24M712 933l-4 -18M823 1023l16 -20M950 955l12 -11M574 1084l-13 -4M604 872l-5 -8M742 1026l0 -10M826 1013l16 -15M877 967l11 -9M909 917l8 -9M528 950l-12 -11M771 841l1 -12M776 1052l12 -22M848 1014l15 -13M756 900l0 -10M503 976l-13 -9M530 953l-13 -8M661 963l-8 -15M1000 1041l24 -9M867 902l5 -12M479 1049l-25 -4M545 969l-11 -11M533 939l-7 -4M735 923l1 -16M862 1062l8 -3M957 999l10 -7M996 1056l18 -3M599 1105l-25 1M702 1056l-13 -20M553 917l-13 -13M841 923l4 -9M672 980l-10 -21M969 1061l23 -4M897 885l12 -19M629 1021l-14 -12M489 1087l-11 1M567 1040l-14 -5M551 1024l-14 -8M961 981l8 -4M591 918l-10 -13M625 1094l-14 -4M590 1073l-18 -5M869 1036l14 -7M762 1081l6 -8M837 920l3 -8M801 961l5 -12M582 907l-15 -16M523 1093l-20 2M597 1095l-21 -2M542 1014l-17 -9M784 908l4 -14M663 1100l-16 1M673 985l-12 -20M616 1067l-24 -9M664 959l-3 -9M782 1072l14 -13M836 1020l19 -16M979 1084l14 -0M684 923l-8 -21M621 868l-7 -15M948 1074l11 -2M909 992l14 -8M761 855l0 -12M739 853l1 -18M616 925l-10 -14M708 963l-7 -22M690 1070l-13 -13M557 1056l-9 -2M726 979l-1 -21M729 1018l-4 -25M853 1050l13 -6M847 867l8 -17M556 915l-10 -11M729 943l-0 -12M899 945l13 -16M472 1062l-10 -2M529 958l-11 -10M536 959l-17 -12M991 1039l21 -5M794 851l3 -19M677 1107l-17 -1M758 936l3 -17M755 1069l4 -10M625 870l-9 -16M707 873l-1 -17M1008 1050l12 -2M883 1107l19 -0M763 840l2 -13M760 944l2 -12M575 1071l-8 -3M776 970l4 -14M516 998l-8 -5M1002 1031l11 -4M702 1093l-15 -8M756 1040l4 -19M979 1100l24 1M794 913l4 -15M688 1058l-7 -7M647 1108l-17 -2M609 941l-8 -11M645 910l-10 -23M828 953l9 -18M955 968l10 -7M672 1034l-16 -18M578 1052l-15 -4M677 1007l-8 -20M653 1040l-8 -6M892 1087l24 -5M786 1054l13 -14M1008 1090l17 1M567 957l-20 -16M875 957l14 -17M881 968l9 -8M609 924l-8 -10M546 1047l-23 -8M568 1005l-19 -10M701 936l-4 -13M785 954l4 -15M836 957l9 -17M565 1071l-16 -1M947 980l19 -13M833 1017l17 -17M839 1029l12 -12M842 995l15 -13M710 837l-0 -9M649 1052l-7 -4M689 1101l-24 -6M924 901l11 -14M901 1018l7 -5M825 904l7 -21M898 1038l15 -7M804 1008l13 -21M824 1019l17 -16M633 1106l-8 -1M913 1037l23 -11M522 1034l-19 -5M477 1091l-23 -2M777 875l4 -19M478 1008l-13 -7M573 1071l-24 -6M668 1013l-9 -15M861 958l14 -13M866 871l6 -10M726 858l-1 -10M731 1013l-2 -18M893 880l6 -7M801 1067l14 -10M726 1038l-1 -11M536 947l-9 -6M729 905l-1 -10M977 1035l14 -6M751 858l-1 -20M763 848l1 -13M724 1060l-4 -9M797 1084l12 -4M619 1063l-22 -10M855 1033l15 -13M888 973l10 -8M908 982l17 -14M836 1106l24 -1M784 850l5 -22M891 954l15 -19M833 851l2 -9M797 877l5 -16M549 913l-15 -15M861 884l7 -13M533 1041l-9 -2M596 978l-16 -14M940 1007l17 -10M730 896l1 -12M798 882l2 -11M626 1055l-13 -7M815 1041l9 -7M835 980l5 -7M656 869l-6 -12M755 887l4 -23M843 1050l13 -9M743 938l-2 -20M941 1010l19 -9M533 1015l-18 -5M699 998l-5 -11M848 854l8 -19M558 1001l-16 -8M972 960l16 -10M834 1026l16 -17M760 996l6 -22M557 933l-13 -16M882 871l8 -14M591 962l-9 -10M904 991l19 -16M700 1041l-6 -8M822 953l7 -14M999 1026l20 -6M607 988l-10 -9M864 921l11 -16M882 947l17 -17M721 1024l-3 -26M869 1031l8 -7M701 1003l-5 -18M903 898l10 -12M611 1086l-22 -3M939 1007l14 -8M740 873l-0 -14M791 932l4 -17M570 1033l-12 -5M885 1021l18 -11M681 873l-2 -8M496 1063l-23 -3M616 957l-13 -16M613 1054l-21 -11M875 950l6 -6M778 968l4 -9M869 941l7 -8M589 899l-10 -14M913 962l11 -10M868 1079l24 -5M522 1003l-14 -9M628 1026l-13 -10M886 981l12 -9M572 886l-9 -14M870 1031l15 -9M569 1048l-14 -6M764 1017l5 -12M660 1085l-8 -2M717 989l-2 -19M561 1050l-23 -8M839 913l9 -15M933 1022l17 -9M969 999l20 -6M720 1079l-6 -8M985 1083l16 -1M708 1083l-15 -14M500 1029l-23 -8M662 929l-4 -8M506 1054l-14 -0M817 1002l9 -12M788 990l8 -17M759 991l4 -19M561 977l-15 -12M782 1049l13 -21M744 965l-0 -22M742 1003l-1 -12M569 1069l-19 -3M584 907l-12 -20M534 1007l-7 -5M714 1092l-19 -17M671 971l-9 -14M733 1062l-2 -18M547 983l-8 -6M708 985l-4 -16M744 974l1 -8M861 999l16 -18M737 918l-2 -20M506 995l-21 -10M679 1089l-16 -5M763 1054l10 -23M814 854l6 -17M677 1063l-16 -13M528 1076l-19 -2M984 1098l10 -0M600 909l-12 -17M529 1017l-14 -7M625 903l-10 -20M843 1020l14 -14M841 873l4 -9M810 852l3 -12M999 1044l13 -4M813 1082l19 -7M714 920l-4 -23M748 914l2 -21M512 1028l-14 -4M621 1009l-18 -18M970 1014l12 -4M479 1099l-22 -2M569 991l-22 -12M828 902l8 -21M596 1051l-23 -7M605 902l-9 -14M952 950l12 -10M710 996l-2 -13M480 1068l-24 -2M919 944l14 -17M694 920l-3 -20M812 934l6 -20M546 1031l-17 -7M781 916l4 -18M829 876l7 -22M604 1018l-18 -13M602 873l-6 -10M920 936l10 -10M632 889l-7 -15M820 1054l16 -13M958 973l19 -12M502 1015l-9 -3M906 1006l13 -9M533 1105l-14 -0M862 882l8 -12M528 975l-9 -5M848 946l8 -12M640 976l-10 -19M504 1080l-13 -4M645 1003l-16 -15M956 1096l11 -1M712 1076l-16 -20M788 1009l7 -18M889 1104l16 -0M606 1060l-19 -8M954 1060l19 -5M620 979l-13 -12M851 863l4 -9M1004 1103l17 0M893 1074l14 -4M837 926l7 -13M713 1021l-2 -10M709 1042l-5 -10M550 1047l-15 -5M824 868l6 -15M779 910l3 -11M791 1033l9 -12M722 1017l-2 -19M694 1009l-5 -15M607 1000l-11 -7M915 1102l18 -1M962 957l16 -12M695 866l-2 -22M540 996l-7 -5M702 1023l-5 -11M809 1006l9 -14M828 1032l12 -12M631 1106l-9 -1M564 1032l-18 -9M818 909l6 -22M594 1003l-15 -11M558 1017l-17 -9M655 978l-7 -11M851 955l13 -18M847 898l9 -20M610 883l-11 -21M827 1058l10 -5M829 1076l14 -5M541 1076l-10 -2M768 857l2 -25M700 1000l-8 -20M662 1049l-9 -6M795 911l4 -19M579 906l-9 -12M488 1029l-20 -8M587 1109l-12 -0M767 1094l15 -9M728 844l-2 -21M733 920l-1 -18M582 948l-10 -9M607 883l-10 -22M929 1081l20 -2M715 981l-2 -9M565 1066l-23 -6M537 1068l-11 -2M595 902l-12 -18M611 1043l-13 -8M993 1028l22 -8M641 1054l-12 -6M750 1047l1 -8M680 1077l-13 -7M574 977l-13 -10M886 1017l8 -7M878 995l17 -13M714 874l-2 -10M638 875l-4 -10M682 978l-11 -21M658 1001l-7 -9M600 962l-9 -9M771 1017l3 -8M860 918l12 -17M857 1025l7 -5M811 1009l7 -11M927 941l20 -14M493 1046l-15 -3M806 1049l10 -10M497 1012l-15 -6M998 1093l12 0M817 997l5 -7M572 1017l-11 -6M759 963l2 -23M833 915l11 -22M666 996l-5 -7M796 856l3 -24M780 856l4 -23M627 1057l-8 -3M668 1035l-10 -15M743 1066l3 -25M832 956l6 -10M728 988l-4 -23M816 860l8 -24M703 1044l-10 -22M1008 1083l23 -6M523 960l-17 -10M774 1061l7 -8M542 1081l-21 -3M854 891l7 -14M797 1079l22 -10M633 994l-17 -17M717 1060l-3 -8M637 1057l-16 -9M639 1074l-14 -4M993 1107l24 -1M711 1066l-7 -12M797 873l2 -13M819 1005l11 -14M836 1092l24 -3M698 850l-5 -26M656 1096l-18 -3M488 1025l-10 -4M779 896l4 -23M568 956l-10 -14M724 1030l-5 -18M695 855l-1 -17M791 842l2 -11M669 878l-4 -11M880 999l7 -5M560 1103l-21 1M929 1090l10 -1M661 889l-3 -8M576 909l-8 -10M817 1012l12 -18M921 923l13 -14M841 1080l16 -5M668 1042l-14 -15M764 954l3 -19M692 895l-5 -15M773 1071l7 -6M886 1044l16 -8M537 919l-8 -8M820 1040l18 -15M714 870l-3 -23M858 1110l25 2M509 998l-16 -7M864 936l5 -7M586 1048l-13 -6M681 928l-6 -22M513 1018l-22 -13M485 1037l-12 -4M838 965l5 -7M745 833l2 -17M560 1035l-18 -7M944 940l12 -9M882 934l12 -15M580 893l-13 -20M985 1047l13 -2M638 965l-14 -19M1014 1082l21 -4M536 1010l-12 -4M880 956l6 -7M542 1077l-23 -4M670 983l-6 -11M763 865l1 -12M618 1045l-22 -12M710 957l-1 -8M535 1028l-14 -5M737 853l1 -20M610 1039l-19 -12M492 1100l-25 -1M740 983l-1 -9M618 998l-13 -12M531 1087l-20 -0M543 1039l-16 -6M565 1086l-15 -2M910 931l10 -9M810 997l7 -12M735 880l-1 -21M703 915l-3 -10M832 899l8 -21M825 1087l9 -2M830 1057l11 -8M716 901l-1 -10M509 1069l-11 -3M559 1036l-11 -5M808 1043l13 -17M930 938l13 -11M908 1001l14 -9M691 1060l-11 -11M570 999l-21 -12M694 881l-4 -15M783 983l4 -11M760 1008l3 -17M939 1083l11 -1M831 1068l15 -8M988 1035l21 -5M548 946l-17 -18M896 1106l20 -2M564 964l-10 -8M665 1063l-9 -7M882 988l15 -14M764 856l2 -9M951 974l13 -7M593 1001l-16 -16M492 1016l-9 -3M569 930l-11 -13M509 990l-15 -11M980 1019l8 -3M783 979l6 -18M801 857l3 -16M700 1035l-5 -9M737 1018l-1 -11M965 988l9 -6M936 1032l9 -3M479 1013l-11 -4M635 856l-5 -9M657 897l-5 -23M667 859l-4 -22M779 1093l10 -5M950 985l17 -11M989 997l22 -7M955 1107l15 -1M620 1095l-12 -1M683 949l-9 -24M602 871l-9 -16M571 974l-15 -14M568 1022l-24 -10M763 1092l13 -9M655 891l-3 -8M816 996l9 -16M526 995l-16 -10M894 933l17 -18M757 1058l6 -14M606 989l-13 -11M529 983l-20 -12M894 942l15 -18M567 1029l-23 -11M812 1104l19 -0M687 912l-5 -24M969 1096l19 -1M982 1094l9 -0M726 949l-3 -17M799 924l3 -16M537 1099l-10 -1M871 1055l11 -5M671 971l-6 -11M825 1106l21 -3M765 1004l4 -17M723 1024l-2 -13M708 1098l-21 -11M825 1000l7 -9M529 1011l-9 -3M553 941l-12 -12M563 1020l-14 -7M770 1036l9 -20M799 888l8 -18M670 926l-9 -22M630 1002l-10 -9M605 896l-5 -7M474 1064l-25 -3M752 890l4 -18M963 966l19 -8M832 1016l14 -12M706 1049l-9 -15M742 978l-1 -20M603 1043l-12 -6M527 1036l-22 -10M515 1019l-22 -13M843 929l7 -13M632 957l-13 -20M516 975l-21 -13M613 1101l-20 -0M841 936l9 -14M673 844l-2 -11M554 1025l-15 -7M490 1064l-14 -2M781 998l3 -12M948 985l15 -10M718 838l-4 -19M612 946l-16 -20M861 1106l18 -3M930 1084l13 -2M741 1066l1 -13M644 926l-6 -14M709 877l-6 -25M657 959l-8 -17M813 873l7 -20M906 1060l15 -3M889 886l13 -21M840 1087l9 -2M492 1027l-13 -3M641 973l-8 -11M901 1042l10 -5M842 1060l19 -9M677 893l-6 -18M813 1091l22 -4M673 977l-6 -14M588 974l-15 -11M741 922l1 -16M727 985l-1 -12M703 1073l-14 -13M673 941l-5 -15M744 906l1 -15M615 931l-11 -17M669 1059l-12 -8M916 996l16 -10M916 1088l11 -3M899 923l12 -17M856 945l8 -9M620 975l-12 -13M787 932l5 -19" stroke="#f0f0f2" stroke-width="0.6" stroke-opacity="0.26" fill="none"/>
<path d="M562 1055l-10 -3M917 1104l22 -2M965 1007l14 -6M531 991l-12 -6M715 875l-1 -8M720 1004l-4 -26M965 962l20 -11M857 870l8 -17M549 923l-11 -10M963 1091l10 -0M576 1060l-24 -7M704 1068l-12 -14M493 1097l-16 -3M856 1011l15 -11M492 1026l-11 -4M570 930l-14 -16M722 908l-3 -23M882 894l6 -10M609 1016l-11 -9M783 847l1 -20M661 1085l-13 -4M721 1072l-7 -17M757 964l2 -11M664 938l-4 -8M938 1010l8 -4M744 896l-1 -9M716 1002l-3 -11M997 1063l18 -4M909 969l6 -5M823 1062l9 -6M558 1084l-24 -4M908 999l9 -8M574 1003l-7 -4M785 1105l17 -3M793 1018l11 -15M590 951l-10 -12M872 882l7 -12M859 927l12 -21M923 966l15 -12M596 882l-5 -8M658 1011l-12 -12M757 853l1 -11M903 931l15 -20M898 1106l19 -2M679 889l-5 -17M892 905l15 -20M863 996l9 -9M556 943l-14 -15M759 905l1 -13M680 1026l-10 -18M861 910l12 -22M789 1038l16 -18M692 1073l-8 -7M658 864l-3 -9M1011 1099l19 1M765 964l6 -24M749 1014l2 -12M716 884l-0 -13M809 858l4 -19M838 881l5 -14M546 1074l-14 -2M914 1101l25 1M841 1000l9 -10M591 880l-9 -16M766 1001l1 -9M677 1032l-14 -18M576 968l-11 -10M901 1085l21 -5M611 969l-8 -10M967 1031l14 -6M512 998l-10 -5M789 866l8 -22M853 957l8 -11M852 1003l8 -8M986 1097l25 -0M593 1012l-16 -12M839 1107l9 -1M578 1054l-8 -2M548 1026l-21 -10M738 1057l2 -22M912 1070l11 -3M706 937l-3 -20M707 1060l-8 -12M888 931l11 -15M622 1092l-21 -2M809 1000l8 -10M986 1052l23 -6M647 952l-6 -11M499 982l-15 -9M1008 1059l11 -2M851 1012l16 -14M909 1067l23 -7M945 1101l12 1M848 922l4 -7M930 922l8 -8M851 1104l18 -3M820 926l3 -8M711 1006l-2 -14M679 906l-5 -14M739 1020l1 -10M618 977l-9 -10M697 961l-6 -22M773 1064l9 -10M669 1040l-12 -16M658 970l-5 -8M737 1024l-0 -25M645 1023l-12 -8M495 981l-11 -7M610 1108l-22 -0M854 1094l15 -3M496 1063l-11 -2M809 931l6 -18M609 948l-14 -17M854 994l6 -5M722 918l-3 -11M951 1099l8 -1M546 1098l-11 -1M787 1019l9 -22M567 1094l-11 -2M872 1049l14 -5M938 961l11 -7M607 1050l-17 -9M902 889l11 -16M894 1045l21 -10M835 1062l8 -4M936 974l7 -5M639 933l-6 -9M762 885l1 -10M923 976l19 -12M572 912l-10 -11M610 1009l-12 -8M953 1097l9 -1M704 899l-1 -12M698 970l-3 -11M748 940l1 -26M846 879l5 -10M787 984l7 -16M630 1032l-14 -10M831 1071l13 -5M678 1091l-16 -5M878 989l12 -11M601 1028l-10 -7M837 950l7 -10M666 972l-10 -20M931 1015l18 -10M654 1074l-21 -10M726 908l-4 -22M937 1039l14 -6M654 869l-6 -18M497 1056l-17 -2M721 975l-2 -19M730 966l-1 -25M574 955l-8 -10M891 1064l21 -6M570 905l-16 -17M769 1074l11 -10M733 883l-1 -24M814 1056l12 -9M633 869l-5 -10M612 1104l-19 -0M842 1043l19 -11M943 985l20 -10M727 1044l-1 -13M623 949l-5 -7M672 922l-9 -20M817 850l6 -18M826 1086l15 -5M814 995l15 -20M793 850l5 -19M608 1039l-21 -10M687 968l-8 -20M853 878l6 -11M871 1036l11 -7M694 867l-5 -23M796 1007l5 -8M880 1094l8 -1M723 844l-1 -17M561 927l-12 -11M808 972l5 -9M944 986l9 -4M538 1037l-20 -6M765 937l2 -23M757 916l1 -15M559 1017l-18 -10M525 966l-15 -10M863 1010l20 -16M770 1050l11 -19M897 1068l8 -5M620 918l-9 -22M781 1056l13 -18M795 897l4 -25M936 928l15 -14M645 893l-3 -12M691 996l-6 -17M961 1073l20 -2M477 1087l-24 -2M973 959l10 -7M1010 1064l9 -1M572 1006l-20 -15M843 1104l9 -1M675 894l-7 -21M770 866l6 -19M552 993l-15 -10M806 883l3 -15M740 1002l-1 -9M749 1000l1 -11M866 991l14 -16M811 1028l12 -12M493 1109l-24 0M807 868l3 -14M603 920l-9 -13M738 1023l-2 -13M889 884l7 -14M727 1027l-1 -11M684 924l-3 -8M796 956l3 -10M831 867l4 -13M693 953l-3 -11M803 983l7 -18M831 887l8 -17M1011 1072l13 -2M678 930l-6 -22M948 1072l24 -1M717 1027l-4 -13M752 961l2 -10M583 883l-6 -8M946 965l20 -15M806 923l4 -12M664 852l-5 -13M806 870l5 -15M779 986l5 -18M614 980l-7 -11M858 1089l8 -2M986 1004l19 -9M661 863l-7 -20M854 861l5 -11M896 1072l22 -8M774 1012l4 -17M629 1037l-12 -9M863 893l9 -18M892 948l13 -12M671 956l-7 -15M633 960l-5 -7M777 1011l7 -20M627 1103l-14 -0M709 924l-2 -26M878 906l10 -14M926 955l14 -13M870 1110l26 -1M604 1001l-15 -13M880 1029l15 -9M962 1034l16 -7M848 1101l16 -2M922 935l15 -13M945 980l15 -6M483 1022l-23 -8M837 901l11 -22M901 1043l8 -4M797 1042l9 -10M798 942l9 -22M740 1010l-3 -19M673 1009l-6 -11M600 962l-16 -16M732 837l-2 -8M591 978l-15 -14M623 1059l-21 -8M882 1031l21 -14M524 1067l-21 -7M657 933l-6 -14M873 949l14 -15M775 1059l13 -16M717 901l-0 -9M870 891l10 -17M723 992l-2 -16M799 845l7 -18M651 1062l-13 -7M762 1064l10 -22M726 1032l-4 -21M859 1050l21 -12M698 1058l-13 -13M923 997l17 -9M944 1032l13 -5M751 848l-0 -18M600 924l-14 -17M582 996l-11 -8M789 1040l13 -20M610 1063l-22 -9M973 1000l17 -9M637 1043l-20 -16M761 955l2 -22M846 941l7 -10M950 1063l18 -5M463 1108l-25 -5M961 958l16 -11M563 896l-9 -12M678 1032l-9 -10M556 1101l-12 -1M479 1010l-8 -3M750 1059l2 -14M914 902l13 -13M934 1060l11 -3M592 1076l-8 -2M942 968l20 -16M710 1094l-17 -10M530 1014l-9 -4M553 1105l-17 1M966 978l10 -5M622 905l-9 -18M716 1011l-3 -17M873 1022l13 -8M804 1018l16 -19M529 1083l-15 -2M522 1050l-25 -6M721 879l0 -9M969 1088l16 -1M615 1096l-18 -1M687 1001l-4 -8M1004 1022l16 -4M783 952l3 -12M973 1092l22 -3M810 1106l12 -2M744 861l1 -17M899 1052l21 -6M613 911l-10 -18M623 908l-13 -18M803 881l4 -11M613 1015l-11 -8M805 1101l17 -1M878 911l5 -6M854 1001l9 -10M735 922l-2 -21M780 991l6 -13M1001 1077l9 -1M828 854l8 -23M746 844l-1 -23M817 856l10 -22M977 1014l16 -5M706 910l-2 -8M740 859l1 -24M609 1027l-23 -10M520 937l-18 -13M614 999l-6 -6M914 1030l24 -7M770 1101l13 -4M544 909l-15 -17M747 1008l1 -14M518 1002l-16 -10M557 966l-14 -9M808 1009l13 -17M744 1023l2 -22M726 997l-1 -8M968 1003l20 -10M646 957l-10 -14M612 953l-12 -14M961 1075l9 -2M690 1069l-14 -12M876 962l6 -7M968 1074l12 -3M605 904l-9 -15M636 906l-6 -11M595 923l-6 -7M720 911l-4 -19M573 1079l-24 -5M1004 1109l15 1M825 870l4 -20M923 958l14 -11M785 864l6 -23M818 1003l7 -9M733 1015l-1 -10M734 930l-1 -23M596 878l-5 -8M793 898l2 -9M837 1076l24 -9M770 1043l10 -21M776 1035l10 -19M671 981l-11 -19M557 1026l-17 -9M745 1007l2 -17M854 1002l7 -6M815 843l3 -20M923 955l15 -12M962 968l18 -13M555 1017l-8 -3M530 1030l-10 -4M508 1090l-19 -5M572 906l-10 -13M554 929l-11 -12M671 851l-3 -18M527 965l-11 -9M525 1032l-9 -3M681 1040l-5 -7M536 1025l-13 -7M843 1069l11 -5M732 943l0 -20M468 1075l-23 -4M592 1066l-22 -5M992 1094l12 0M712 847l-5 -15M886 953l13 -13M745 914l1 -23M978 1054l14 -2M975 1028l10 -4M920 1046l14 -6M599 1040l-16 -9M589 1008l-10 -7M594 1082l-10 -1M790 899l4 -13M604 1109l-16 -1M557 1019l-21 -11M502 1107l-14 0M905 887l5 -7M526 1074l-14 -0M868 1001l9 -7M607 984l-19 -17M594 1033l-19 -9M804 910l4 -20M865 1110l9 -0M591 922l-13 -12M599 949l-18 -16M852 1048l16 -7M601 1037l-19 -10M891 989l15 -12M961 942l13 -11M744 953l-1 -13M610 1088l-23 -6M763 1049l11 -23M764 883l1 -13M487 1042l-24 -8M928 1040l10 -3M937 1060l15 -3M470 1047l-15 -6M799 1107l17 -1M876 921l9 -13M677 1091l-22 -6M785 1082l16 -10M748 929l1 -23M611 950l-9 -11M675 895l-8 -24M593 952l-8 -9M545 971l-14 -10M614 1034l-20 -15M748 1061l1 -15M817 865l4 -21M684 1051l-11 -10M928 1090l19 -1M938 926l19 -17M774 842l4 -24M512 1068l-21 -2M895 916l13 -13M865 898l10 -18M698 1063l-12 -17M949 928l18 -17M804 855l6 -21M802 974l5 -18M703 936l-2 -9M887 1104l13 1M610 1092l-18 -3M1002 1022l20 -8M917 1024l8 -4M552 1015l-11 -4M654 987l-5 -9M747 1000l1 -18M756 1000l2 -10M978 993l11 -4M651 845l-6 -18M550 920l-15 -13M879 1012l12 -9M885 1016l12 -7M709 1072l-7 -8M886 1079l23 -8M998 1106l11 -0M923 988l18 -13M738 996l1 -13M928 1004l11 -8M988 1046l17 -4M702 924l-3 -13M702 933l-5 -21M819 967l15 -20M885 1101l19 -4M774 868l1 -15M801 979l9 -22M904 1043l15 -7M522 1087l-9 -1M716 853l-1 -12M854 992l6 -8M716 998l-4 -21M927 936l16 -13M792 1092l15 -5M960 1075l11 -1M700 975l-5 -24M820 976l9 -14M577 1015l-19 -12M642 909l-11 -20M807 1090l13 -3M745 1056l3 -20M937 989l16 -11M751 840l-0 -22M953 1093l14 -1M657 1063l-11 -5M873 866l4 -9M996 1093l22 -3M764 931l1 -12M639 924l-9 -20M762 954l2 -11M707 1110l-14 -1M921 1105l12 -0M665 1045l-11 -11M543 953l-15 -11M525 938l-7 -5M743 1078l2 -11M893 885l10 -13M898 918l6 -6M803 980l11 -23M538 932l-19 -15M827 970l11 -19M662 953l-4 -10M857 926l12 -14M861 990l17 -18M842 1053l11 -7M618 951l-11 -13M711 1062l-8 -11M613 969l-6 -8M978 1053l18 -5M581 1038l-13 -7M851 950l8 -15M582 929l-10 -12M564 996l-18 -13M659 1044l-12 -11M553 935l-19 -15M743 1021l-1 -21M947 1059l19 -5M665 866l-7 -17M644 978l-14 -19M772 933l4 -15M831 964l5 -8M777 1021l10 -21M672 1102l-22 -2M510 960l-8 -4M789 1097l14 -3M812 878l5 -17M569 965l-10 -7M912 1024l23 -10M570 1026l-19 -9M717 945l-5 -23M867 926l7 -11M891 968l19 -16M789 976l6 -17M754 921l0 -15M677 873l-4 -12M692 1066l-11 -14M966 1072l15 -2M616 999l-11 -10M555 1021l-13 -6M649 1080l-14 -7M646 933l-4 -8M638 1058l-10 -4M784 946l4 -14M963 1090l20 -3M796 1094l9 -2M988 1050l21 -6M627 980l-11 -10M687 898l-6 -17M765 1062l7 -16M795 853l3 -15M534 1049l-18 -4M534 1018l-18 -8M768 952l2 -14M909 912l13 -16M546 949l-16 -13M757 1078l9 -17M868 904l11 -19M679 952l-5 -16M585 1004l-16 -9M728 894l-3 -20M827 876l8 -24M579 1039l-12 -6M711 1014l-6 -21M683 895l-3 -9M749 895l1 -17M861 933l9 -13M769 1004l3 -12M802 1082l19 -9M518 1091l-22 -1M914 1028l12 -5M682 959l-8 -22M766 853l1 -13M775 1074l14 -15M655 1067l-18 -9M866 993l7 -7M804 859l2 -14M808 963l9 -14M745 965l1 -12M749 953l1 -17M642 1004l-10 -12M656 1015l-11 -11M690 1105l-24 -4M964 1062l23 -4M905 1103l23 -1M648 885l-6 -14M533 1089l-15 -2M782 1014l11 -18M481 1027l-13 -4M489 1101l-13 -1M637 1110l-16 -2M887 1073l17 -3M749 884l-0 -12M901 986l15 -11M742 922l1 -12M789 896l5 -21M540 958l-9 -7M524 1070l-17 -3M515 991l-13 -7M728 876l1 -9M725 833l-2 -22M570 974l-17 -17M985 1080l11 -0M741 875l0 -19M789 1064l8 -7M897 964l15 -14M720 949l-1 -13M834 928l10 -15M795 894l3 -8M729 1002l-1 -10M779 934l4 -12M710 990l-3 -14M748 996l2 -25M867 968l8 -10M935 1088l9 -2M727 1070l-3 -10M903 982l8 -6M932 1096l22 -0M550 1047l-10 -3M619 975l-13 -14M560 1035l-20 -8M768 1102l20 -9M867 1083l23 -5M810 1019l6 -8M812 983l12 -22M890 981l16 -14M761 911l3 -22M645 890l-10 -23M890 1031l21 -12M870 877l5 -8M844 1033l9 -4M583 1004l-14 -12M649 1030l-14 -12M577 997l-14 -10M748 1014l-1 -20M600 899l-15 -21M552 1071l-16 -1M822 928l9 -19M884 900l15 -20M996 1065l23 -0M815 866l4 -19M798 904l5 -17M552 993l-15 -12M726 886l-1 -15M612 883l-6 -12M690 1078l-19 -14M731 942l-0 -21M759 1018l3 -14M512 990l-11 -7M751 905l2 -17M947 1029l20 -10M802 1023l11 -15M672 1015l-13 -21M655 873l-9 -23M557 927l-6 -7M497 974l-21 -12M626 921l-14 -20M549 1013l-8 -4M759 835l0 -10M741 1019l0 -12M855 1103l17 -2M742 1064l0 -13M765 885l4 -23M885 984l11 -9M941 1060l17 -5M728 929l-1 -24M803 1023l13 -22M829 975l10 -15M760 1054l5 -12M825 1028l11 -11M687 997l-5 -14M744 969l2 -18M839 1043l10 -6M717 931l-2 -18M725 964l-3 -22M706 1061l-11 -14M668 955l-8 -19M533 1008l-17 -8M895 883l5 -7M798 1027l11 -17M907 1058l8 -3M815 909l9 -24M949 935l8 -8M467 1084l-21 -5M812 930l9 -21M661 1095l-19 -6M575 950l-16 -14M522 958l-21 -14M957 1023l21 -10M744 925l-1 -22M513 966l-19 -12M657 904l-8 -21M647 1006l-10 -15M631 1016l-10 -8M629 986l-11 -10M806 1070l13 -10M791 1042l11 -13M696 949l-5 -25M704 991l-3 -12M719 885l-1 -10M619 1063l-22 -10M768 1033l5 -17M722 925l-1 -14M909 977l17 -13M645 868l-3 -12M927 1074l10 -2M695 920l-2 -9M861 936l13 -16M683 1103l-20 -3M799 886l5 -20M657 924l-7 -15M679 1058l-14 -14M533 987l-8 -6M828 1058l11 -7M786 962l5 -11M551 925l-11 -14M661 898l-7 -16M753 857l2 -21M742 904l-0 -15M719 890l-0 -20M624 1110l-22 1M501 998l-20 -7M876 995l11 -12M688 882l-4 -16M755 1009l5 -24M560 1030l-19 -6M863 1067l22 -5M756 849l2 -9M881 1028l15 -9M565 1036l-15 -7M592 887l-6 -10M666 1044l-7 -8M810 1070l12 -8M629 1092l-26 -2M786 1054l14 -18M866 950l14 -16M671 959l-9 -23M639 1033l-7 -5M631 937l-6 -9M944 985l20 -16M829 987l6 -8M466 1084l-17 -1M958 1018l10 -5M708 1057l-7 -12M507 966l-18 -14M678 1061l-7 -5M642 1005l-14 -14M981 1065l12 -2M494 1015l-10 -3M978 1075l17 -3M806 878l5 -14M829 865l4 -15M706 1032l-6 -13M534 995l-22 -10M605 1071l-21 -5M713 909l-2 -20M718 1088l-7 -7M650 933l-7 -16M589 1015l-14 -7M641 852l-4 -10M881 905l10 -15M521 951l-20 -15M915 938l20 -16M807 876l6 -15M837 912l10 -20M974 964l7 -4M776 852l1 -10M639 961l-9 -13M868 1003l18 -12M718 1081l-9 -12M948 1033l16 -5M702 1089l-19 -11M815 873l6 -15M481 1050l-17 -3M637 1044l-17 -10M583 913l-11 -10M566 1106l-19 1M552 987l-10 -8M674 993l-8 -16M739 1048l-1 -20M782 866l2 -8M864 884l5 -8M545 950l-17 -14M679 874l-5 -21M856 980l9 -11M776 864l2 -12M579 1072l-19 -4M677 1009l-8 -14M520 943l-16 -12M1001 1092l20 -1M791 1063l7 -5M696 1075l-8 -7M752 1083l8 -13M889 962l13 -12M926 1101l12 0M527 1044l-21 -8M769 880l1 -11M596 928l-10 -11M803 915l8 -21M708 1001l-6 -14M640 917l-7 -13M555 1002l-19 -12M761 972l5 -23M523 968l-15 -9M632 978l-7 -11M923 940l5 -6M656 885l-6 -12M658 990l-11 -21M891 1059l17 -5M888 1064l8 -2M931 951l8 -7M835 854l5 -15M889 1099l21 -0M924 960l8 -7M884 1047l22 -10M833 940l9 -19M995 1103l26 1M652 1108l-17 1M619 1094l-13 -1M600 874l-10 -16M550 1041l-8 -3M728 976l-1 -14M731 1017l-1 -20M756 874l2 -23M589 948l-6 -6M771 1000l6 -22M872 1038l10 -5M715 888l-2 -14M949 947l10 -6M1016 1097l12 -2M537 1070l-24 -6M758 839l-1 -19M767 990l4 -17M586 959l-17 -17M810 1034l13 -12M665 870l-6 -19M629 1075l-11 -4M695 893l-4 -21M601 1046l-21 -10M606 900l-15 -20M688 1090l-9 -4M950 1054l24 -6M549 1048l-10 -3M686 1096l-23 -5M754 931l3 -16M542 1086l-18 -1M750 886l2 -18M696 888l-4 -22M818 1010l7 -11M833 853l4 -19M838 1036l7 -5M974 1033l14 -4M784 1090l9 -4M498 1024l-13 -6M847 915l7 -14M912 900l14 -17M766 984l4 -24M675 841l-6 -21M892 906l5 -7M830 1048l9 -7M491 998l-19 -6M863 893l13 -22M545 1034l-21 -9M531 972l-9 -7M810 881l6 -21M541 1034l-8 -3M815 1003l12 -13M780 982l4 -17M552 1042l-19 -10M880 1014l12 -7M827 1094l11 -1M983 1008l19 -6M686 1094l-18 -7M596 1087l-15 -4M468 1069l-8 -2M557 983l-9 -8M699 1064l-10 -10M600 1067l-23 -6M493 1022l-18 -5M998 1076l10 -2M927 1008l16 -7M861 884l10 -16M735 1055l-1 -18M720 1072l-8 -13M680 972l-8 -21M612 953l-16 -17M699 937l-3 -21M542 996l-7 -5M917 903l8 -8M528 944l-7 -5M891 1006l14 -10M830 969l13 -21M631 964l-9 -13M587 1094l-8 -1M632 1101l-16 -1M679 1078l-12 -6M823 1008l6 -9M815 1100l22 1M619 1091l-20 -2M722 967l-2 -19M784 997l9 -21M667 983l-6 -9M766 1070l8 -15M681 1026l-12 -19M905 1003l12 -6M499 1075l-21 -2M785 898l4 -21M746 1050l3 -22M957 965l17 -11M688 986l-10 -15M685 928l-3 -13M911 925l10 -12M812 998l10 -17M867 1059l9 -4M541 927l-13 -11M814 1094l16 -3M651 907l-8 -23M960 1003l19 -12M776 885l1 -22M878 985l10 -9M726 897l-2 -16M485 1047l-16 -2M822 1055l10 -7M906 1051l8 -4M942 1013l12 -5M925 1105l20 3M682 978l-7 -18M764 893l2 -17M869 928l9 -12M818 1018l7 -9M783 967l5 -17M736 855l-0 -17M697 898l-3 -22M711 965l-2 -9M609 897l-8 -13M568 919l-17 -17M673 882l-3 -10M941 985l22 -11M652 1029l-13 -12M966 1077l21 -6M511 1046l-9 -3M835 1016l11 -11M734 904l-1 -21M711 882l-5 -22M489 1089l-10 -2M645 874l-9 -19M570 1043l-16 -7M924 955l20 -15M843 858l4 -13M541 934l-20 -15M765 1049l5 -11M888 975l12 -14M654 915l-4 -8M738 883l-1 -17M939 1000l19 -11M782 893l1 -10M732 1035l0 -17M638 998l-8 -9M657 932l-11 -15M894 877l10 -12M777 1041l15 -21M711 914l-1 -14M753 1026l3 -18M531 1078l-22 -8M943 989l15 -9M779 890l2 -19M980 1108l15 1M539 1037l-9 -2M527 1078l-15 -3M561 992l-7 -4M642 1028l-12 -10M780 907l4 -17M771 897l1 -11M919 923l13 -13M575 1054l-21 -6M679 1057l-11 -10M549 1040l-22 -7M928 1072l14 -3M620 1055l-19 -9M896 1040l22 -9M803 934l4 -10M818 900l4 -9M644 1028l-7 -7M810 1103l19 -1M708 912l-2 -14M847 859l6 -13M921 1093l8 -1M620 1063l-12 -3M533 1039l-16 -6M592 896l-12 -17M561 978l-17 -13M825 847l2 -12M747 1070l4 -22M973 1032l15 -5M621 926l-8 -10M990 1103l11 0M529 945l-10 -8M839 1023l11 -9M863 862l8 -11M892 1022l19 -15M719 1020l-2 -10M613 1001l-20 -14M647 867l-8 -24M919 1022l7 -4M907 967l10 -8M836 1098l19 -1M695 848l-5 -22M748 928l1 -19M808 1085l19 -7M774 1016l4 -11M744 932l2 -23M592 1016l-10 -6M596 1052l-14 -7M871 1032l15 -9M771 1096l23 -7M975 990l18 -8M932 974l12 -10M829 940l14 -21M536 1101l-12 0M559 903l-10 -16M721 962l-7 -23M784 837l3 -18M752 907l1 -13M588 1099l-18 -2M751 1048l1 -9M745 851l-0 -25M835 990l14 -16M646 953l-7 -12M498 1020l-14 -6M652 939l-6 -14M610 923l-9 -14M864 890l8 -15M961 1019l8 -4M613 930l-4 -8M790 840l2 -14M709 876l-1 -23M624 1100l-22 -1M584 1103l-9 0M853 992l15 -16M932 971l14 -10M625 975l-14 -17M641 936l-9 -17M608 879l-9 -22M766 853l3 -24M710 847l1 -17M862 960l12 -15M620 985l-15 -14M898 997l13 -10M631 1045l-12 -7M793 884l3 -18M951 1094l16 -1M584 935l-7 -8M469 1078l-24 -4M692 930l-2 -9M807 983l8 -16M821 878l4 -24M670 1052l-10 -10M822 1060l20 -13M559 1080l-23 -5M668 881l-6 -20M820 843l3 -9M818 1039l15 -14M960 974l18 -10M606 1004l-20 -16M755 1055l4 -11M564 998l-20 -13M847 1061l10 -3M775 847l3 -25M666 1039l-7 -8M843 1061l12 -7M885 1044l9 -3M752 975l-0 -11M927 928l18 -17M600 996l-11 -8M715 1052l-3 -7M804 991l10 -20M815 1011l13 -15M640 1062l-14 -8M746 1027l-0 -13M844 999l18 -19M623 904l-16 -20M861 956l9 -10M803 914l4 -25M771 916l3 -18M926 1080l23 -2M866 985l16 -15M684 951l-8 -22M628 945l-10 -15M724 1024l-0 -14M483 1092l-11 -2M807 875l6 -22M582 958l-10 -13M884 1039l22 -11M632 864l-8 -13M841 944l12 -23M639 1079l-23 -7M614 1089l-21 -3M690 1073l-14 -8M701 878l-2 -16M907 947l14 -17M777 929l0 -26M483 1010l-14 -5M938 1049l19 -7M999 1081l20 -3M462 1081l-10 -1M524 992l-8 -4M575 1006l-8 -6M806 1109l12 -1M532 932l-17 -14M996 1003l16 -8M516 1008l-21 -10M1001 1030l18 -4M712 1036l-4 -14M829 855l9 -24M491 1029l-9 -3M827 1105l22 -4M803 1099l23 -6M708 987l-4 -15M827 1041l12 -10M778 946l4 -17M864 1056l17 -5M773 958l3 -12M492 1063l-17 -3M552 995l-15 -9M671 992l-14 -21M621 1006l-16 -12M946 1024l20 -6M790 961l6 -15M816 939l7 -14M784 993l5 -18M1010 1091l15 -0M719 1061l-7 -20M696 1009l-7 -23M833 935l6 -11M643 850l-8 -18M767 1099l10 -3M882 969l13 -10" stroke="#f0f0f2" stroke-width="0.6" stroke-opacity="0.35" fill="none"/>
<path d="M503 1022l-8 -3M977 985l7 -4M804 987l9 -20M911 966l12 -9M707 913l-2 -23M813 892l4 -10M756 936l1 -11M948 953l6 -5M862 995l12 -12M831 851l4 -17M773 993l3 -12M662 849l-4 -18M799 1049l13 -15M966 964l10 -7M739 897l-1 -18M686 1108l-18 0M702 1061l-6 -12M927 1065l22 -5M621 1048l-12 -8M725 1016l-2 -8M874 907l13 -19M656 1055l-19 -14M920 1071l11 -1M785 971l4 -9M697 901l-1 -11M575 958l-16 -14M583 1081l-10 -3M780 1048l12 -16M662 1037l-17 -19M639 1067l-8 -4M728 943l-0 -9M738 949l-1 -18M600 1010l-19 -14M896 1010l15 -9M674 952l-8 -16M666 1063l-11 -10M805 946l4 -7M700 854l-1 -14M888 1044l21 -9M779 839l4 -13M817 1015l14 -17M971 1069l24 -6M756 916l1 -14M721 973l-4 -25M513 1091l-8 -1M822 964l9 -16M737 887l-1 -18M969 1006l14 -4M915 900l10 -13M476 1094l-22 -3M965 1004l24 -10M784 893l3 -12M733 1015l0 -25M682 1044l-16 -18M752 1078l6 -15M810 936l4 -9M853 1095l8 -1M754 1079l8 -13M607 960l-11 -16M789 838l5 -23M903 1015l16 -8M916 1052l14 -4M714 1014l-5 -19M459 1109l-21 -2M623 918l-5 -8M835 933l8 -16M498 1082l-10 -1M582 1092l-16 -1M516 1016l-10 -4M908 1071l24 -3M562 1079l-11 -3M842 1071l24 -10M617 955l-10 -15M937 930l15 -13M643 927l-9 -17M524 1025l-8 -2M787 1085l10 -5M642 976l-14 -19M625 861l-8 -24M527 1105l-13 -1M494 1048l-16 -4M635 937l-5 -16M922 1007l23 -11M696 920l-5 -18M729 840l-0 -20M944 1074l20 -5M558 1048l-7 -4M850 913l5 -12M570 960l-14 -14M765 928l4 -16M852 1052l21 -9M549 1009l-18 -12M858 969l7 -10M702 963l-2 -11M610 1035l-17 -9M805 879l3 -9M706 947l-4 -23M838 983l14 -14M826 1038l13 -10M661 845l-6 -23M619 927l-12 -19M868 1097l10 -1M996 1105l18 0M989 1093l13 -0M794 958l7 -23M558 969l-14 -10M891 907l9 -16M671 1005l-10 -18M683 1049l-15 -16M861 1004l15 -15M919 959l11 -9M860 1013l9 -8M693 836l-1 -8M957 1086l14 -2M973 1012l12 -6M785 1037l10 -13M864 931l8 -11M867 1080l8 -2M561 919l-17 -18M879 1045l22 -9M785 953l4 -21M753 950l3 -11M865 866l12 -22M952 981l17 -10M768 841l1 -11M909 1011l19 -8M679 950l-3 -8M819 955l11 -18M517 1002l-18 -9M766 1041l5 -14M937 958l12 -9M716 893l-1 -12M913 1090l17 -3M690 1051l-15 -19M531 935l-14 -13M551 1071l-12 -4M620 1082l-23 -7M828 862l6 -17M556 1005l-14 -10M802 980l8 -20M756 853l1 -10M754 1024l3 -22M891 945l10 -11M636 1007l-17 -15M964 964l17 -15M709 899l-4 -20M811 857l3 -9M736 1029l-1 -26M994 1049l10 -3M594 884l-6 -11M866 979l18 -16M748 1024l0 -9M747 838l-1 -21M686 1063l-11 -8M861 876l11 -20M581 912l-13 -17M758 891l0 -9M826 1033l14 -15M762 872l1 -8M840 950l7 -12M588 934l-17 -20M684 866l-5 -16M644 1035l-18 -15M897 1093l20 -4M822 1102l11 -1M859 1026l21 -13M715 952l-1 -17M887 938l9 -10M609 949l-10 -11M634 936l-12 -19M709 928l-1 -9M613 1087l-12 -1M839 1034l19 -14M979 1049l13 -2M610 1095l-17 -2M668 973l-13 -18M819 1093l13 -4M730 1052l-1 -9M767 883l5 -21M699 1077l-13 -13M517 1079l-9 -1M825 877l7 -25M902 1075l24 -5M690 1072l-15 -11M702 1073l-15 -17M835 974l10 -13M862 1012l19 -15M814 865l6 -19M681 1076l-7 -5M544 1067l-14 -5M730 949l-0 -26M906 1072l10 -4M758 949l3 -22M829 944l6 -10M735 898l-1 -14M778 1005l5 -17M796 1031l13 -14M717 1051l-8 -19M552 1042l-17 -5M863 880l13 -21M768 1068l15 -20M666 898l-8 -25M513 1006l-8 -5M540 1051l-14 -5M533 1080l-17 -2M788 950l3 -13M715 1088l-14 -9M746 1037l5 -25M881 1031l11 -7M805 1010l7 -14M984 1023l17 -4M1014 1092l19 -1M896 942l12 -13M783 910l2 -14M738 864l-0 -10M741 968l1 -21M464 1096l-15 -1M622 1053l-21 -10M603 1087l-13 -2M839 895l11 -22M865 1034l20 -12M795 1032l13 -18M586 996l-16 -10M733 914l-1 -20M752 889l3 -20M520 1017l-20 -9M674 1027l-16 -19M491 1050l-9 -3M535 983l-12 -5M781 1109l23 -1M754 893l1 -11M517 1002l-22 -10M984 1029l24 -9M638 1035l-8 -5M527 984l-8 -4M603 1044l-15 -8M858 1014l14 -12M722 901l-1 -26M668 918l-4 -11M552 1082l-10 -1M965 1040l24 -6M546 997l-16 -9M826 880l4 -8M588 976l-10 -11M794 1040l7 -10M908 954l7 -6M847 891l6 -13M1015 1106l13 -1M665 1084l-16 -4M962 956l20 -15M577 1066l-15 -4M554 1047l-23 -7M601 997l-19 -18M822 883l3 -9M790 943l3 -9M819 986l8 -16M504 1057l-21 -6M837 980l15 -18M859 859l8 -15M810 926l8 -19M722 855l2 -22M889 1046l22 -8M1000 1101l17 -0M558 1053l-21 -7M665 1060l-19 -11M836 1026l17 -18M572 903l-13 -14M737 1063l1 -25M647 865l-7 -14M690 989l-6 -13M694 869l-2 -11M850 877l6 -14M934 944l8 -5M618 915l-10 -16M689 1075l-11 -8M982 1081l13 -1M636 895l-9 -20M826 1101l16 -1M631 1056l-8 -4M467 1089l-13 -3M656 999l-14 -21M752 1030l5 -24M666 937l-6 -10M513 1020l-18 -6M648 1100l-10 -1M921 1059l14 -2M652 972l-14 -20M611 870l-7 -13M679 1035l-14 -21M753 1003l3 -21M935 958l10 -8M727 1081l-4 -11M937 1096l22 -4M666 884l-6 -17M772 1040l4 -10M653 938l-7 -12M905 1005l17 -10M854 979l6 -7M963 1037l13 -4M889 1048l24 -8M989 1050l10 -3M767 834l-0 -25M908 1040l19 -7M575 1035l-10 -4M488 1028l-15 -5M708 919l-2 -11M539 1086l-16 -3M604 926l-14 -19M522 972l-21 -15M519 1083l-10 -1M706 1023l-3 -10M597 936l-16 -18M745 1036l3 -25M748 1049l3 -25M701 852l-3 -17M894 1061l9 -2M661 963l-10 -20M921 1027l12 -6M593 1038l-13 -5M543 1091l-8 -0M969 1048l18 -5M754 1043l5 -18M772 847l3 -21M954 1087l23 -1M673 1062l-7 -5M795 954l6 -17M897 1061l11 -3M597 1042l-17 -6M666 1048l-14 -14M479 1046l-22 -5M860 1061l16 -7M550 996l-11 -6M703 1011l-2 -8M603 868l-12 -18M964 1001l20 -4M572 895l-6 -7M826 1073l8 -4M536 991l-14 -8M545 1051l-12 -4M614 1103l-25 -2M705 1059l-7 -10M640 911l-8 -14M766 1063l13 -19M630 929l-12 -20M881 1108l22 1M534 1004l-19 -11M871 943l9 -9M892 1064l19 -10M864 1010l7 -7M628 938l-8 -12M486 1090l-19 -2M953 1037l18 -6M497 1079l-21 -1M953 1099l19 1M950 1025l23 -8M562 1034l-18 -7M817 1082l15 -5M506 980l-9 -6M711 1095l-11 -7M1009 1077l25 -4M842 1024l12 -10M793 977l5 -11M677 990l-4 -8M871 986l14 -13M922 945l7 -7M722 901l-2 -13M917 927l9 -9M740 970l1 -13M911 949l9 -9M554 1100l-15 -1M660 1049l-9 -7M968 1021l15 -7M881 884l13 -19M602 923l-11 -15M666 1086l-19 -4M594 1070l-20 -7M598 995l-6 -5M710 949l-4 -19M770 1070l15 -18M863 988l6 -6M946 976l14 -9M519 1044l-13 -3M742 1062l2 -17M700 887l-4 -19M705 846l-1 -11M927 923l7 -6M475 1094l-8 -1M686 1017l-9 -14M581 1003l-19 -15M959 998l19 -10M582 1097l-17 -2M882 895l9 -15M830 846l9 -19M565 1080l-15 -1M800 1038l8 -9M670 862l-7 -25M949 1015l9 -2M830 945l4 -7M601 1048l-8 -2M974 1030l20 -7M763 1055l8 -15M559 1087l-17 -0M502 1015l-24 -6M817 973l10 -21M856 958l9 -13M512 993l-14 -7M716 1087l-16 -19M899 1014l12 -8M596 1107l-15 -1M852 1048l21 -14M892 1066l22 -4M614 954l-14 -17M900 929l13 -17M535 962l-13 -8M728 1066l-4 -22M748 949l-0 -11M853 991l6 -7M709 886l-1 -19M797 861l7 -24M590 997l-12 -8M782 1069l6 -6M802 899l3 -9M817 911l4 -9M757 1023l5 -20M704 1106l-25 -3M628 948l-11 -19M978 1055l21 -6M672 1018l-13 -18M629 1101l-11 0M583 998l-15 -11M897 946l8 -9M809 1030l10 -13M690 953l-6 -15M665 875l-5 -23M606 1099l-22 -1M817 966l7 -17M623 1060l-14 -8M826 992l12 -16M974 972l10 -8M800 854l3 -10M572 905l-13 -14M790 1039l9 -12M850 1000l7 -7M686 1071l-18 -17M506 1095l-14 0M924 1107l8 2M815 1021l11 -13M888 1108l18 1M720 945l-3 -25M570 976l-6 -5M852 1086l14 -4M734 1025l-2 -15M951 1068l12 -4M688 1107l-13 0M723 930l-1 -8M748 973l5 -23M895 1044l15 -8M633 1069l-13 -6M891 1006l15 -11M537 921l-14 -14M697 991l-3 -13M711 1039l-6 -16M845 872l10 -16M758 948l0 -8M843 1013l14 -10M540 966l-8 -7M590 1052l-14 -5M708 923l-5 -18M981 1012l21 -11M865 942l5 -7M899 1027l11 -6M842 1101l22 -0M598 897l-7 -8M1013 1098l19 1M550 905l-5 -6M974 1053l15 -3M519 961l-15 -9M780 1047l8 -12M945 923l16 -16M528 1000l-17 -11M804 927l4 -14M968 970l12 -6M842 987l13 -19M570 1023l-13 -7M746 994l1 -22M624 934l-9 -15M803 1013l14 -22M591 912l-10 -12M539 945l-20 -15M549 1022l-10 -3M596 923l-16 -18M578 1045l-19 -5M768 1058l7 -12M659 1076l-8 -4M703 859l-2 -19M905 958l7 -6M823 973l10 -14M522 1095l-16 -1M573 956l-11 -11M761 1081l5 -7M860 1019l11 -10M875 921l16 -21M897 1067l11 -2M654 1019l-13 -17M602 872l-10 -14M754 1062l4 -12M865 1010l10 -9M611 961l-14 -19M814 1072l19 -11M514 1000l-9 -7M845 1106l24 -2M715 1027l-6 -15M528 1071l-25 -5M908 988l19 -17M656 1061l-14 -8M616 1022l-10 -6M753 909l2 -12M957 1047l10 -3M911 1107l19 -0M768 1091l14 -7M939 1045l22 -6M525 1062l-12 -1M633 861l-4 -11M786 1022l7 -13M871 1012l8 -6M649 961l-9 -20M939 1057l24 -5M485 1102l-8 0M839 868l3 -10M699 1074l-14 -11M807 965l5 -10M880 1075l25 -2M837 1048l19 -12M726 938l-1 -12M628 930l-4 -9M765 1044l4 -13M548 1002l-8 -5M797 840l4 -15M632 1017l-18 -15M852 1043l12 -8M965 1024l13 -6M752 988l1 -20M765 1017l2 -8M770 926l4 -18M564 967l-8 -6M588 1070l-16 -5M798 900l4 -18M535 960l-14 -12M783 971l4 -10M774 1016l5 -15M579 958l-17 -16M784 997l4 -10M871 997l16 -12M886 883l6 -11M854 1008l11 -10M619 966l-10 -14M623 1072l-25 -8M479 1096l-15 -2M540 1053l-10 -3M636 1072l-9 -3M595 950l-11 -13M789 1074l8 -5M949 1000l17 -8M723 940l-1 -18M592 887l-6 -8M732 1052l3 -25M770 1037l4 -12M663 909l-3 -14M899 1050l15 -6M788 1008l6 -12M946 978l12 -8M768 923l2 -9M868 881l14 -22M583 995l-14 -9M504 1043l-9 -2M876 975l10 -9M831 875l5 -9M773 1110l19 -0M601 915l-6 -10M998 1074l18 -1M729 1076l-4 -19M587 1030l-14 -10M573 945l-9 -11M696 942l-7 -19M513 1108l-9 -0M736 1027l-0 -10M670 984l-10 -19M617 859l-7 -15M735 1035l-2 -21M591 1095l-20 -1M934 1061l15 -5M633 1043l-11 -6M794 910l5 -25M697 1019l-9 -23M718 980l-3 -19M914 1108l21 -1M659 936l-6 -10M848 954l7 -10M574 939l-17 -17M754 845l1 -12M884 892l9 -12M518 1092l-10 -0M966 994l20 -11M785 1059l15 -20M526 1073l-11 -1M527 1009l-10 -5M751 1004l2 -13M668 909l-10 -21M649 1004l-8 -7M905 989l10 -6M562 919l-15 -14M717 1079l-13 -20M657 930l-6 -15M958 993l14 -5M734 847l-1 -13M787 1035l6 -9M968 1009l14 -7M704 1025l-4 -8M701 927l-2 -13M796 987l10 -17M694 887l-3 -18M575 966l-14 -12M736 909l-1 -23M970 1103l10 -1M715 1046l-5 -24M726 1075l-3 -16M865 1030l11 -7M861 958l11 -14M840 966l10 -15M807 902l4 -9M799 1060l13 -11M741 1020l1 -13M572 894l-18 -18M826 1018l12 -11M818 1025l5 -7M825 1013l17 -14M622 1015l-18 -14M709 901l-5 -17M804 888l4 -23M958 1016l12 -6M705 1033l-9 -21M821 1004l13 -14M946 956l11 -9M648 915l-11 -22M730 940l0 -14M768 1078l9 -9M758 1080l7 -9M842 1057l9 -4M597 1095l-12 -2M764 1043l7 -16M791 1107l8 -1M476 1062l-14 -2M775 1061l10 -13M762 907l3 -14M732 956l-2 -17M635 1071l-11 -5M651 1084l-15 -4M694 1060l-10 -12M709 1059l-9 -14M711 884l-3 -21M593 965l-11 -10M550 1006l-20 -11M750 982l0 -9M895 881l7 -13M794 919l3 -10M524 945l-19 -16M720 858l-2 -24M701 1060l-11 -12M483 1096l-12 -0M520 1063l-24 -4M869 1005l13 -10M820 1005l11 -12M757 844l2 -12M871 1059l22 -9M652 939l-7 -14M559 1073l-10 -1M483 1055l-25 -5M796 999l4 -8M720 959l-0 -9M847 957l9 -14M871 1034l14 -11M710 948l-4 -21M825 886l3 -9M760 834l2 -13M744 834l0 -21M862 1090l14 -2M759 1013l4 -15M630 1011l-7 -7M512 979l-21 -13M567 1013l-18 -9M770 909l3 -16M765 906l6 -22M710 1005l-7 -21M580 1091l-17 -0M758 991l5 -20M663 913l-3 -8M609 916l-5 -9M679 984l-4 -10M625 877l-10 -19M552 1076l-21 -3M919 985l14 -14M697 938l-3 -12M807 884l6 -18M559 1071l-24 -9M640 1061l-22 -13M871 992l19 -16M704 837l-1 -20M713 941l-0 -9M581 1018l-18 -10M935 926l7 -7M558 1000l-11 -6M838 866l3 -10M945 939l21 -14M534 986l-13 -7M703 1010l-9 -22M630 903l-7 -17M876 892l6 -11M479 1045l-13 -1M576 904l-6 -6M831 909l5 -11M973 1099l14 -0M897 973l8 -8M557 925l-17 -14M762 1028l6 -17M744 923l3 -23M639 979l-14 -15M771 911l2 -13M614 1068l-14 -4M705 1059l-10 -19M975 1050l14 -5M975 1003l7 -4M673 902l-2 -9M811 1023l10 -12M959 1030l20 -10M718 845l-0 -9M707 1052l-11 -19M785 1084l15 -8M647 902l-8 -18M683 1000l-9 -16M987 1100l9 -1M765 852l3 -20M960 1051l20 -5M746 1014l2 -20M822 1000l5 -8M498 1101l-12 -1M795 920l3 -13M901 1091l24 0M559 1101l-16 -3M721 947l-0 -17M694 995l-7 -19M560 993l-14 -8M751 890l2 -18M778 1032l4 -8M595 974l-14 -15M894 1047l23 -9M526 1093l-19 -2M941 1106l18 -1M784 987l8 -21M782 1051l15 -20M675 888l-6 -24M751 917l0 -16M751 968l1 -12M906 940l17 -16M555 976l-16 -11M992 1001l23 -11M931 1003l13 -8M872 1086l21 -2M618 909l-12 -18M864 998l10 -10M827 1081l23 -10M924 967l14 -12M832 965l12 -19M929 998l8 -6M902 1049l17 -6M809 1101l12 -3M534 960l-18 -14M692 977l-7 -17M874 887l8 -16M730 1009l-2 -12M592 1007l-11 -7M539 938l-8 -8M548 918l-9 -8M807 988l6 -12M766 881l0 -10M748 1055l1 -21M724 979l-2 -25M789 982l9 -21M667 933l-3 -9M472 1053l-9 -2M737 1035l0 -18M856 1092l13 -3M921 1028l15 -7M650 1042l-20 -16M758 842l3 -25M545 963l-11 -10M922 1017l10 -5M653 952l-9 -17M474 1109l-18 2M976 1072l13 -2M925 940l14 -13M780 1080l19 -13M648 956l-8 -10M904 970l9 -8M890 987l17 -15M863 869l8 -15M621 927l-6 -9M581 1058l-20 -8M589 972l-20 -16M787 899l3 -11M887 897l6 -9M648 1041l-7 -5M885 930l7 -7M904 1096l22 -3M666 1089l-11 -3M492 1046l-13 -4M950 1092l20 -2M900 980l12 -9M699 1023l-9 -23M857 1027l20 -11M517 1054l-16 -4M899 1089l22 -2M883 1109l21 0M669 881l-7 -23M729 1020l-3 -23M963 965l17 -12M865 1031l8 -6M977 970l10 -6M567 1076l-23 -9M563 1096l-19 -2M945 1057l14 -3M795 1091l20 -4M915 952l18 -15M711 1012l-3 -9M754 925l1 -21M925 1039l15 -6M727 878l-1 -8M740 1013l1 -13M889 1080l21 -3M612 887l-7 -10M874 965l15 -15M562 935l-7 -9M788 1052l8 -11M770 905l3 -16M535 952l-10 -7M709 856l-2 -15M673 982l-11 -20M770 1033l5 -11M504 972l-17 -12M906 1092l16 -4M545 1005l-11 -6M645 912l-4 -8M794 1069l15 -13M532 977l-15 -11M839 994l14 -17M786 969l5 -11M755 963l1 -17M920 961l10 -7M510 961l-20 -13M946 1097l21 -3M647 966l-12 -19M827 1065l14 -7M696 854l-2 -13M604 884l-4 -8M942 1055l17 -5M701 982l-5 -15M657 854l-7 -24M622 1015l-11 -10M919 1048l20 -7M813 980l8 -12M967 1073l21 -2M616 1023l-20 -14M719 911l-0 -13M482 1032l-9 -4M811 1085l22 -6M724 901l-1 -22M573 892l-13 -16M722 969l-1 -15M977 1089l19 -0M838 928l12 -21M522 1049l-23 -6M696 849l-3 -10M788 1056l18 -18M851 927l7 -13M637 1100l-9 -0M750 1020l2 -22M627 885l-5 -8M609 981l-15 -14M819 1103l19 -3M702 918l-2 -15M509 1042l-8 -3M631 1030l-19 -14M708 1053l-6 -11M597 868l-10 -21M766 1026l4 -24M776 896l5 -22M650 899l-6 -17M590 1025l-10 -7M771 894l5 -24M612 995l-9 -8M900 885l12 -15M808 972l4 -8M795 1068l17 -13M780 992l5 -16M616 1063l-17 -9M673 918l-4 -15M902 1073l25 -3M696 968l-3 -19M690 1102l-10 -1M680 942l-9 -20M976 1098l14 1M818 911l6 -10M675 946l-10 -23M792 1021l13 -19M998 1047l19 -5M1007 1051l13 -4M647 861l-6 -13M870 879l12 -21M611 877l-10 -19M865 1078l21 -5M735 858l-1 -12M517 977l-13 -7M691 963l-2 -11M741 1032l5 -21M897 921l12 -18M738 1048l-1 -21M600 1014l-20 -16M974 1070l10 -2M711 916l-5 -22M752 835l-2 -26M518 948l-19 -11M869 1034l12 -12M957 1023l12 -4M912 897l10 -15M749 840l3 -18M868 885l11 -21M791 993l10 -22M554 915l-14 -16M580 898l-7 -11M652 1100l-8 -1M961 964l18 -16M485 1087l-19 -2M827 1002l12 -14M886 908l10 -13M700 1059l-10 -13M962 1099l9 0M878 1066l21 -4M785 995l8 -23M823 1087l16 -6M598 949l-16 -16M865 1073l15 -5M722 880l-2 -10M957 1066l23 -8M806 1039l17 -19M918 1057l20 -4M475 1052l-8 -2M903 909l15 -21M909 913l12 -15M642 929l-5 -7M643 889l-5 -14M859 893l11 -22M698 886l-3 -16M963 979l9 -4M674 969l-4 -15M751 980l0 -26M955 952l14 -13M591 916l-10 -9M827 873l3 -9M817 843l8 -20M816 988l11 -22M891 1002l15 -16M807 1018l6 -7M772 899l3 -16M860 910l3 -8M640 1042l-19 -11M570 1033l-14 -7M839 1092l15 -3M764 984l1 -20M906 969l17 -14M813 1109l16 -2M735 1013l-1 -8M892 1020l13 -7M524 1000l-8 -4M822 1025l9 -9M851 1068l18 -8M598 962l-17 -15M909 1001l8 -5M598 913l-12 -16M608 1060l-13 -7M854 888l5 -9M474 1091l-19 -3M591 1007l-18 -13M738 1041l1 -9M919 1101l20 0M956 1099l25 2M906 926l11 -10M850 931l10 -18M696 889l-5 -24M987 1021l19 -4M835 924l10 -17M736 843l0 -11M626 982l-14 -15M791 1076l18 -13M835 961l3 -8M924 918l20 -16M781 843l2 -23M836 866l4 -10M731 959l-1 -19M950 1085l12 -1M701 987l-4 -10M784 932l3 -10M547 908l-11 -11M851 857l4 -9M503 1085l-11 1M740 971l-1 -26M816 1058l13 -7M663 848l-5 -14M528 998l-21 -13M798 871l2 -10M906 896l13 -16M575 1020l-17 -9M803 982l5 -9M866 901l10 -16M484 1084l-24 -1M488 1020l-13 -6M557 902l-11 -13M797 860l4 -15M722 892l-2 -19M719 977l-1 -11M947 1101l23 -2M761 929l1 -9M918 1003l14 -7M862 1078l11 -4M793 1031l11 -10M697 1007l-7 -21M655 1046l-13 -10M1001 1020l9 -2M779 890l2 -14M477 1060l-13 -6M497 1063l-24 -5M948 1083l9 -1M749 913l2 -19M617 969l-6 -6M733 834l-1 -11M631 1087l-20 -4M498 1102l-19 -1M646 877l-4 -14M769 971l4 -14M741 1073l0 -8M796 1064l12 -11M644 886l-7 -12M636 1082l-23 -5M666 984l-5 -10M593 1009l-7 -4M930 1071l21 -6M877 1055l9 -3M479 1051l-22 -4M925 983l14 -11M751 912l1 -18M780 1052l13 -22M993 1043l22 -4M657 960l-4 -8M891 1067l9 -2M529 1103l-16 1M772 1100l21 -6M853 984l11 -10M586 927l-6 -8M588 877l-9 -16M827 1092l11 -3M653 891l-4 -10M759 858l2 -8M742 965l-2 -19M665 870l-4 -9M833 1032l20 -11M704 867l-2 -12M864 963l14 -15M569 909l-7 -8M800 861l3 -15M618 1008l-14 -12M550 1083l-14 -3M917 976l18 -12M748 989l0 -11M801 973l6 -14M719 1031l-4 -23M813 887l2 -9M693 1087l-9 -4M540 970l-9 -7M933 1042l16 -6M720 971l-1 -8M945 1013l17 -5M861 955l10 -12M728 958l-2 -25M590 1108l-21 -1M899 928l12 -16M968 986l15 -8M769 836l1 -8M812 921l8 -19M936 950l10 -8M840 1028l9 -5M599 990l-19 -16M530 933l-10 -9M856 860l5 -7M946 1071l20 -5M557 984l-20 -13M776 990l3 -9M902 965l14 -10M512 1005l-14 -8M699 937l-5 -21M762 831l3 -19M669 860l-3 -20M676 1070l-20 -12M632 912l-13 -22M841 1006l12 -14M528 1013l-12 -5M598 923l-17 -18M762 998l2 -11M611 889l-6 -10M496 997l-8 -5M556 1056l-10 -2M709 1039l-3 -8M654 1037l-7 -7M742 980l-0 -14M636 994l-11 -12M672 969l-4 -8M640 1044l-20 -16M723 850l-1 -14M946 1013l15 -8M961 1034l11 -2M730 893l-2 -14M600 884l-6 -10M596 911l-12 -16M681 1057l-7 -5M477 1038l-14 -5M750 971l2 -12M576 909l-5 -7M858 1067l16 -7M509 1016l-20 -11M586 998l-16 -12M775 863l3 -16M696 1061l-15 -18M848 993l10 -9M631 907l-6 -10M962 972l9 -6M809 846l2 -9M649 956l-6 -12M837 1060l22 -12M832 1095l9 -1M949 936l13 -8M794 1104l11 -1M566 906l-10 -12M745 920l0 -24" stroke="#f0f0f2" stroke-width="0.6" stroke-opacity="0.45" fill="none"/>
<path d="M992 1047l13 -4M937 915l4 -5M517 1058l-6 -1M848 1054l15 -10M701 1079l-14 -9M558 984l-6 -4M967 1016l7 -3M922 1069l14 -3M984 1010l13 -5M706 856l-3 -15M917 1038l6 -3M671 992l-7 -12M868 1071l9 -2M627 891l-5 -10M801 948l5 -15M665 1018l-6 -8M914 1046l11 -5M922 946l13 -10M529 1065l-17 -3M842 947l10 -13M775 932l3 -15M633 1002l-11 -11M620 998l-9 -8M580 1094l-13 -2M792 1103l13 -2M784 852l2 -10M734 929l1 -15M671 883l-6 -16M842 1082l10 -5M525 1072l-6 -1M833 1045l5 -4M737 1037l0 -17M585 922l-5 -6M661 1070l-6 -3M880 1011l5 -4M556 1066l-10 -3M733 975l0 -10M773 953l2 -12M925 902l4 -5M822 1045l12 -10M906 1074l8 -2M684 996l-3 -7M798 958l5 -17M807 1064l8 -6M696 1094l-9 -3M659 864l-4 -13M799 1099l18 -3M823 884l5 -8M472 1084l-15 -2M944 1000l11 -5M618 888l-5 -9M864 985l10 -9M876 994l8 -7M866 1051l8 -4M903 990l12 -8M669 1109l-15 1M815 925l7 -11M664 1043l-10 -10M596 1051l-13 -4M710 955l-2 -10M869 952l10 -14M923 1096l14 -1M788 1032l4 -5M690 1014l-3 -6M853 1078l10 -3M607 925l-7 -10M598 885l-6 -10M553 995l-11 -6M465 1091l-9 -1M682 1039l-7 -10M772 866l3 -13M939 1092l7 -0M832 864l4 -16M953 1008l13 -6M855 941l5 -7M716 977l-0 -12M879 994l8 -8M644 1054l-12 -8M791 1099l10 -2M568 969l-8 -7M727 834l1 -12M640 912l-3 -5M716 1029l-3 -14M575 905l-10 -14M866 1064l15 -5M459 1096l-7 1M631 932l-8 -13M578 1008l-10 -8M863 904l7 -14M878 909l5 -8M748 978l0 -8M870 972l12 -13M871 943l5 -5M787 999l6 -15M839 1057l13 -9M687 914l-3 -13M673 1001l-3 -6M830 974l7 -11M703 884l-0 -8M630 857l-3 -7M925 901l11 -13M631 889l-7 -14M700 907l-1 -13M467 1100l-14 2M971 1022l10 -4M885 986l10 -8M548 1064l-10 -3M805 1031l5 -5M711 910l-2 -16M589 906l-6 -9M804 1066l8 -5M496 1107l-17 -2M679 947l-3 -9M607 959l-10 -9M699 992l-7 -16M720 893l-1 -13M893 1049l13 -9M555 940l-13 -11M711 1082l-6 -6M671 1060l-11 -10M630 959l-10 -14M765 851l2 -18M542 1005l-11 -6M835 1021l9 -10M733 1039l-1 -8M889 947l6 -8M587 1033l-13 -5M980 1093l8 -1M976 1100l13 0M781 996l3 -6M858 1094l18 -2M602 894l-10 -15M920 1056l12 -4M705 859l-1 -13M675 1101l-6 -2M826 991l5 -9M877 902l4 -7M868 900l8 -16M511 1078l-14 -2M968 1013l13 -6M748 1029l1 -10M795 946l7 -16M704 888l-1 -7M514 957l-11 -7M702 955l-4 -13M603 1040l-12 -5M832 860l5 -10M610 1034l-14 -10M607 970l-6 -7M819 991l6 -8M606 885l-8 -12M773 967l2 -10M604 949l-6 -7M563 985l-12 -9M636 951l-6 -9M838 950l6 -14M796 1073l8 -5M856 987l11 -14M884 1012l15 -10M591 952l-10 -13M952 1069l16 -3M825 946l5 -12M779 904l3 -12M992 1073l11 -1M686 1028l-4 -9M619 1073l-16 -5M756 1002l1 -18M1006 1036l7 -2M773 905l1 -10M785 1070l4 -4M902 989l5 -3M978 1068l16 -3M536 1004l-6 -3M978 1108l15 -1M756 972l2 -9M747 981l1 -8M703 1019l-3 -7M976 1074l16 -2M734 838l1 -11M776 1085l11 -8M744 875l-0 -6M775 897l1 -6M707 875l-2 -9M623 995l-10 -11M743 1041l-0 -9M529 1091l-8 -1M569 980l-11 -10M901 1001l6 -4M836 1018l7 -6M878 1063l6 -3M536 1050l-14 -3M678 920l-5 -12M755 850l1 -8M711 1062l-4 -5M713 1080l-9 -9M772 894l3 -13M640 958l-6 -10M666 959l-5 -11M880 895l6 -8M808 1000l5 -9M691 967l-4 -14M990 1023l11 -3M855 1030l8 -6M718 1040l-4 -16M718 1020l-3 -12M682 950l-2 -7M852 1022l5 -4M903 966l6 -6M537 1109l-15 -0M571 1106l-16 0M816 849l2 -11M518 958l-11 -6M940 938l7 -8M1014 1077l15 -1M597 1043l-13 -5M772 902l0 -8M912 1048l10 -3M870 934l6 -8M765 854l0 -7M602 1085l-8 -2M793 1069l7 -5M957 954l11 -9M595 901l-5 -9M813 922l6 -16M725 946l-1 -12M478 1072l-7 -1M474 1089l-7 -1M719 909l-4 -16M907 1032l10 -4M903 951l11 -13M779 1046l6 -12M923 912l8 -8M651 958l-5 -10M603 1061l-6 -2M867 1083l10 -1M655 1058l-7 -5M551 1079l-7 -1M569 977l-7 -6M496 982l-7 -3M877 1086l10 -3M715 983l-2 -11M691 1074l-7 -5M637 1028l-5 -4M702 947l-3 -11M819 877l3 -13M776 1075l8 -7M660 1100l-9 -1M593 1029l-12 -7M714 851l0 -13M589 1059l-11 -2M513 1095l-14 0M655 975l-5 -9M645 1022l-6 -7M819 1083l13 -5M906 962l6 -6M605 936l-6 -8M627 935l-4 -6M731 968l-1 -9M967 987l8 -4M937 1055l16 -5M912 963l10 -10M986 985l8 -4M678 918l-2 -7M873 1022l15 -9M566 936l-5 -5M629 963l-5 -6M821 871l5 -13M830 867l6 -17M612 1081l-9 -1M821 1002l5 -9M747 876l2 -17M628 1045l-11 -5M604 1042l-8 -5M886 1068l16 -2M525 1045l-15 -5M589 941l-10 -12M935 952l8 -7M878 883l7 -13M731 925l1 -18M710 1025l-3 -11M967 953l7 -6M799 1024l7 -10M677 853l-2 -14M614 1005l-11 -9M874 898l4 -6M727 968l-2 -16M713 1030l-5 -17M996 1041l7 -1M668 869l-5 -15M503 965l-10 -5M539 964l-8 -5M955 943l9 -6M693 1088l-15 -8M703 914l-2 -9M657 918l-5 -16M862 1069l12 -5M928 941l11 -9M863 1091l14 -3M845 1007l8 -6M797 991l3 -7M554 986l-15 -9M841 1068l11 -3M480 1102l-17 -0M874 983l9 -8M705 851l-3 -13M924 913l6 -8M957 950l12 -11M764 915l2 -13M766 924l1 -10M842 921l6 -13M791 1027l5 -8M887 1014l12 -8M867 873l4 -10M537 983l-12 -7M962 1039l8 -4M805 884l2 -8M808 1085l15 -6M535 1081l-15 -1M641 1068l-14 -6M736 906l0 -15M771 987l2 -8M653 1017l-5 -7M779 1092l9 -3M624 916l-9 -14M818 945l6 -9M538 943l-14 -10M823 891l3 -8M829 1041l8 -6M646 1088l-17 -5M723 969l-2 -7M883 877l5 -9M967 1035l6 -1M813 934l4 -11M826 850l4 -13M826 919l2 -8M584 1018l-11 -5M754 1010l2 -13M821 958l3 -7M518 1076l-14 -1M537 1102l-13 -2M574 1079l-14 -2M876 890l9 -15M708 853l-2 -13M667 860l-3 -8M959 954l10 -9M969 962l12 -6M803 982l5 -10M742 941l-1 -8M709 1060l-3 -6M688 1067l-7 -5M883 1036l6 -3M822 975l4 -7M660 930l-4 -17M674 900l-4 -15M504 1035l-12 -4M707 879l-1 -10M856 1083l16 -5M932 954l6 -6M935 1086l17 -0M520 987l-5 -4M569 949l-13 -9M876 1003l12 -8M883 994l12 -9M858 1069l11 -2M934 963l11 -8M823 865l4 -8M629 883l-4 -9M752 869l1 -11M572 992l-8 -5M471 1055l-11 -2M937 987l13 -9M577 1087l-9 -1M822 1031l11 -14M538 925l-13 -12M781 834l3 -17M662 937l-7 -15M870 1107l13 0M791 1064l12 -10M906 922l12 -12M936 1069l15 -6M1010 1085l13 -2M677 1068l-11 -6M667 1053l-7 -6M729 946l1 -18M864 1018l5 -4M707 952l-1 -10M483 1097l-7 -1M938 1051l16 -6M661 1051l-11 -8M575 1071l-15 -4M984 988l14 -6M661 864l-3 -7M957 1059l13 -4M660 1049l-7 -6M741 981l-1 -17M831 1104l9 -2M673 1079l-12 -5M548 942l-11 -9M717 1078l-9 -12M797 1036l10 -11M1011 1106l17 -0M721 946l-1 -13M590 1075l-15 -3M703 895l-1 -11M749 843l1 -15M773 931l4 -13M901 888l8 -10M803 887l2 -8M539 968l-14 -10M673 1109l-9 -1M969 1040l16 -3M735 839l0 -6M982 979l15 -9M824 926l3 -6M758 859l2 -16M899 897l8 -8M763 881l2 -13M586 1015l-9 -5M754 1003l1 -9M847 942l4 -8M950 996l8 -4M925 933l6 -6M836 904l6 -12M514 958l-6 -4M1014 1066l14 -3M535 1056l-12 -4M623 1027l-10 -7M642 953l-9 -13M927 1056l11 -2M949 1066l10 -1M752 992l1 -10M694 850l-1 -17M966 1018l8 -3M910 1058l11 -4M891 948l7 -7M968 1100l15 -1M917 957l6 -5M599 899l-8 -13M996 1041l15 -3M805 1048l12 -11M651 870l-2 -6M996 1061l12 -1M575 1018l-9 -6M766 1085l8 -7M933 1040l11 -4M518 1060l-11 -3M989 989l6 -2M621 969l-12 -13M968 1084l12 -2M940 1098l10 -2" stroke="#6a6a70" stroke-width="0.6" stroke-opacity="0.10" fill="none"/>
<path d="M756 1060l4 -17M840 991l8 -9M748 1000l0 -8M646 1051l-15 -9M823 905l6 -16M711 989l-1 -6M730 1020l-3 -15M574 1041l-11 -4M628 1099l-9 -1M802 1010l10 -14M652 954l-6 -12M511 1079l-11 -2M903 917l8 -11M850 1027l5 -4M872 897l6 -11M687 938l-4 -12M714 977l-1 -6M708 852l-1 -11M532 1051l-7 -3M807 1098l14 -0M786 1046l5 -6M946 949l10 -8M889 1038l15 -6M853 882l2 -7M690 940l-3 -7M673 1089l-14 -5M751 914l1 -10M900 1070l17 -3M565 1100l-16 -1M647 854l-4 -11M509 972l-10 -6M605 1076l-16 -5M541 1024l-16 -8M700 907l-2 -10M665 928l-5 -13M860 899l6 -13M596 936l-6 -8M799 1012l6 -8M570 995l-13 -9M696 868l-3 -17M593 1041l-13 -5M746 901l1 -13M659 876l-3 -10M653 1046l-11 -8M613 981l-9 -13M814 909l2 -7M715 882l1 -10M620 1109l-11 -1M761 1079l8 -9M592 943l-4 -6M473 1059l-18 -4M770 953l2 -16M997 1063l16 -4M711 859l-2 -8M645 929l-4 -10M864 1049l7 -2M669 1055l-12 -9M933 1091l8 -0M849 1008l5 -6M567 1052l-10 -5M876 897l4 -5M676 872l-4 -13M911 946l10 -12M772 901l1 -9M738 1002l-1 -13M699 1105l-17 -2M622 974l-9 -10M636 930l-8 -13M812 1015l8 -10M878 982l7 -7M809 959l6 -13M673 955l-6 -16M657 1036l-10 -8M642 1004l-6 -6M910 1065l17 -4M907 1050l9 -4M744 976l1 -14M675 847l-2 -7M660 1045l-10 -6M809 1041l7 -8M755 899l0 -7M683 1024l-6 -10M564 937l-5 -5M908 1022l15 -8M557 1064l-14 -3M489 1062l-8 -1M571 1061l-16 -4M906 966l8 -6M931 1069l9 -2M506 1026l-7 -2M582 1046l-16 -7M928 916l12 -12M591 1002l-14 -11M775 961l0 -7M550 987l-10 -8M697 1097l-9 -2M832 916l7 -14M562 1095l-18 -0M672 937l-7 -13M499 989l-15 -6M795 1098l17 -4M608 1047l-15 -7M970 969l11 -6M689 869l-2 -10M736 1050l2 -10M797 936l2 -7M630 914l-5 -7M767 1003l4 -11M821 973l4 -6M541 1042l-12 -3M718 959l-2 -11M659 1096l-17 -3M604 1088l-12 -3M492 998l-8 -2M772 1093l7 -4M816 1033l5 -5M923 1106l7 -0M550 914l-8 -8M595 1016l-5 -4M819 844l5 -11M502 1100l-14 0M630 1097l-15 -2M579 949l-9 -11M673 903l-6 -11M921 1036l7 -2M930 936l11 -10M514 985l-13 -7M811 886l5 -11M725 951l-0 -14M671 948l-5 -10M577 1058l-17 -7M722 1045l-2 -8M919 921l11 -10M729 873l-0 -8M543 964l-11 -7M738 938l-0 -6M871 947l7 -8M575 1072l-14 -2M942 1032l16 -6M731 871l-1 -16M518 1056l-10 -4M704 993l-2 -9M760 849l1 -14M700 875l-2 -6M720 1042l-5 -13M901 939l5 -5M570 967l-6 -6M802 1019l10 -15M973 972l13 -9M997 1109l15 -1M677 861l-3 -12M924 954l6 -4M484 1061l-11 -3M650 1067l-10 -3M568 1070l-6 -2M470 1082l-10 -2M648 931l-6 -13M637 974l-9 -13M955 938l9 -7M681 1024l-5 -8M849 1108l13 -1M921 967l10 -10M907 1018l8 -5M939 977l14 -8M775 958l4 -15M712 1005l-2 -8M796 1059l10 -10M610 1070l-13 -4M899 1028l12 -6M905 946l7 -6M827 1083l16 -5M947 985l10 -6M990 1020l12 -3M649 1030l-10 -10M705 956l-2 -9M901 978l12 -9M830 870l3 -6M641 953l-9 -16M735 1023l-0 -7M922 934l7 -6M729 933l0 -8M507 1043l-8 -3M712 872l-3 -17M624 930l-7 -11M748 1047l1 -13M830 853l2 -6M956 1056l16 -5M584 1042l-12 -4M692 850l-2 -14M823 964l8 -15M729 895l1 -14M642 1083l-7 -2M607 927l-6 -8M942 1087l11 -0M844 886l5 -14M934 1012l10 -4M942 922l8 -8M509 1032l-8 -3M694 895l-3 -11M1000 1015l13 -3M910 902l9 -8M977 971l7 -4M982 1083l8 -1M503 1094l-18 -3M860 861l3 -8M653 955l-3 -5M948 1009l10 -7M864 1034l10 -6M615 960l-7 -10M777 855l2 -12M940 1029l11 -3M962 1014l14 -8M896 1086l6 -1M865 992l6 -7M861 1048l10 -5M519 1041l-13 -4M731 1053l-2 -18M943 1037l10 -3M760 831l2 -15M838 958l5 -8M762 1022l3 -15M492 1078l-10 -1M820 1084l13 -5M800 1037l9 -9M698 975l-5 -11M910 1087l9 -2M890 1072l10 -3M780 1039l6 -14M728 1023l-2 -12M530 934l-13 -10M628 907l-4 -8M853 1048l10 -5M634 980l-10 -12M519 1042l-13 -4M957 1110l8 -0M780 1019l6 -14M881 998l5 -5M724 907l-2 -15M941 1065l15 -4M850 951l8 -15M550 1069l-14 -3M762 871l-0 -7M601 1004l-7 -4M617 1108l-11 -1M633 1017l-10 -9M621 968l-4 -6M637 1005l-8 -8M821 985l7 -12M946 1106l8 -0M610 895l-5 -9M936 1005l10 -6M914 930l5 -7M775 863l0 -9M540 1084l-14 -2M751 1078l7 -16M859 866l4 -7M707 944l-0 -10M942 1010l6 -2M467 1072l-11 -1M924 923l12 -13M812 1013l6 -8M738 862l1 -8M857 939l8 -14M844 987l11 -10M905 961l6 -5M655 983l-7 -12M514 995l-14 -5M774 1079l6 -5M679 1088l-13 -5M590 1000l-12 -9M779 846l2 -9M865 1080l6 -1M615 892l-6 -10M764 1047l3 -10M742 901l-1 -16M786 859l2 -9M644 1049l-14 -10M817 946l7 -14M826 875l1 -7M525 1099l-10 0M940 951l11 -7M589 1039l-15 -7M623 1090l-12 -3M691 1002l-4 -9M769 997l4 -13M807 1062l11 -8M690 998l-4 -7M739 868l0 -13M799 996l6 -10M687 928l-1 -7M631 1052l-9 -4M514 949l-9 -5M587 894l-9 -14M791 922l6 -15M596 908l-8 -11M475 1046l-15 -4M597 998l-5 -4M885 1097l11 -0M833 954l9 -14M922 973l6 -5M832 1087l13 -4M560 987l-7 -5M749 1009l0 -11M721 1013l-3 -12M985 1001l10 -4M707 887l-1 -10M462 1080l-17 -0M774 848l2 -14M765 1095l13 -7M533 991l-9 -6M818 1088l8 -3M636 1103l-13 -1M664 989l-8 -15M812 1080l9 -3M678 927l-4 -12M797 841l2 -6M644 1078l-9 -4M621 975l-11 -13M615 963l-4 -6M483 1052l-13 -6M637 867l-6 -12M698 937l-4 -15M913 908l9 -10M691 885l-2 -15M650 1044l-12 -7M726 881l-1 -15M949 1087l8 -0M565 1078l-7 -1M835 1042l8 -6M1007 1101l10 -1M629 965l-4 -7M521 1041l-7 -2M847 854l5 -11M614 863l-5 -9M905 1006l12 -7M978 1013l11 -5M958 1053l6 -1M575 1095l-17 -3M658 1013l-5 -8M806 1058l8 -5M639 917l-4 -6M831 875l4 -9M796 1024l5 -9M920 1016l14 -8M963 1047l9 -2M583 1009l-9 -5M816 1095l6 -1M864 916l9 -16M740 1041l-0 -12M586 917l-10 -11M723 1033l-4 -10M821 1050l12 -8M789 1070l8 -8M611 1002l-9 -8M1004 1083l7 0M748 938l0 -17M666 850l-4 -16M713 985l-2 -13M690 984l-4 -10M572 1076l-8 -2M627 1053l-12 -6M752 838l-0 -7M979 1105l16 -2M510 968l-8 -5M804 881l4 -15M639 892l-5 -10M761 1045l6 -14M818 912l3 -9M738 918l1 -12M673 1054l-5 -5M946 1005l15 -9M618 903l-9 -14M707 902l-2 -12M609 930l-4 -5M941 1076l18 -1M571 1034l-14 -6M742 867l1 -8M808 955l5 -13M896 1065l14 -5M806 963l3 -6M633 1016l-8 -8M475 1109l-14 1M832 1018l12 -11M494 984l-13 -8M778 1093l6 -3M909 906l5 -4M756 930l2 -14M700 844l-2 -12M693 1083l-14 -8M781 851l2 -14M795 1061l13 -12M652 1026l-7 -6M705 1095l-6 -2M888 911l11 -11M589 934l-11 -13M691 1033l-5 -7M514 1108l-7 -1M527 953l-6 -3M970 987l6 -3M576 1100l-16 -2M703 1029l-5 -8M843 914l6 -11M661 886l-4 -10M545 1011l-13 -8M609 1064l-15 -6M513 1052l-18 -3M736 1017l0 -17M867 893l4 -8M523 994l-15 -8M921 1001l12 -9M567 1038l-15 -6M803 1053l12 -12M851 1097l10 -1M724 1016l-2 -11M915 950l5 -4M665 935l-8 -15M550 1000l-6 -3M667 1059l-13 -11M920 1010l13 -8M838 1041l14 -11M640 1103l-13 -2M826 907l7 -15M574 909l-5 -6M712 847l-0 -15M584 1103l-14 -2M669 958l-7 -14M674 910l-3 -12M1007 1069l8 -1M729 843l-1 -14M627 1027l-6 -4M967 1048l14 -5M594 1070l-6 -1M561 917l-12 -14M938 1088l16 -0M811 1083l13 -5M930 905l10 -10M727 881l-2 -15M687 1099l-15 -5M955 1103l6 -1M902 917l9 -11M945 923l9 -9M884 1099l13 -1M753 860l1 -16M647 1055l-11 -7M638 1021l-9 -10M714 972l-3 -10M542 912l-11 -14M579 968l-8 -8M949 1004l8 -5M641 997l-10 -13" stroke="#6a6a70" stroke-width="0.6" stroke-opacity="0.15" fill="none"/>
<path d="M928 947l5 -6M568 940l-12 -11M735 1041l-1 -10M650 1102l-13 -2M762 1058l5 -9M597 1092l-7 -1M635 1009l-8 -9M656 1024l-12 -10M867 1003l5 -4M882 1050l13 -4M780 924l0 -9M711 900l-2 -9M481 1014l-15 -8M644 1060l-8 -4M680 1110l-13 -0M932 947l10 -8M778 1029l6 -17M662 882l-3 -8M789 1016l5 -12M836 1075l12 -4M641 905l-5 -8M494 1087l-10 -1M811 900l3 -9M817 913l4 -12M641 1009l-7 -7M533 1102l-16 2M891 958l13 -12M787 922l4 -14M598 1028l-13 -7M785 1084l11 -7M648 996l-4 -6M579 1067l-17 -5M886 1102l10 -1M945 1005l12 -6M711 867l-1 -16M689 1046l-10 -13M789 854l3 -13M741 1075l0 -6M669 898l-6 -17M730 953l-2 -18M980 975l14 -7M835 971l8 -10M669 978l-7 -14M676 1085l-14 -6M512 1056l-17 -4M828 887l4 -12M687 1080l-9 -5M696 979l-1 -6M736 1010l-0 -8M953 973l15 -8M502 984l-12 -8M721 873l-3 -13M844 999l6 -6M603 954l-11 -10M560 912l-6 -9M803 1003l9 -14M694 897l-1 -9M840 992l4 -5M611 979l-6 -5M494 1067l-11 -3M919 1059l10 -2M787 991l5 -13M925 937l7 -7M694 1059l-5 -7M873 959l10 -13M833 1035l15 -9M562 1034l-10 -2M903 1075l17 -5M876 880l5 -10M611 978l-8 -9M631 923l-6 -9M491 1092l-16 -1M717 921l-0 -8M926 905l8 -10M623 1030l-9 -6M838 917l7 -12M590 885l-6 -7M760 961l1 -9M853 945l10 -13M614 892l-6 -8M642 1107l-17 1M520 1078l-16 -1M765 836l0 -14M872 1000l10 -8M835 902l8 -15M990 1008l10 -4M1002 1045l10 -3M570 1101l-8 0M884 937l8 -10M654 1033l-14 -9M560 992l-6 -4M713 911l-1 -10M816 985l5 -9M689 935l-2 -12M579 1079l-16 -5M816 896l6 -12M740 931l0 -10M614 1057l-16 -6M887 1077l13 -3M480 1075l-12 -3M1005 1103l14 1M839 915l5 -9M895 895l11 -12M1002 1106l14 -2M886 922l9 -12M722 887l-1 -10M909 896l3 -5M781 899l2 -15M1000 1096l13 -1M665 1078l-10 -4M923 1089l7 -1M523 949l-5 -4M827 910l5 -10M735 1061l-1 -8M617 899l-6 -9M713 919l-3 -16M536 1001l-15 -7M481 1083l-14 -3M641 1105l-14 -1M669 853l-2 -10M828 960l5 -9M846 975l4 -6M687 1096l-11 -3M668 914l-3 -13M563 972l-6 -6M877 900l6 -10M671 1082l-14 -7M654 874l-6 -16M868 1027l10 -7M598 871l-3 -6M808 872l3 -8M794 1095l8 -1M738 894l-1 -15M795 909l5 -13M577 985l-14 -9M742 1003l2 -16M757 859l2 -12M697 998l-4 -16M631 980l-5 -5M689 1107l-18 -1M749 987l2 -12M915 1084l15 -4M581 984l-9 -9M682 838l-3 -9M707 1026l-5 -13M729 838l-0 -15M559 1098l-11 -1M943 1052l6 -2M902 1068l15 -3M493 1027l-8 -4M796 839l4 -17M530 1095l-8 -2M609 875l-4 -15M651 959l-5 -7M691 892l-4 -14M532 1072l-10 -2M538 1054l-17 -4M832 850l3 -7M482 1107l-16 1M944 1091l13 -1M932 928l11 -9M863 902l8 -15M540 1001l-10 -6M526 1101l-17 -1M704 962l-7 -13M901 919l7 -11M916 978l12 -10M660 896l-4 -12M583 949l-7 -6M908 1109l13 -1M597 876l-5 -8M726 1058l-3 -14M961 1021l12 -5M987 1032l9 -2M833 1018l6 -5M827 856l8 -15M893 913l10 -12M759 1048l5 -16M781 1057l6 -8M778 902l1 -12M620 1070l-10 -5M493 996l-8 -3M703 924l-3 -15M636 987l-4 -5M527 1107l-11 1M564 1092l-13 -2M636 1084l-14 -3M926 1077l10 -3M837 879l3 -7M785 1045l9 -11M703 1016l-4 -9M925 1087l17 -3M534 983l-11 -7M812 959l7 -15M773 942l5 -16M832 883l7 -16M678 1019l-7 -8M503 1051l-17 -4M958 978l11 -8M982 1107l15 -1M752 1063l3 -8M794 990l5 -9M904 999l8 -5M504 1034l-6 -2M810 912l5 -17M778 1002l4 -8M690 916l-3 -8M592 872l-5 -6M847 859l7 -15M744 858l1 -16M740 1017l-0 -10M567 1014l-15 -10M497 1089l-17 0M843 885l3 -6M630 886l-5 -15M538 997l-10 -6M542 1069l-12 -3M661 864l-3 -11M772 1018l2 -8M661 847l-4 -12M827 992l7 -10M676 1068l-9 -5M621 987l-7 -7M964 1031l16 -7M994 1004l16 -7M791 1010l4 -17M778 1006l3 -6M830 1108l11 -0M530 1041l-13 -4M559 1016l-11 -6M837 1042l7 -5M479 1038l-7 -2M740 851l-1 -17M865 1103l13 -1M710 1033l-6 -16M534 1026l-11 -6M928 1059l12 -3M726 1027l-0 -6M818 886l3 -7M807 1036l12 -12M472 1082l-14 -3M821 1008l7 -8M563 1015l-8 -4M772 1060l5 -6M709 1065l-4 -7M855 873l3 -10M768 1003l5 -16M586 919l-5 -6M594 1042l-12 -4M699 849l-1 -17M579 884l-5 -7M597 894l-11 -13M844 870l6 -10M640 950l-8 -15M854 1084l12 -4M871 979l13 -12M753 1079l6 -11M502 1031l-11 -4M888 983l7 -5M908 951l9 -8M841 975l8 -14M583 917l-8 -9M678 946l-4 -9M868 1040l11 -6M841 883l10 -15M755 833l0 -6M864 882l7 -14M614 933l-6 -10M834 1036l12 -11M560 1051l-11 -4M903 945l8 -11M632 873l-5 -12M670 926l-5 -9M932 1018l10 -5M625 982l-9 -11M606 1081l-6 -2M501 1062l-7 -1M958 1025l10 -3M626 875l-6 -10M646 999l-4 -4M971 1085l16 -1M747 963l3 -15M874 977l9 -10M882 936l6 -8M845 855l7 -12M691 1043l-8 -12M670 928l-3 -9M597 1029l-9 -5M509 1095l-10 -1M709 858l-2 -16M785 844l1 -7M691 944l-5 -16M808 1052l10 -10M683 895l-3 -18M912 938l9 -8M925 1102l16 -1M509 1002l-13 -6M546 935l-7 -6M864 1059l10 -4M746 854l1 -12M728 882l1 -12M967 1049l7 -2M626 879l-3 -7M690 1028l-4 -6M885 923l12 -13M473 1097l-7 -1M870 1094l13 -1M868 960l7 -10M544 1107l-8 -0M808 1047l5 -4M782 840l3 -11M608 899l-7 -11M748 1075l4 -13M654 951l-7 -13M737 974l-1 -9M887 1059l15 -5M718 905l-2 -17M876 1082l6 -1M888 1088l16 -1M584 948l-11 -13M859 1097l10 -1M916 1063l17 -5M596 1096l-16 -1M825 1048l11 -8M712 987l-1 -9M535 1058l-10 -3M969 1102l8 0M729 883l0 -13M481 1082l-17 -2M927 992l10 -6M719 1042l-3 -13M992 1020l16 -7M749 996l0 -15M704 1043l-4 -7M838 1078l16 -6M682 1005l-5 -11M783 1100l17 -5M812 966l8 -15M627 960l-10 -14M914 1070l6 -1M1001 1027l17 -5M600 1046l-10 -5M586 1022l-7 -5M660 918l-5 -16M523 979l-12 -8M604 1021l-6 -4M836 947l7 -16M584 936l-12 -13M591 1054l-7 -3M688 1015l-3 -7M481 1109l-13 -1M532 1075l-6 -0M908 1016l13 -6M690 928l-2 -9M983 1083l16 -1M814 847l4 -11M670 948l-4 -14M684 1023l-4 -7M631 922l-6 -12M812 1055l13 -11M796 946l6 -13M728 986l-2 -11M790 990l4 -10M725 1047l-2 -8M854 868l8 -15M933 917l13 -11M811 972l4 -11M785 1017l6 -13M1015 1110l12 -2M881 947l6 -6M835 897l7 -12M746 978l1 -14M609 1034l-11 -7M835 883l2 -7M632 891l-3 -7M637 1039l-15 -8M821 903l2 -7M628 1052l-12 -6M917 946l9 -7M826 1110l10 -0M977 995l14 -8M585 1087l-8 -2M774 1067l9 -10M579 1101l-15 -2M692 1093l-6 -2M908 1019l7 -3M781 950l3 -10M762 836l2 -11M588 946l-12 -13M712 884l-2 -9M949 1061l12 -3M753 831l1 -8M843 988l5 -5M884 1016l16 -9M743 906l0 -11M566 929l-13 -12M700 1072l-5 -5M960 1003l15 -9M685 1040l-4 -5M820 930l7 -14M590 1103l-17 -2M952 938l13 -11M644 990l-12 -13M815 1046l13 -12M727 1032l-1 -9M934 1008l11 -6M758 901l1 -8M761 902l3 -17M782 1049l11 -13M782 1019l3 -5M623 1017l-11 -9M707 915l-0 -9M620 937l-10 -13M701 956l-5 -14M799 961l5 -9M473 1065l-15 -3M743 1030l1 -8M792 969l3 -8M827 1045l11 -10M953 1062l6 -2M860 1056l13 -5M569 1033l-9 -3M821 983l4 -6M756 1018l2 -13M668 1047l-7 -7M924 907l6 -5M667 1063l-10 -6M679 1042l-12 -13M662 902l-5 -10M678 1106l-16 1M958 974l8 -5M707 945l-2 -15M589 884l-7 -10M840 1049l13 -7M537 1083l-7 -1M556 1033l-9 -4M735 920l-1 -14M877 867l8 -14M939 1072l17 -3M804 909l4 -9M640 1028l-9 -7M899 965l11 -12M787 841l1 -7M679 846l-3 -17M771 989l4 -16M973 1012l8 -4M759 982l1 -14M877 940l9 -11M840 1062l9 -4M579 1085l-14 -2" stroke="#6a6a70" stroke-width="0.6" stroke-opacity="0.20" fill="none"/>
<path d="M682 890l-4 -14M542 962l-10 -7M645 946l-4 -7M566 948l-9 -8M577 1057l-10 -5M583 1085l-9 -3M682 1064l-6 -5M489 1012l-12 -5M833 1091l6 -1M650 990l-5 -6M642 1078l-8 -2M675 1073l-11 -6M816 1108l17 -1M755 953l2 -14M769 975l2 -6M767 1002l6 -16M834 877l5 -13M713 976l-4 -14M854 942l10 -15M698 852l-4 -13M662 857l-4 -13M739 1018l-1 -12M525 957l-13 -9M940 1100l8 -1M599 1076l-10 -2M769 1026l4 -11M551 996l-8 -6M509 956l-6 -3M893 898l10 -15M660 991l-8 -14M725 861l-1 -9M817 1069l15 -8M796 950l5 -13M615 902l-5 -10M554 927l-7 -6M516 1046l-15 -4M841 1018l9 -6M942 954l6 -5M915 906l6 -6M817 922l5 -11M922 906l11 -14M739 845l1 -8M802 854l2 -12M551 1089l-17 -1M505 1051l-16 -5M699 918l-5 -14M583 1004l-10 -7M851 1051l12 -6M944 924l10 -9M866 1108l12 -1M978 1000l8 -3M649 1096l-14 -3M629 951l-5 -9M692 860l-1 -13M973 1028l15 -5M542 1040l-14 -4M745 985l0 -14M783 870l2 -9M829 935l5 -10M726 847l-1 -12M705 1051l-5 -10M975 961l8 -5M697 999l-3 -10M934 1050l12 -3M745 1028l2 -11M821 1015l12 -13M572 995l-7 -5M531 1102l-13 1M895 1038l11 -4M922 1034l11 -5M631 1050l-7 -5M774 994l4 -11M859 1005l11 -8M621 906l-7 -13M494 1091l-17 -2M702 883l-2 -12M699 883l-2 -13M701 858l-4 -15M887 1091l15 -3M791 920l4 -15M733 877l-1 -14M606 1068l-11 -4M621 894l-6 -12M664 851l-6 -16M528 1073l-11 -2M525 1084l-9 -1M589 944l-7 -7M613 860l-7 -12M792 942l2 -10M759 912l2 -15M954 1054l10 -4M908 1011l9 -6M640 946l-8 -14M552 1104l-13 -1M690 1082l-8 -4M880 974l4 -5M901 1100l15 -2M556 991l-14 -10M485 1079l-7 -1M894 1087l8 -2M579 971l-9 -6M691 943l-4 -16M721 1065l-4 -12M585 1104l-6 -0M1011 1099l17 1M713 1016l-2 -16M808 1083l13 -4M553 923l-9 -9M921 953l8 -6M776 1100l13 -5M504 1080l-6 -0M915 951l7 -5M961 1076l15 -5M642 1092l-10 -3M852 960l11 -14M753 877l0 -15M823 983l6 -11M886 1023l10 -6M980 1081l14 -2M892 937l5 -7M639 1042l-13 -11M933 1059l16 -5M880 935l4 -6M620 1053l-12 -7M920 1056l6 -2M534 1058l-12 -4M656 866l-2 -9M812 881l5 -14M583 994l-7 -6M872 915l4 -7M666 1019l-11 -14M744 1027l0 -9M754 873l1 -8M890 1089l12 -2M599 1088l-15 -4M783 1033l4 -8M991 1074l9 -1M817 927l4 -11M651 975l-5 -7M963 990l8 -3M596 992l-7 -5M837 1101l15 -1M821 1075l12 -5M847 985l12 -14M921 983l14 -10M585 1024l-14 -8M893 943l9 -11M835 1010l9 -10M831 846l4 -13M790 1026l5 -7M602 1007l-14 -9M500 1034l-12 -5M674 1045l-11 -7M612 930l-6 -9M670 1089l-8 -3M526 1102l-13 -2M816 1034l8 -11M680 867l-2 -12M919 1049l16 -5M735 927l-2 -17M954 1031l8 -4M814 1029l7 -8M853 1045l13 -7M730 1060l-1 -17M856 1042l9 -6M847 1053l12 -7M814 1050l8 -7M495 972l-12 -5M780 964l7 -13M574 983l-6 -6M526 1020l-16 -5M670 1036l-10 -13M492 1069l-7 -1M561 1015l-11 -6M687 949l-4 -12M789 880l3 -16M513 1071l-16 -4M504 969l-7 -4M472 1030l-12 -4M858 939l9 -13M581 1024l-8 -5M474 1036l-6 -1M951 1040l10 -4M670 859l-3 -14M713 1093l-10 -7M674 843l-3 -9M662 914l-2 -6M581 953l-11 -10M711 1025l-3 -8M647 1035l-5 -5M661 900l-2 -6M640 869l-2 -6M853 909l5 -9M651 875l-6 -15M828 946l4 -12M542 1079l-14 -2M512 1061l-16 -3M661 1064l-14 -10M522 1101l-12 1M637 1087l-15 -3M703 959l-1 -13M842 937l5 -9M833 861l6 -16M841 895l5 -10M852 977l9 -10M981 1077l7 -1M585 891l-5 -7M586 1019l-16 -8M523 1044l-16 -7M673 1060l-15 -10M643 1071l-11 -5M898 1102l13 -0M785 896l1 -7M557 961l-12 -11M847 1063l9 -4M798 903l3 -9M930 1018l6 -3M826 1096l13 -1M824 1109l9 1M637 1032l-10 -6M844 928l5 -12M737 951l-0 -8M892 894l9 -10M683 1071l-10 -9M550 953l-11 -8M837 928l8 -15M967 1007l8 -3M565 976l-6 -4M586 994l-14 -10M780 909l2 -18M689 880l-3 -10M887 1054l10 -3M668 844l-2 -11M630 982l-9 -10M927 1033l15 -5M965 1066l7 -1M601 968l-7 -5M637 1052l-7 -4M875 999l5 -4M883 1023l9 -5M900 1020l11 -6M777 857l2 -17M847 944l7 -8M578 1011l-9 -5M914 1077l10 -1M771 890l2 -7M614 1007l-5 -3M865 972l9 -8M864 1000l9 -10M614 927l-4 -5M582 914l-9 -11M630 928l-3 -6M707 949l-3 -9M508 1001l-11 -4M911 1094l15 -2M630 913l-7 -13M858 1031l8 -6M571 1084l-14 -2M541 999l-10 -6M724 945l0 -12M655 880l-2 -6M556 1092l-11 -2M718 1005l-1 -15M576 1092l-18 -1M767 961l2 -8M871 884l7 -12M885 1058l11 -4M755 937l1 -9M905 1075l12 -3M539 1102l-8 -0M586 1024l-15 -8M634 873l-8 -15M834 921l9 -15M825 1008l4 -6M649 923l-3 -10M619 1063l-6 -3M933 1023l15 -6M464 1087l-8 -1M926 984l5 -4M505 1044l-6 -2M528 1080l-13 -1M801 1006l10 -14M523 1031l-14 -4M714 936l-1 -7M977 1008l15 -4M896 969l12 -12M854 931l9 -13M998 1005l9 -3M624 997l-5 -5M741 1038l0 -7M578 903l-4 -6M839 915l3 -5M610 1099l-12 -2M919 1063l6 -3M819 1074l16 -7M661 1082l-13 -3M501 1019l-11 -4M530 963l-14 -10M692 901l-3 -14M675 1076l-12 -6M695 1052l-5 -6M857 891l3 -7M773 835l2 -15M765 943l3 -15M953 1100l10 0M628 1015l-5 -4M828 998l9 -10M998 1040l17 -5M663 858l-4 -14M847 875l4 -7M654 1066l-11 -5M658 1076l-13 -6M720 938l-2 -15M680 1004l-2 -6M744 837l1 -14M630 1015l-11 -10M578 1024l-8 -5M719 933l-1 -18M585 954l-11 -11M927 1061l10 -3M510 956l-9 -4M935 1055l16 -7M693 1042l-8 -15M658 923l-8 -16M864 931l8 -11M899 1095l8 -1M530 1040l-16 -7M627 956l-6 -9M626 1000l-12 -11M821 867l2 -14M894 1082l8 -2M789 963l3 -11M884 935l4 -6M629 948l-9 -12M573 1021l-15 -9M669 1007l-5 -10M816 1024l8 -13M576 984l-10 -7M758 1076l9 -14M620 916l-7 -12M741 989l-1 -11M488 1004l-7 -3M651 1002l-7 -7M863 1107l12 -1M560 1088l-13 -1M849 1097l14 -1M723 986l-2 -9M852 952l6 -9M812 987l8 -12M874 1014l7 -4M965 1065l17 -0M553 1068l-7 -2M529 1088l-10 -2M625 1041l-12 -8M683 906l-4 -10M919 965l10 -10M527 1074l-12 -2M819 931l4 -12M741 1055l-0 -12M599 1040l-13 -5M623 893l-3 -9M939 982l7 -4M554 1092l-10 -1M950 1010l15 -7M774 1105l9 -2M671 870l-4 -13M766 889l2 -15M686 1031l-8 -14M891 1049l9 -4M849 1021l10 -7M507 1038l-7 -2M599 1014l-8 -6M530 987l-14 -7M488 1024l-6 -3M640 861l-7 -16M770 936l2 -7M749 1018l1 -11M853 855l5 -11M622 888l-5 -7M833 1015l9 -5M827 1017l6 -7M762 1008l5 -17M475 1055l-14 -3M853 1078l6 -2M889 896l4 -5M759 985l2 -14M828 956l9 -11M830 1084l14 -5M925 909l4 -5M521 1084l-9 -1M864 991l5 -5M992 1103l7 -1M853 949l3 -6M589 937l-10 -11M887 909l4 -6M672 978l-3 -6M882 1053l10 -3M751 879l-2 -13M916 1075l7 -1M724 1069l-3 -11M699 944l-3 -16M865 1009l7 -4M675 913l-3 -8M586 1039l-13 -5M796 990l3 -8M963 957l8 -5M846 1007l9 -7M881 890l5 -10M940 930l8 -7M868 1101l6 -1M793 840l2 -9M713 1002l-4 -15M763 1019l1 -6M928 1075l16 -3M615 860l-6 -11M821 934l3 -10M824 911l2 -6M835 877l5 -15M716 1006l-1 -9M643 1044l-8 -6M927 983l10 -7M962 1109l7 -0M866 880l8 -14M831 978l9 -10M725 874l-1 -12M789 907l4 -14M648 1095l-16 -2M735 950l0 -13M814 909l5 -17M850 924l7 -14M994 1077l15 -2M710 1022l-4 -11M814 1062l14 -10M785 935l2 -9M835 1040l5 -3M499 1090l-17 -3M871 919l8 -10M1000 1079l17 -3M907 1042l14 -8M537 976l-11 -8M829 1015l11 -8M679 952l-5 -17M651 939l-7 -15M712 1021l-5 -14M649 972l-8 -13M663 1024l-12 -12M844 906l4 -9M664 890l-7 -13M930 1076l14 -2M565 1049l-6 -3" stroke="#6a6a70" stroke-width="0.6" stroke-opacity="0.25" fill="none"/>
</g>
</g>
<g clip-path="url(#cp3)">
<rect x="51" y="982" width="463" height="199" fill="url(#fab2)"/>
<ellipse cx="269.6" cy="1263.9" rx="276.7" ry="276.7" fill="#46464a" stroke="#68686c" stroke-width="1.6"/>
<clipPath id="cip3"><ellipse cx="269.6" cy="1263.9" rx="274.4" ry="274.4"/></clipPath>
<g clip-path="url(#cip3)">
<rect x="51" y="982" width="463" height="199" filter="url(#n3)"/>
<rect x="51" y="982" width="463" height="199" filter="url(#q3)" mask="url(#mk3)"/>
<rect x="51" y="982" width="463" height="199" fill="url(#vgrad)"/>
<ellipse cx="269.6" cy="1263.9" rx="264.4" ry="264.4" fill="none" stroke="#d6d6d4" stroke-width="20" opacity="0.45" filter="url(#blur6)"/>
<ellipse cx="269.6" cy="1263.9" rx="274.4" ry="274.4" fill="none" stroke="#88888c" stroke-width="5" opacity="0.7" filter="url(#blur1)"/>
<path d="M208 1181 C 214 1162 238 1152 262 1153 C 292 1152 325 1160 345 1181Z" fill="#d2c8b4" opacity="0.55" filter="url(#blur3)"/>
<clipPath id="blobc"><path d="M218 1181 C 220 1172 226 1164 236 1161 C 245 1158 252 1160 259 1157.5 C 266 1156 272 1160 282 1162 C 295 1164 305 1166 316 1170 C 326 1174 331 1178 334 1181Z"/></clipPath>
<g clip-path="url(#blobc)"><rect x="210" y="1150" width="130" height="31" fill="#c4a878"/><rect x="210" y="1150" width="130" height="31" filter="url(#qblob)"/></g>
<path d="M226 1167 C 236 1163 248 1163 257 1159 C 264 1158 270 1165 282 1168 C 296 1171 308 1172 322 1179" fill="none" stroke="#9a9488" stroke-width="1.3" opacity="0.8"/>
<ellipse cx="500" cy="1118" rx="9" ry="28" fill="#b8a07a" opacity="0.5" filter="url(#blur3)"/>
<circle cx="296.9" cy="994.9" r="1.1" fill="#55555a" opacity="0.3"/>
<circle cx="109.4" cy="1043.6" r="0.9" fill="#55555a" opacity="0.3"/>
<circle cx="179.6" cy="1009.4" r="1.2" fill="#55555a" opacity="0.3"/>
<circle cx="370.1" cy="1012.5" r="1.1" fill="#55555a" opacity="0.3"/>
<circle cx="111.4" cy="1043.7" r="0.7" fill="#55555a" opacity="0.3"/>
<circle cx="505.7" cy="1128.4" r="1.3" fill="#55555a" opacity="0.3"/>
<circle cx="79.8" cy="1071.4" r="0.9" fill="#55555a" opacity="0.3"/>
<circle cx="255.4" cy="994.4" r="0.6" fill="#55555a" opacity="0.3"/>
<circle cx="74.5" cy="1077.7" r="1.0" fill="#55555a" opacity="0.3"/>
<circle cx="87.4" cy="1065.4" r="1.4" fill="#55555a" opacity="0.3"/>
<circle cx="96.0" cy="1055.7" r="0.7" fill="#55555a" opacity="0.3"/>
<circle cx="201.3" cy="1002.1" r="0.7" fill="#55555a" opacity="0.3"/>
<circle cx="421.1" cy="1037.7" r="0.7" fill="#55555a" opacity="0.3"/>
<circle cx="473.6" cy="1085.2" r="0.9" fill="#55555a" opacity="0.3"/>
<circle cx="367.1" cy="1011.1" r="0.9" fill="#55555a" opacity="0.3"/>
<circle cx="62.1" cy="1090.8" r="1.4" fill="#55555a" opacity="0.3"/>
<circle cx="522.1" cy="1167.1" r="0.9" fill="#55555a" opacity="0.3"/>
<circle cx="230.8" cy="996.4" r="1.1" fill="#55555a" opacity="0.3"/>
<circle cx="96.2" cy="1054.7" r="0.9" fill="#55555a" opacity="0.3"/>
<circle cx="318.5" cy="998.4" r="1.0" fill="#55555a" opacity="0.3"/>
<circle cx="61.5" cy="1092.0" r="0.9" fill="#55555a" opacity="0.3"/>
<circle cx="323.3" cy="997.5" r="0.9" fill="#55555a" opacity="0.3"/>
<circle cx="245.7" cy="994.9" r="0.7" fill="#55555a" opacity="0.3"/>
<circle cx="341.3" cy="1001.7" r="1.2" fill="#55555a" opacity="0.3"/>
<circle cx="63.5" cy="1087.0" r="0.9" fill="#55555a" opacity="0.3"/>
<circle cx="390.0" cy="1019.7" r="1.0" fill="#55555a" opacity="0.3"/>
<circle cx="143.4" cy="1023.4" r="1.0" fill="#55555a" opacity="0.3"/>
<circle cx="518.7" cy="1157.2" r="1.4" fill="#55555a" opacity="0.3"/>
<circle cx="123.2" cy="1037.5" r="0.9" fill="#55555a" opacity="0.3"/>
<circle cx="133.9" cy="1030.3" r="1.3" fill="#55555a" opacity="0.3"/>
<circle cx="52.2" cy="1101.1" r="1.2" fill="#55555a" opacity="0.3"/>
<circle cx="218.1" cy="997.2" r="0.6" fill="#55555a" opacity="0.3"/>
<circle cx="65.6" cy="1086.3" r="1.4" fill="#55555a" opacity="0.3"/>
<circle cx="527.0" cy="1179.3" r="0.6" fill="#55555a" opacity="0.3"/>
<circle cx="207.2" cy="1001.2" r="1.3" fill="#55555a" opacity="0.3"/>
<circle cx="391.1" cy="1020.9" r="1.0" fill="#55555a" opacity="0.3"/>
<circle cx="298.6" cy="994.9" r="0.8" fill="#55555a" opacity="0.3"/>
<circle cx="514.6" cy="1151.1" r="0.7" fill="#55555a" opacity="0.3"/>
<circle cx="189.4" cy="1006.3" r="0.8" fill="#55555a" opacity="0.3"/>
<circle cx="514.9" cy="1149.1" r="1.2" fill="#55555a" opacity="0.3"/>
<circle cx="424.7" cy="1040.7" r="0.8" fill="#55555a" opacity="0.3"/>
<circle cx="168.9" cy="1013.0" r="1.2" fill="#55555a" opacity="0.3"/>
<circle cx="105.8" cy="1049.6" r="0.9" fill="#55555a" opacity="0.3"/>
<circle cx="161.0" cy="1015.5" r="1.4" fill="#55555a" opacity="0.3"/>
<circle cx="346.7" cy="1004.6" r="1.3" fill="#55555a" opacity="0.3"/>
<circle cx="518.6" cy="1159.3" r="0.9" fill="#55555a" opacity="0.3"/>
<circle cx="362.5" cy="1010.7" r="1.2" fill="#55555a" opacity="0.3"/>
<circle cx="358.4" cy="1007.5" r="0.9" fill="#55555a" opacity="0.3"/>
<circle cx="438.9" cy="1052.7" r="0.6" fill="#55555a" opacity="0.3"/>
<circle cx="426.1" cy="1044.3" r="1.2" fill="#55555a" opacity="0.3"/>
<circle cx="500.9" cy="1125.3" r="1.0" fill="#55555a" opacity="0.3"/>
<circle cx="462.8" cy="1073.5" r="0.7" fill="#55555a" opacity="0.3"/>
<circle cx="224.8" cy="996.2" r="1.3" fill="#55555a" opacity="0.3"/>
<circle cx="416.4" cy="1036.4" r="1.1" fill="#55555a" opacity="0.3"/>
<circle cx="101.8" cy="1051.3" r="1.2" fill="#55555a" opacity="0.3"/>
<circle cx="249.1" cy="993.0" r="0.9" fill="#55555a" opacity="0.3"/>
<circle cx="207.7" cy="1000.7" r="0.7" fill="#55555a" opacity="0.3"/>
<circle cx="85.9" cy="1064.1" r="1.2" fill="#55555a" opacity="0.3"/>
<circle cx="449.5" cy="1062.0" r="1.3" fill="#55555a" opacity="0.3"/>
<circle cx="232.0" cy="994.2" r="1.0" fill="#55555a" opacity="0.3"/>
</g>
<ellipse cx="269.6" cy="1263.9" rx="274.4" ry="274.4" fill="none" stroke="#7e7e82" stroke-width="1.2"/>
</g>
<g clip-path="url(#cp4)">
<rect x="522" y="982" width="437" height="199" fill="url(#fab2)"/>
<ellipse cx="736.7" cy="1197.4" rx="249.1" ry="216.6" fill="#46464a" stroke="#68686c" stroke-width="1.6"/>
<clipPath id="cip4"><ellipse cx="736.7" cy="1197.4" rx="246.6" ry="214.1"/></clipPath>
<g clip-path="url(#cip4)">
<rect x="522" y="982" width="437" height="199" filter="url(#n4)"/>
<rect x="522" y="982" width="437" height="199" filter="url(#q4)" mask="url(#mk4)"/>
<rect x="522" y="982" width="437" height="199" fill="url(#vgrad)"/>
<ellipse cx="736.7" cy="1197.4" rx="236.6" ry="204.1" fill="none" stroke="#d6d6d4" stroke-width="20" opacity="0.45" filter="url(#blur6)"/>
<ellipse cx="736.7" cy="1197.4" rx="246.6" ry="214.1" fill="none" stroke="#88888c" stroke-width="5" opacity="0.7" filter="url(#blur1)"/>
<circle cx="823.4" cy="1004.6" r="1.2" fill="#505054" opacity="0.35"/>
<circle cx="969.4" cy="1148.9" r="1.3" fill="#505054" opacity="0.35"/>
<circle cx="499.2" cy="1166.3" r="1.4" fill="#505054" opacity="0.35"/>
<circle cx="840.5" cy="1011.5" r="0.7" fill="#505054" opacity="0.35"/>
<circle cx="714.3" cy="989.9" r="1.0" fill="#505054" opacity="0.35"/>
<circle cx="790.1" cy="993.5" r="0.8" fill="#505054" opacity="0.35"/>
<circle cx="589.3" cy="1035.0" r="1.2" fill="#505054" opacity="0.35"/>
<circle cx="532.0" cy="1090.4" r="0.7" fill="#505054" opacity="0.35"/>
<circle cx="820.4" cy="1001.6" r="0.6" fill="#505054" opacity="0.35"/>
<circle cx="953.6" cy="1106.6" r="0.8" fill="#505054" opacity="0.35"/>
<circle cx="974.1" cy="1173.5" r="0.8" fill="#505054" opacity="0.35"/>
<circle cx="972.8" cy="1160.5" r="1.1" fill="#505054" opacity="0.35"/>
<circle cx="551.1" cy="1067.6" r="1.2" fill="#505054" opacity="0.35"/>
<circle cx="972.4" cy="1163.8" r="0.8" fill="#505054" opacity="0.35"/>
<circle cx="638.7" cy="1006.8" r="0.7" fill="#505054" opacity="0.35"/>
<circle cx="504.0" cy="1144.0" r="1.1" fill="#505054" opacity="0.35"/>
<circle cx="497.8" cy="1182.3" r="0.9" fill="#505054" opacity="0.35"/>
<circle cx="607.0" cy="1023.8" r="1.0" fill="#505054" opacity="0.35"/>
<circle cx="610.0" cy="1021.0" r="1.2" fill="#505054" opacity="0.35"/>
<circle cx="504.6" cy="1149.4" r="0.6" fill="#505054" opacity="0.35"/>
<circle cx="900.2" cy="1046.7" r="0.6" fill="#505054" opacity="0.35"/>
<circle cx="920.2" cy="1062.9" r="1.1" fill="#505054" opacity="0.35"/>
<circle cx="496.2" cy="1178.6" r="0.7" fill="#505054" opacity="0.35"/>
<circle cx="973.0" cy="1156.4" r="1.2" fill="#505054" opacity="0.35"/>
<circle cx="966.5" cy="1141.4" r="0.9" fill="#505054" opacity="0.35"/>
<circle cx="634.9" cy="1009.5" r="1.2" fill="#505054" opacity="0.35"/>
<circle cx="515.2" cy="1119.0" r="1.2" fill="#505054" opacity="0.35"/>
<circle cx="950.2" cy="1099.8" r="1.4" fill="#505054" opacity="0.35"/>
<circle cx="509.7" cy="1128.4" r="1.1" fill="#505054" opacity="0.35"/>
<circle cx="965.8" cy="1133.9" r="1.3" fill="#505054" opacity="0.35"/>
<circle cx="769.4" cy="991.2" r="0.9" fill="#505054" opacity="0.35"/>
<circle cx="537.2" cy="1079.8" r="0.7" fill="#505054" opacity="0.35"/>
<circle cx="865.6" cy="1023.9" r="0.7" fill="#505054" opacity="0.35"/>
<circle cx="503.3" cy="1154.6" r="1.0" fill="#505054" opacity="0.35"/>
<circle cx="669.2" cy="997.3" r="1.1" fill="#505054" opacity="0.35"/>
<circle cx="936.8" cy="1082.4" r="0.9" fill="#505054" opacity="0.35"/>
<circle cx="504.2" cy="1150.2" r="0.6" fill="#505054" opacity="0.35"/>
<circle cx="732.1" cy="990.9" r="0.7" fill="#505054" opacity="0.35"/>
<circle cx="890.3" cy="1039.5" r="1.1" fill="#505054" opacity="0.35"/>
<circle cx="920.9" cy="1062.6" r="0.9" fill="#505054" opacity="0.35"/>
<circle cx="528.4" cy="1096.0" r="0.8" fill="#505054" opacity="0.35"/>
<circle cx="703.1" cy="993.4" r="1.3" fill="#505054" opacity="0.35"/>
<circle cx="974.7" cy="1169.4" r="1.0" fill="#505054" opacity="0.35"/>
<circle cx="890.0" cy="1037.5" r="0.8" fill="#505054" opacity="0.35"/>
<circle cx="667.7" cy="997.5" r="0.9" fill="#505054" opacity="0.35"/>
<circle cx="974.3" cy="1177.3" r="1.1" fill="#505054" opacity="0.35"/>
<circle cx="736.2" cy="989.3" r="0.7" fill="#505054" opacity="0.35"/>
<circle cx="585.0" cy="1037.5" r="1.3" fill="#505054" opacity="0.35"/>
<circle cx="639.5" cy="1008.5" r="1.2" fill="#505054" opacity="0.35"/>
<circle cx="869.4" cy="1024.9" r="1.2" fill="#505054" opacity="0.35"/>
<circle cx="640.8" cy="1007.7" r="0.8" fill="#505054" opacity="0.35"/>
<circle cx="726.4" cy="990.8" r="1.2" fill="#505054" opacity="0.35"/>
<circle cx="597.6" cy="1029.7" r="1.1" fill="#505054" opacity="0.35"/>
<circle cx="794.9" cy="994.5" r="1.0" fill="#505054" opacity="0.35"/>
<circle cx="573.1" cy="1046.1" r="1.0" fill="#505054" opacity="0.35"/>
<circle cx="932.3" cy="1077.8" r="1.2" fill="#505054" opacity="0.35"/>
<circle cx="630.6" cy="1011.7" r="1.2" fill="#505054" opacity="0.35"/>
<circle cx="937.8" cy="1083.2" r="1.3" fill="#505054" opacity="0.35"/>
<circle cx="951.8" cy="1106.4" r="1.4" fill="#505054" opacity="0.35"/>
<circle cx="972.2" cy="1157.4" r="1.0" fill="#505054" opacity="0.35"/>
<circle cx="534.6" cy="1087.0" r="1.3" fill="#505054" opacity="0.35"/>
<circle cx="720.3" cy="990.9" r="1.2" fill="#505054" opacity="0.35"/>
<circle cx="891.0" cy="1037.2" r="1.2" fill="#505054" opacity="0.35"/>
<circle cx="794.5" cy="996.4" r="0.9" fill="#505054" opacity="0.35"/>
<circle cx="823.9" cy="1004.9" r="1.1" fill="#505054" opacity="0.35"/>
<circle cx="885.7" cy="1032.9" r="0.7" fill="#505054" opacity="0.35"/>
<circle cx="694.3" cy="993.5" r="0.8" fill="#505054" opacity="0.35"/>
<circle cx="864.2" cy="1021.9" r="0.6" fill="#505054" opacity="0.35"/>
<circle cx="716.1" cy="989.7" r="0.6" fill="#505054" opacity="0.35"/>
<circle cx="521.7" cy="1104.0" r="0.7" fill="#505054" opacity="0.35"/>
<circle cx="543.9" cy="1071.6" r="1.0" fill="#505054" opacity="0.35"/>
<circle cx="652.0" cy="1003.5" r="1.1" fill="#505054" opacity="0.35"/>
<circle cx="566.9" cy="1052.2" r="0.6" fill="#505054" opacity="0.35"/>
<circle cx="668.9" cy="997.6" r="0.9" fill="#505054" opacity="0.35"/>
<circle cx="517.4" cy="1115.1" r="0.9" fill="#505054" opacity="0.35"/>
<circle cx="500.5" cy="1162.0" r="0.7" fill="#505054" opacity="0.35"/>
<circle cx="769.4" cy="991.3" r="1.1" fill="#505054" opacity="0.35"/>
<circle cx="971.6" cy="1158.7" r="0.9" fill="#505054" opacity="0.35"/>
<circle cx="930.8" cy="1075.9" r="0.9" fill="#505054" opacity="0.35"/>
<circle cx="525.3" cy="1099.6" r="1.1" fill="#505054" opacity="0.35"/>
<g fill="#e4e4e4" opacity="0.16" filter="url(#blur6)"><circle cx="907.2" cy="1073.5" r="8.9"/><circle cx="585.5" cy="1044.1" r="10.0"/><circle cx="717.0" cy="1006.2" r="8.2"/><circle cx="901.6" cy="1059.3" r="10.8"/><circle cx="880.2" cy="1044.7" r="9.2"/><circle cx="855.1" cy="1026.7" r="9.3"/><circle cx="917.3" cy="1074.5" r="10.8"/><circle cx="853.2" cy="1034.4" r="8.0"/><circle cx="527.8" cy="1128.3" r="10.8"/><circle cx="699.3" cy="1000.0" r="7.2"/><circle cx="826.0" cy="1015.3" r="11.7"/><circle cx="796.5" cy="1005.5" r="9.9"/><circle cx="647.6" cy="1023.4" r="11.5"/><circle cx="746.5" cy="1004.2" r="10.2"/><circle cx="910.8" cy="1080.0" r="6.2"/><circle cx="646.6" cy="1019.5" r="7.8"/><circle cx="797.2" cy="1004.3" r="11.3"/><circle cx="754.0" cy="998.3" r="10.0"/><circle cx="615.0" cy="1028.4" r="8.9"/><circle cx="534.1" cy="1101.8" r="11.2"/><circle cx="865.7" cy="1029.9" r="10.7"/><circle cx="509.5" cy="1169.0" r="11.4"/><circle cx="816.7" cy="1012.3" r="8.3"/><circle cx="662.1" cy="1008.4" r="12.0"/><circle cx="515.5" cy="1148.3" r="10.5"/><circle cx="670.7" cy="1016.6" r="7.5"/><circle cx="956.9" cy="1167.9" r="10.0"/><circle cx="945.0" cy="1117.5" r="11.0"/><circle cx="911.2" cy="1072.4" r="8.8"/><circle cx="867.2" cy="1036.3" r="6.5"/><circle cx="890.0" cy="1049.7" r="8.9"/><circle cx="908.9" cy="1064.4" r="6.1"/><circle cx="533.6" cy="1111.4" r="8.2"/><circle cx="586.3" cy="1050.2" r="11.6"/><circle cx="585.2" cy="1050.5" r="11.3"/><circle cx="811.6" cy="1010.3" r="8.8"/><circle cx="722.0" cy="998.4" r="8.3"/><circle cx="615.1" cy="1036.6" r="7.9"/><circle cx="837.3" cy="1028.5" r="11.5"/><circle cx="655.7" cy="1016.4" r="7.9"/><circle cx="669.3" cy="1010.9" r="10.8"/><circle cx="957.8" cy="1142.5" r="6.0"/><circle cx="702.0" cy="999.2" r="6.2"/><circle cx="904.6" cy="1059.4" r="10.3"/><circle cx="648.6" cy="1023.1" r="11.1"/><circle cx="514.3" cy="1142.8" r="11.7"/><circle cx="811.8" cy="1012.3" r="10.7"/><circle cx="918.7" cy="1080.1" r="8.8"/><circle cx="524.7" cy="1122.6" r="6.9"/><circle cx="818.7" cy="1016.8" r="6.9"/><circle cx="822.5" cy="1011.6" r="6.6"/><circle cx="831.7" cy="1019.6" r="11.4"/><circle cx="820.5" cy="1018.6" r="6.8"/><circle cx="930.2" cy="1086.3" r="9.7"/><circle cx="945.5" cy="1131.1" r="11.4"/><circle cx="704.9" cy="1006.6" r="10.7"/><circle cx="541.5" cy="1106.6" r="11.5"/><circle cx="697.8" cy="1008.6" r="8.7"/><circle cx="598.7" cy="1045.3" r="6.4"/><circle cx="908.6" cy="1077.7" r="7.7"/><circle cx="960.7" cy="1143.6" r="11.1"/><circle cx="602.3" cy="1046.6" r="8.6"/><circle cx="957.8" cy="1133.5" r="6.5"/><circle cx="918.4" cy="1082.4" r="9.2"/><circle cx="509.4" cy="1159.6" r="8.2"/><circle cx="521.8" cy="1151.0" r="10.6"/><circle cx="955.3" cy="1151.1" r="8.1"/><circle cx="523.5" cy="1136.3" r="6.7"/><circle cx="768.3" cy="1003.8" r="9.0"/><circle cx="515.5" cy="1135.1" r="9.1"/><circle cx="513.3" cy="1161.7" r="6.9"/><circle cx="597.4" cy="1038.1" r="9.4"/><circle cx="661.9" cy="1009.7" r="7.3"/><circle cx="778.6" cy="1010.6" r="8.5"/><circle cx="544.0" cy="1089.9" r="7.4"/><circle cx="784.2" cy="1010.1" r="9.4"/><circle cx="553.8" cy="1078.1" r="8.3"/><circle cx="697.0" cy="1004.0" r="12.0"/><circle cx="770.6" cy="1006.4" r="10.3"/><circle cx="829.8" cy="1023.3" r="8.2"/><circle cx="841.5" cy="1030.4" r="7.0"/><circle cx="819.6" cy="1014.2" r="6.4"/><circle cx="517.2" cy="1157.0" r="6.7"/><circle cx="872.3" cy="1035.1" r="8.2"/><circle cx="513.7" cy="1160.8" r="10.7"/><circle cx="572.4" cy="1063.5" r="11.5"/><circle cx="606.1" cy="1037.2" r="10.3"/><circle cx="940.5" cy="1102.8" r="10.0"/><circle cx="527.4" cy="1110.7" r="11.9"/><circle cx="520.6" cy="1151.9" r="10.5"/><circle cx="848.3" cy="1030.4" r="9.9"/><circle cx="602.4" cy="1039.1" r="7.2"/><circle cx="932.4" cy="1103.8" r="10.7"/><circle cx="567.3" cy="1068.6" r="7.5"/><circle cx="906.7" cy="1071.7" r="12.0"/><circle cx="866.7" cy="1039.8" r="10.7"/><circle cx="525.6" cy="1127.1" r="6.2"/><circle cx="647.9" cy="1012.9" r="11.7"/><circle cx="517.6" cy="1163.9" r="11.7"/><circle cx="694.4" cy="1009.7" r="6.3"/><circle cx="532.5" cy="1100.0" r="6.4"/><circle cx="514.2" cy="1178.0" r="6.5"/><circle cx="797.7" cy="1006.6" r="6.8"/><circle cx="682.0" cy="1004.1" r="11.9"/><circle cx="660.6" cy="1014.7" r="9.4"/><circle cx="820.1" cy="1015.6" r="7.6"/><circle cx="540.9" cy="1106.4" r="7.2"/><circle cx="702.7" cy="1008.2" r="9.5"/><circle cx="953.8" cy="1150.5" r="9.1"/><circle cx="532.6" cy="1113.3" r="8.8"/><circle cx="935.8" cy="1103.6" r="10.2"/><circle cx="918.1" cy="1079.0" r="11.1"/><circle cx="950.9" cy="1121.4" r="11.5"/><circle cx="934.9" cy="1109.5" r="8.0"/><circle cx="581.5" cy="1049.1" r="8.2"/><circle cx="935.4" cy="1099.2" r="6.0"/><circle cx="610.0" cy="1029.6" r="9.7"/><circle cx="895.1" cy="1064.0" r="6.5"/><circle cx="656.4" cy="1010.1" r="11.5"/><circle cx="927.4" cy="1091.3" r="11.7"/><circle cx="750.1" cy="1006.0" r="8.9"/><circle cx="650.2" cy="1023.2" r="11.1"/><circle cx="796.4" cy="1013.7" r="9.9"/><circle cx="916.0" cy="1069.7" r="6.8"/><circle cx="529.8" cy="1118.8" r="10.3"/><circle cx="543.0" cy="1095.1" r="6.7"/><circle cx="854.7" cy="1034.3" r="6.5"/><circle cx="959.7" cy="1167.9" r="6.7"/><circle cx="638.0" cy="1017.2" r="10.4"/><circle cx="954.9" cy="1131.0" r="7.1"/><circle cx="819.6" cy="1020.3" r="10.4"/><circle cx="707.8" cy="999.2" r="9.7"/><circle cx="707.4" cy="1007.6" r="9.4"/><circle cx="878.1" cy="1051.4" r="9.8"/><circle cx="952.6" cy="1128.6" r="6.0"/><circle cx="947.6" cy="1111.6" r="12.0"/><circle cx="706.4" cy="998.7" r="7.6"/><circle cx="875.9" cy="1041.4" r="9.7"/><circle cx="530.4" cy="1123.8" r="8.2"/><circle cx="929.6" cy="1086.8" r="10.0"/></g>
</g>
<ellipse cx="736.7" cy="1197.4" rx="246.6" ry="214.1" fill="none" stroke="#7e7e82" stroke-width="1.2"/>
</g>
<g clip-path="url(#cp5)">
<rect x="51" y="1181" width="463" height="199" fill="url(#fab2)"/>
<ellipse cx="275" cy="1457.3" rx="272.5" ry="272.5" fill="#46464a" stroke="#68686c" stroke-width="1.6"/>
<clipPath id="cip5"><ellipse cx="275" cy="1457.3" rx="270.2" ry="270.2"/></clipPath>
<g clip-path="url(#cip5)">
<rect x="51" y="1181" width="463" height="199" filter="url(#n5)"/>
<rect x="51" y="1181" width="463" height="199" filter="url(#q5)" mask="url(#mk5)"/>
<rect x="51" y="1181" width="463" height="199" fill="url(#vgrad)"/>
<ellipse cx="275" cy="1457.3" rx="260.2" ry="260.2" fill="none" stroke="#d6d6d4" stroke-width="20" opacity="0.45" filter="url(#blur6)"/>
<ellipse cx="275" cy="1457.3" rx="270.2" ry="270.2" fill="none" stroke="#88888c" stroke-width="5" opacity="0.7" filter="url(#blur1)"/>
<g fill="#e6e6e6" opacity="0.2" filter="url(#blur6)"><circle cx="214.1" cy="1206.9" r="7.1"/><circle cx="433.4" cy="1248.5" r="10.0"/><circle cx="447.0" cy="1260.7" r="10.4"/><circle cx="301.0" cy="1196.9" r="9.0"/><circle cx="348.5" cy="1211.3" r="11.8"/><circle cx="70.1" cy="1298.3" r="6.9"/><circle cx="239.1" cy="1208.8" r="10.7"/><circle cx="386.1" cy="1224.9" r="12.0"/><circle cx="52.8" cy="1324.8" r="11.4"/><circle cx="360.6" cy="1214.8" r="6.7"/><circle cx="113.7" cy="1253.8" r="8.2"/><circle cx="404.9" cy="1232.3" r="13.1"/><circle cx="438.9" cy="1253.5" r="9.0"/><circle cx="229.3" cy="1199.4" r="9.4"/><circle cx="450.2" cy="1264.1" r="10.8"/><circle cx="61.6" cy="1317.3" r="13.2"/><circle cx="85.1" cy="1276.6" r="6.7"/><circle cx="256.8" cy="1195.9" r="6.7"/><circle cx="233.9" cy="1209.5" r="9.4"/><circle cx="180.3" cy="1221.0" r="6.7"/><circle cx="279.8" cy="1197.2" r="10.9"/><circle cx="471.6" cy="1284.8" r="10.4"/><circle cx="295.0" cy="1197.7" r="8.1"/><circle cx="475.8" cy="1308.0" r="7.0"/><circle cx="347.9" cy="1217.3" r="7.9"/><circle cx="297.8" cy="1196.6" r="8.9"/><circle cx="332.1" cy="1208.7" r="12.2"/><circle cx="49.2" cy="1332.5" r="12.9"/><circle cx="282.2" cy="1200.6" r="9.2"/><circle cx="476.9" cy="1301.0" r="6.1"/><circle cx="399.1" cy="1230.8" r="9.5"/><circle cx="93.0" cy="1276.0" r="8.6"/><circle cx="52.7" cy="1333.1" r="6.8"/><circle cx="393.1" cy="1223.5" r="12.2"/><circle cx="402.2" cy="1234.8" r="11.7"/><circle cx="109.7" cy="1265.3" r="9.4"/><circle cx="104.4" cy="1273.7" r="9.2"/><circle cx="168.5" cy="1229.0" r="9.0"/><circle cx="329.6" cy="1202.9" r="12.7"/><circle cx="109.0" cy="1255.1" r="13.8"/><circle cx="82.2" cy="1296.8" r="13.9"/><circle cx="295.2" cy="1196.0" r="6.5"/><circle cx="90.6" cy="1277.5" r="10.9"/><circle cx="471.9" cy="1290.7" r="7.1"/><circle cx="269.6" cy="1196.8" r="6.7"/><circle cx="266.4" cy="1203.6" r="6.5"/><circle cx="208.8" cy="1212.3" r="12.1"/><circle cx="173.7" cy="1227.0" r="7.4"/><circle cx="353.8" cy="1216.9" r="13.0"/><circle cx="231.0" cy="1200.0" r="6.4"/><circle cx="250.7" cy="1198.3" r="11.0"/><circle cx="53.1" cy="1336.2" r="7.8"/><circle cx="30.0" cy="1369.9" r="9.7"/><circle cx="268.1" cy="1199.9" r="7.4"/><circle cx="226.0" cy="1211.3" r="10.3"/><circle cx="465.3" cy="1277.4" r="13.9"/><circle cx="439.4" cy="1261.5" r="10.2"/><circle cx="256.1" cy="1206.7" r="6.5"/><circle cx="315.0" cy="1204.7" r="8.4"/><circle cx="359.0" cy="1218.1" r="6.8"/><circle cx="346.4" cy="1210.7" r="9.9"/><circle cx="312.5" cy="1198.4" r="10.8"/><circle cx="168.7" cy="1229.2" r="7.8"/><circle cx="408.2" cy="1241.7" r="11.0"/><circle cx="437.4" cy="1252.0" r="10.8"/><circle cx="298.3" cy="1204.3" r="9.3"/><circle cx="42.8" cy="1340.6" r="10.9"/><circle cx="77.2" cy="1286.3" r="8.8"/><circle cx="218.6" cy="1207.8" r="6.2"/><circle cx="387.1" cy="1224.7" r="12.3"/><circle cx="38.0" cy="1375.3" r="10.7"/><circle cx="469.6" cy="1299.8" r="12.7"/><circle cx="54.7" cy="1322.9" r="7.9"/><circle cx="390.1" cy="1224.3" r="7.8"/><circle cx="53.7" cy="1319.4" r="13.5"/><circle cx="475.3" cy="1295.1" r="11.9"/><circle cx="217.0" cy="1208.0" r="9.0"/><circle cx="311.0" cy="1200.4" r="8.1"/><circle cx="244.4" cy="1199.3" r="9.5"/><circle cx="466.4" cy="1278.4" r="6.8"/><circle cx="401.0" cy="1228.1" r="8.0"/><circle cx="422.3" cy="1249.3" r="7.8"/><circle cx="41.1" cy="1346.3" r="8.4"/><circle cx="395.8" cy="1237.9" r="12.3"/><circle cx="441.7" cy="1269.6" r="13.0"/><circle cx="448.8" cy="1276.8" r="6.8"/><circle cx="137.7" cy="1237.4" r="10.8"/><circle cx="230.0" cy="1203.2" r="12.7"/><circle cx="178.9" cy="1216.0" r="8.2"/><circle cx="214.1" cy="1209.8" r="10.5"/><circle cx="200.9" cy="1208.1" r="9.2"/><circle cx="140.8" cy="1234.4" r="10.4"/><circle cx="85.8" cy="1288.4" r="11.3"/><circle cx="67.3" cy="1309.9" r="8.7"/><circle cx="206.2" cy="1211.9" r="12.1"/><circle cx="435.6" cy="1261.3" r="7.7"/><circle cx="258.3" cy="1199.7" r="6.2"/><circle cx="264.3" cy="1201.0" r="12.9"/><circle cx="144.3" cy="1241.6" r="10.1"/><circle cx="56.5" cy="1328.6" r="8.3"/><circle cx="253.2" cy="1196.9" r="6.1"/><circle cx="456.9" cy="1269.2" r="7.2"/><circle cx="70.9" cy="1294.5" r="12.6"/><circle cx="479.2" cy="1305.6" r="9.2"/><circle cx="439.4" cy="1260.9" r="7.1"/><circle cx="341.6" cy="1208.2" r="8.2"/><circle cx="139.9" cy="1238.0" r="7.5"/><circle cx="297.7" cy="1206.5" r="10.6"/><circle cx="35.1" cy="1373.8" r="6.2"/><circle cx="224.1" cy="1210.7" r="11.4"/><circle cx="445.8" cy="1270.5" r="8.2"/><circle cx="67.5" cy="1306.0" r="11.4"/><circle cx="99.7" cy="1267.7" r="12.0"/><circle cx="154.5" cy="1232.6" r="10.4"/><circle cx="460.3" cy="1272.2" r="7.5"/><circle cx="386.8" cy="1229.0" r="6.8"/><circle cx="62.2" cy="1308.5" r="10.3"/><circle cx="447.7" cy="1263.5" r="7.6"/><circle cx="339.0" cy="1208.3" r="12.8"/><circle cx="477.7" cy="1309.3" r="11.7"/><circle cx="231.9" cy="1199.4" r="12.5"/><circle cx="179.8" cy="1219.0" r="11.1"/><circle cx="469.2" cy="1291.3" r="13.3"/><circle cx="473.5" cy="1287.6" r="8.8"/><circle cx="437.5" cy="1263.4" r="13.8"/><circle cx="83.3" cy="1287.9" r="13.5"/><circle cx="257.3" cy="1203.8" r="13.8"/><circle cx="74.2" cy="1289.8" r="12.8"/><circle cx="280.5" cy="1197.6" r="12.7"/><circle cx="120.8" cy="1247.2" r="8.4"/><circle cx="37.3" cy="1358.6" r="12.2"/><circle cx="211.0" cy="1215.0" r="6.3"/><circle cx="74.9" cy="1290.5" r="10.6"/><circle cx="89.6" cy="1283.4" r="10.2"/><circle cx="280.2" cy="1205.3" r="12.3"/><circle cx="456.6" cy="1270.7" r="9.0"/><circle cx="469.3" cy="1288.4" r="8.3"/><circle cx="224.1" cy="1202.3" r="12.8"/><circle cx="312.0" cy="1198.9" r="13.7"/><circle cx="246.0" cy="1199.8" r="10.9"/></g>
<circle cx="330.9" cy="1196.3" r="1.0" fill="#55555a" opacity="0.3"/>
<circle cx="72.2" cy="1285.5" r="1.2" fill="#55555a" opacity="0.3"/>
<circle cx="392.2" cy="1216.6" r="1.0" fill="#55555a" opacity="0.3"/>
<circle cx="144.8" cy="1223.7" r="1.3" fill="#55555a" opacity="0.3"/>
<circle cx="541.6" cy="1429.4" r="1.2" fill="#55555a" opacity="0.3"/>
<circle cx="355.1" cy="1202.5" r="0.8" fill="#55555a" opacity="0.3"/>
<circle cx="406.8" cy="1225.3" r="1.1" fill="#55555a" opacity="0.3"/>
<circle cx="398.2" cy="1219.5" r="1.1" fill="#55555a" opacity="0.3"/>
<circle cx="537.5" cy="1418.7" r="1.0" fill="#55555a" opacity="0.3"/>
<circle cx="13.6" cy="1397.5" r="0.7" fill="#55555a" opacity="0.3"/>
<circle cx="532.7" cy="1386.4" r="0.9" fill="#55555a" opacity="0.3"/>
<circle cx="521.7" cy="1354.5" r="1.0" fill="#55555a" opacity="0.3"/>
<circle cx="224.7" cy="1194.1" r="1.0" fill="#55555a" opacity="0.3"/>
<circle cx="502.6" cy="1316.3" r="0.8" fill="#55555a" opacity="0.3"/>
<circle cx="206.8" cy="1198.0" r="0.9" fill="#55555a" opacity="0.3"/>
<circle cx="489.8" cy="1300.1" r="1.0" fill="#55555a" opacity="0.3"/>
<circle cx="507.1" cy="1323.8" r="1.0" fill="#55555a" opacity="0.3"/>
<circle cx="178.3" cy="1209.1" r="0.7" fill="#55555a" opacity="0.3"/>
<circle cx="469.7" cy="1273.3" r="0.7" fill="#55555a" opacity="0.3"/>
<circle cx="484.2" cy="1294.0" r="0.9" fill="#55555a" opacity="0.3"/>
<circle cx="207.9" cy="1198.4" r="0.8" fill="#55555a" opacity="0.3"/>
<circle cx="365.8" cy="1205.5" r="0.7" fill="#55555a" opacity="0.3"/>
<circle cx="240.1" cy="1191.9" r="1.1" fill="#55555a" opacity="0.3"/>
<circle cx="491.0" cy="1302.2" r="0.9" fill="#55555a" opacity="0.3"/>
<circle cx="158.9" cy="1217.0" r="0.6" fill="#55555a" opacity="0.3"/>
<circle cx="431.9" cy="1241.0" r="0.8" fill="#55555a" opacity="0.3"/>
<circle cx="22.6" cy="1370.8" r="1.0" fill="#55555a" opacity="0.3"/>
<circle cx="190.7" cy="1205.5" r="1.1" fill="#55555a" opacity="0.3"/>
<circle cx="90.6" cy="1264.7" r="1.2" fill="#55555a" opacity="0.3"/>
<circle cx="290.8" cy="1191.4" r="0.6" fill="#55555a" opacity="0.3"/>
<circle cx="266.6" cy="1190.6" r="0.9" fill="#55555a" opacity="0.3"/>
<circle cx="213.0" cy="1198.2" r="1.0" fill="#55555a" opacity="0.3"/>
<circle cx="267.0" cy="1189.7" r="0.9" fill="#55555a" opacity="0.3"/>
<circle cx="537.3" cy="1407.7" r="0.6" fill="#55555a" opacity="0.3"/>
<circle cx="9.8" cy="1430.0" r="0.6" fill="#55555a" opacity="0.3"/>
<circle cx="25.1" cy="1360.9" r="0.9" fill="#55555a" opacity="0.3"/>
<circle cx="540.0" cy="1426.5" r="0.9" fill="#55555a" opacity="0.3"/>
<circle cx="225.3" cy="1195.3" r="0.9" fill="#55555a" opacity="0.3"/>
<circle cx="439.5" cy="1248.9" r="1.1" fill="#55555a" opacity="0.3"/>
<circle cx="215.2" cy="1197.8" r="1.2" fill="#55555a" opacity="0.3"/>
<circle cx="46.7" cy="1318.0" r="1.0" fill="#55555a" opacity="0.3"/>
<circle cx="414.7" cy="1230.6" r="1.0" fill="#55555a" opacity="0.3"/>
<circle cx="495.5" cy="1307.1" r="1.2" fill="#55555a" opacity="0.3"/>
<circle cx="536.3" cy="1402.9" r="1.2" fill="#55555a" opacity="0.3"/>
<circle cx="434.5" cy="1245.0" r="0.6" fill="#55555a" opacity="0.3"/>
<circle cx="524.7" cy="1365.9" r="1.3" fill="#55555a" opacity="0.3"/>
<circle cx="539.4" cy="1417.5" r="1.1" fill="#55555a" opacity="0.3"/>
<circle cx="42.7" cy="1326.9" r="1.2" fill="#55555a" opacity="0.3"/>
<circle cx="64.1" cy="1293.3" r="0.7" fill="#55555a" opacity="0.3"/>
<circle cx="65.1" cy="1291.3" r="0.7" fill="#55555a" opacity="0.3"/>
<circle cx="539.3" cy="1432.1" r="0.9" fill="#55555a" opacity="0.3"/>
<circle cx="450.4" cy="1257.2" r="1.0" fill="#55555a" opacity="0.3"/>
<circle cx="215.4" cy="1197.9" r="1.0" fill="#55555a" opacity="0.3"/>
<circle cx="104.7" cy="1251.5" r="1.0" fill="#55555a" opacity="0.3"/>
<circle cx="373.1" cy="1208.4" r="1.0" fill="#55555a" opacity="0.3"/>
<circle cx="512.6" cy="1338.5" r="1.1" fill="#55555a" opacity="0.3"/>
<circle cx="20.1" cy="1378.0" r="0.7" fill="#55555a" opacity="0.3"/>
<circle cx="16.4" cy="1389.2" r="0.9" fill="#55555a" opacity="0.3"/>
<circle cx="459.6" cy="1265.4" r="0.8" fill="#55555a" opacity="0.3"/>
<circle cx="420.3" cy="1233.7" r="1.0" fill="#55555a" opacity="0.3"/>
<ellipse cx="236" cy="1237" rx="22" ry="18" fill="#dcdad4" opacity="0.3" filter="url(#blur3)"/>
<ellipse cx="236" cy="1237" rx="15" ry="13" fill="#cabfae" opacity="0.35" filter="url(#blur3)"/>
<ellipse cx="236" cy="1237" rx="15" ry="13" fill="none" stroke="#b8b0a4" stroke-width="1" opacity="0.4"/>
<ellipse cx="498" cy="1325" rx="9" ry="35" fill="#a89478" opacity="0.45" filter="url(#blur3)"/>
</g>
<ellipse cx="275" cy="1457.3" rx="270.2" ry="270.2" fill="none" stroke="#7e7e82" stroke-width="1.2"/>
</g>
<g clip-path="url(#cp6)">
<rect x="522" y="1181" width="437" height="198" fill="url(#fab2)"/>
<ellipse cx="734.5" cy="1404.4" rx="255.20000000000002" ry="218.20000000000002" fill="#46464a" stroke="#68686c" stroke-width="1.6"/>
<clipPath id="cip6"><ellipse cx="734.5" cy="1404.4" rx="252.9" ry="215.9"/></clipPath>
<g clip-path="url(#cip6)">
<rect x="522" y="1181" width="437" height="198" filter="url(#n6)"/>
<rect x="522" y="1181" width="437" height="198" filter="url(#q6)" mask="url(#mk6)"/>
<rect x="522" y="1181" width="437" height="198" fill="url(#vgrad)"/>
<ellipse cx="734.5" cy="1404.4" rx="242.9" ry="205.9" fill="none" stroke="#d6d6d4" stroke-width="20" opacity="0.45" filter="url(#blur6)"/>
<ellipse cx="734.5" cy="1404.4" rx="252.9" ry="215.9" fill="none" stroke="#88888c" stroke-width="5" opacity="0.7" filter="url(#blur1)"/>
<circle cx="607.6" cy="1220.4" r="1.1" fill="#505054" opacity="0.35"/>
<circle cx="495.0" cy="1345.5" r="0.9" fill="#505054" opacity="0.35"/>
<circle cx="492.1" cy="1354.4" r="0.6" fill="#505054" opacity="0.35"/>
<circle cx="684.7" cy="1195.0" r="0.7" fill="#505054" opacity="0.35"/>
<circle cx="678.4" cy="1198.4" r="0.7" fill="#505054" opacity="0.35"/>
<circle cx="550.0" cy="1262.0" r="1.4" fill="#505054" opacity="0.35"/>
<circle cx="792.0" cy="1197.4" r="1.4" fill="#505054" opacity="0.35"/>
<circle cx="491.3" cy="1361.7" r="0.8" fill="#505054" opacity="0.35"/>
<circle cx="514.4" cy="1302.4" r="0.8" fill="#505054" opacity="0.35"/>
<circle cx="938.6" cy="1280.9" r="1.1" fill="#505054" opacity="0.35"/>
<circle cx="836.1" cy="1210.0" r="1.0" fill="#505054" opacity="0.35"/>
<circle cx="491.7" cy="1351.1" r="0.8" fill="#505054" opacity="0.35"/>
<circle cx="863.7" cy="1222.5" r="0.9" fill="#505054" opacity="0.35"/>
<circle cx="798.2" cy="1198.9" r="0.8" fill="#505054" opacity="0.35"/>
<circle cx="927.5" cy="1270.7" r="0.8" fill="#505054" opacity="0.35"/>
<circle cx="790.0" cy="1197.4" r="1.3" fill="#505054" opacity="0.35"/>
<circle cx="894.0" cy="1240.4" r="1.4" fill="#505054" opacity="0.35"/>
<circle cx="506.4" cy="1317.9" r="1.2" fill="#505054" opacity="0.35"/>
<circle cx="518.2" cy="1298.6" r="0.6" fill="#505054" opacity="0.35"/>
<circle cx="855.3" cy="1219.4" r="1.1" fill="#505054" opacity="0.35"/>
<circle cx="960.8" cy="1314.0" r="1.2" fill="#505054" opacity="0.35"/>
<circle cx="804.5" cy="1200.8" r="1.0" fill="#505054" opacity="0.35"/>
<circle cx="946.6" cy="1294.9" r="1.0" fill="#505054" opacity="0.35"/>
<circle cx="853.6" cy="1216.3" r="1.2" fill="#505054" opacity="0.35"/>
<circle cx="840.9" cy="1213.9" r="1.3" fill="#505054" opacity="0.35"/>
<circle cx="583.4" cy="1235.0" r="1.1" fill="#505054" opacity="0.35"/>
<circle cx="487.1" cy="1376.7" r="0.7" fill="#505054" opacity="0.35"/>
<circle cx="505.2" cy="1318.0" r="1.2" fill="#505054" opacity="0.35"/>
<circle cx="509.6" cy="1311.1" r="0.9" fill="#505054" opacity="0.35"/>
<circle cx="960.1" cy="1311.3" r="1.0" fill="#505054" opacity="0.35"/>
<circle cx="771.4" cy="1195.5" r="1.3" fill="#505054" opacity="0.35"/>
<circle cx="957.1" cy="1307.3" r="0.9" fill="#505054" opacity="0.35"/>
<circle cx="631.9" cy="1212.0" r="1.4" fill="#505054" opacity="0.35"/>
<circle cx="517.0" cy="1298.8" r="0.8" fill="#505054" opacity="0.35"/>
<circle cx="554.8" cy="1257.0" r="1.1" fill="#505054" opacity="0.35"/>
<circle cx="569.9" cy="1243.0" r="0.9" fill="#505054" opacity="0.35"/>
<circle cx="638.8" cy="1208.5" r="1.4" fill="#505054" opacity="0.35"/>
<circle cx="870.0" cy="1226.1" r="1.1" fill="#505054" opacity="0.35"/>
<circle cx="861.6" cy="1220.1" r="1.3" fill="#505054" opacity="0.35"/>
<circle cx="920.1" cy="1264.1" r="1.2" fill="#505054" opacity="0.35"/>
<circle cx="654.9" cy="1202.8" r="0.7" fill="#505054" opacity="0.35"/>
<circle cx="833.3" cy="1208.0" r="0.7" fill="#505054" opacity="0.35"/>
<circle cx="541.8" cy="1268.2" r="0.9" fill="#505054" opacity="0.35"/>
<circle cx="489.7" cy="1357.4" r="0.7" fill="#505054" opacity="0.35"/>
<circle cx="501.5" cy="1327.7" r="0.6" fill="#505054" opacity="0.35"/>
<circle cx="959.6" cy="1313.7" r="0.7" fill="#505054" opacity="0.35"/>
<circle cx="564.7" cy="1248.2" r="0.9" fill="#505054" opacity="0.35"/>
<circle cx="509.1" cy="1315.7" r="1.4" fill="#505054" opacity="0.35"/>
<circle cx="709.0" cy="1193.1" r="0.7" fill="#505054" opacity="0.35"/>
<circle cx="501.6" cy="1327.2" r="0.8" fill="#505054" opacity="0.35"/>
<circle cx="944.1" cy="1287.6" r="0.6" fill="#505054" opacity="0.35"/>
<circle cx="978.3" cy="1360.0" r="0.7" fill="#505054" opacity="0.35"/>
<circle cx="767.1" cy="1192.4" r="1.0" fill="#505054" opacity="0.35"/>
<circle cx="980.8" cy="1377.5" r="1.2" fill="#505054" opacity="0.35"/>
<circle cx="569.7" cy="1244.5" r="0.7" fill="#505054" opacity="0.35"/>
<circle cx="916.8" cy="1259.6" r="1.2" fill="#505054" opacity="0.35"/>
<circle cx="611.5" cy="1218.7" r="1.2" fill="#505054" opacity="0.35"/>
<circle cx="981.4" cy="1381.6" r="1.2" fill="#505054" opacity="0.35"/>
<circle cx="938.2" cy="1283.0" r="0.8" fill="#505054" opacity="0.35"/>
<circle cx="747.8" cy="1191.9" r="0.6" fill="#505054" opacity="0.35"/>
<circle cx="487.1" cy="1373.2" r="0.8" fill="#505054" opacity="0.35"/>
<circle cx="870.6" cy="1228.0" r="1.0" fill="#505054" opacity="0.35"/>
<circle cx="974.6" cy="1351.6" r="1.4" fill="#505054" opacity="0.35"/>
<circle cx="635.2" cy="1208.7" r="0.8" fill="#505054" opacity="0.35"/>
<circle cx="536.2" cy="1274.3" r="1.1" fill="#505054" opacity="0.35"/>
<circle cx="966.6" cy="1329.2" r="1.0" fill="#505054" opacity="0.35"/>
<circle cx="845.1" cy="1215.0" r="0.7" fill="#505054" opacity="0.35"/>
<circle cx="850.0" cy="1217.5" r="1.2" fill="#505054" opacity="0.35"/>
<circle cx="905.3" cy="1249.6" r="0.7" fill="#505054" opacity="0.35"/>
<circle cx="925.8" cy="1267.4" r="1.2" fill="#505054" opacity="0.35"/>
<circle cx="981.5" cy="1373.0" r="0.9" fill="#505054" opacity="0.35"/>
<circle cx="977.1" cy="1357.5" r="0.7" fill="#505054" opacity="0.35"/>
<circle cx="508.5" cy="1312.3" r="1.3" fill="#505054" opacity="0.35"/>
<circle cx="934.4" cy="1275.8" r="1.3" fill="#505054" opacity="0.35"/>
<circle cx="981.6" cy="1378.6" r="0.9" fill="#505054" opacity="0.35"/>
<circle cx="771.1" cy="1193.2" r="0.6" fill="#505054" opacity="0.35"/>
<circle cx="980.6" cy="1372.6" r="1.0" fill="#505054" opacity="0.35"/>
<circle cx="975.5" cy="1349.1" r="1.3" fill="#505054" opacity="0.35"/>
<circle cx="942.9" cy="1286.3" r="0.8" fill="#505054" opacity="0.35"/>
<circle cx="588.2" cy="1231.4" r="1.1" fill="#505054" opacity="0.35"/>
<circle cx="568.8" cy="1245.3" r="0.7" fill="#505054" opacity="0.35"/>
<circle cx="970.5" cy="1334.6" r="1.0" fill="#505054" opacity="0.35"/>
<circle cx="796.2" cy="1199.9" r="0.9" fill="#505054" opacity="0.35"/>
<circle cx="971.9" cy="1339.4" r="1.0" fill="#505054" opacity="0.35"/>
<circle cx="752.3" cy="1191.1" r="1.0" fill="#505054" opacity="0.35"/>
<circle cx="529.6" cy="1281.0" r="1.2" fill="#505054" opacity="0.35"/>
<circle cx="526.2" cy="1287.5" r="1.2" fill="#505054" opacity="0.35"/>
<circle cx="776.9" cy="1194.6" r="1.0" fill="#505054" opacity="0.35"/>
<circle cx="775.9" cy="1195.8" r="0.7" fill="#505054" opacity="0.35"/>
<circle cx="779.7" cy="1194.8" r="0.8" fill="#505054" opacity="0.35"/>
<g fill="#e4e4e4" opacity="0.2" filter="url(#blur6)"><circle cx="568.8" cy="1271.4" r="7.9"/><circle cx="870.9" cy="1237.5" r="8.7"/><circle cx="971.8" cy="1384.9" r="11.5"/><circle cx="706.2" cy="1207.4" r="10.5"/><circle cx="552.3" cy="1285.2" r="7.6"/><circle cx="564.4" cy="1260.3" r="8.9"/><circle cx="672.5" cy="1218.5" r="9.7"/><circle cx="518.4" cy="1320.7" r="13.9"/><circle cx="510.2" cy="1350.0" r="9.6"/><circle cx="842.8" cy="1226.7" r="11.8"/><circle cx="732.8" cy="1208.3" r="13.3"/><circle cx="791.5" cy="1208.0" r="7.5"/><circle cx="962.0" cy="1354.7" r="8.4"/><circle cx="961.0" cy="1355.0" r="12.1"/><circle cx="948.8" cy="1318.0" r="9.5"/><circle cx="949.5" cy="1315.6" r="12.4"/><circle cx="518.7" cy="1331.4" r="11.9"/><circle cx="958.6" cy="1358.0" r="10.5"/><circle cx="548.3" cy="1277.6" r="10.7"/><circle cx="741.4" cy="1201.4" r="13.3"/><circle cx="739.6" cy="1209.0" r="8.5"/><circle cx="569.3" cy="1256.2" r="9.4"/><circle cx="584.7" cy="1250.9" r="9.6"/><circle cx="926.6" cy="1298.0" r="8.2"/><circle cx="662.5" cy="1211.9" r="11.6"/><circle cx="969.6" cy="1370.6" r="12.4"/><circle cx="600.5" cy="1235.2" r="12.4"/><circle cx="626.9" cy="1224.2" r="10.0"/><circle cx="566.5" cy="1264.7" r="10.1"/><circle cx="678.4" cy="1213.3" r="9.0"/><circle cx="511.3" cy="1330.1" r="7.7"/><circle cx="749.1" cy="1205.2" r="12.7"/><circle cx="737.9" cy="1209.0" r="13.9"/><circle cx="503.2" cy="1348.1" r="8.0"/><circle cx="657.4" cy="1218.4" r="12.2"/><circle cx="637.1" cy="1230.3" r="7.0"/><circle cx="934.0" cy="1294.1" r="13.1"/><circle cx="509.4" cy="1367.7" r="12.3"/><circle cx="966.7" cy="1380.4" r="8.2"/><circle cx="966.2" cy="1368.2" r="7.6"/><circle cx="806.5" cy="1216.0" r="10.3"/><circle cx="530.4" cy="1298.5" r="11.1"/><circle cx="701.2" cy="1204.0" r="10.1"/><circle cx="878.0" cy="1250.8" r="10.3"/><circle cx="661.5" cy="1214.6" r="8.6"/><circle cx="551.0" cy="1279.9" r="7.8"/><circle cx="877.9" cy="1250.6" r="11.3"/><circle cx="501.0" cy="1372.4" r="10.0"/><circle cx="520.7" cy="1334.9" r="12.3"/><circle cx="736.3" cy="1209.0" r="8.4"/><circle cx="566.4" cy="1266.6" r="12.2"/><circle cx="836.0" cy="1219.6" r="11.3"/><circle cx="951.3" cy="1335.1" r="13.5"/><circle cx="970.1" cy="1374.7" r="9.1"/><circle cx="766.4" cy="1214.1" r="9.6"/><circle cx="957.0" cy="1353.3" r="10.6"/><circle cx="817.3" cy="1225.0" r="12.5"/><circle cx="603.6" cy="1244.8" r="8.4"/><circle cx="648.6" cy="1226.0" r="12.9"/><circle cx="609.4" cy="1234.1" r="11.3"/><circle cx="931.8" cy="1300.6" r="13.6"/><circle cx="878.6" cy="1252.7" r="11.2"/><circle cx="641.2" cy="1221.9" r="10.4"/><circle cx="754.2" cy="1211.3" r="8.9"/><circle cx="512.6" cy="1347.3" r="8.9"/><circle cx="678.3" cy="1207.6" r="12.8"/><circle cx="587.5" cy="1247.0" r="12.6"/><circle cx="737.5" cy="1203.8" r="13.2"/><circle cx="673.6" cy="1211.6" r="13.8"/><circle cx="909.8" cy="1276.8" r="8.7"/><circle cx="921.2" cy="1286.0" r="12.8"/><circle cx="646.5" cy="1224.5" r="12.6"/><circle cx="658.8" cy="1219.0" r="12.5"/><circle cx="962.8" cy="1382.3" r="12.5"/><circle cx="529.3" cy="1310.5" r="11.8"/><circle cx="513.5" cy="1336.1" r="13.1"/><circle cx="948.5" cy="1334.0" r="7.6"/><circle cx="806.2" cy="1220.5" r="11.6"/><circle cx="612.6" cy="1229.1" r="13.4"/><circle cx="937.8" cy="1308.6" r="9.6"/><circle cx="925.1" cy="1294.7" r="12.1"/><circle cx="803.3" cy="1212.9" r="9.1"/><circle cx="637.7" cy="1221.9" r="10.6"/><circle cx="523.5" cy="1322.9" r="9.4"/><circle cx="533.7" cy="1296.7" r="9.7"/><circle cx="687.8" cy="1213.9" r="7.7"/><circle cx="561.1" cy="1267.6" r="8.2"/><circle cx="895.4" cy="1254.3" r="7.4"/><circle cx="772.6" cy="1212.0" r="12.8"/><circle cx="775.9" cy="1207.5" r="13.2"/><circle cx="885.5" cy="1252.5" r="10.9"/><circle cx="954.3" cy="1350.8" r="13.5"/><circle cx="525.0" cy="1311.0" r="9.9"/><circle cx="542.3" cy="1295.5" r="7.4"/><circle cx="947.4" cy="1322.9" r="11.3"/><circle cx="677.3" cy="1217.8" r="11.0"/><circle cx="946.2" cy="1329.4" r="11.8"/><circle cx="967.1" cy="1376.1" r="9.6"/><circle cx="933.9" cy="1300.3" r="9.2"/><circle cx="853.8" cy="1233.6" r="7.9"/><circle cx="931.9" cy="1297.1" r="13.8"/><circle cx="757.3" cy="1212.7" r="9.0"/><circle cx="560.7" cy="1271.7" r="12.4"/><circle cx="925.4" cy="1291.8" r="7.9"/><circle cx="660.5" cy="1210.8" r="9.6"/><circle cx="963.4" cy="1353.6" r="11.9"/><circle cx="818.4" cy="1215.1" r="11.8"/><circle cx="508.7" cy="1339.1" r="11.1"/><circle cx="530.1" cy="1317.2" r="10.0"/><circle cx="820.6" cy="1226.1" r="7.8"/><circle cx="973.8" cy="1384.7" r="11.2"/><circle cx="836.3" cy="1232.3" r="9.5"/><circle cx="960.3" cy="1355.6" r="10.3"/><circle cx="537.4" cy="1291.6" r="9.6"/><circle cx="630.8" cy="1225.2" r="12.7"/><circle cx="650.2" cy="1221.3" r="7.3"/><circle cx="531.7" cy="1309.1" r="13.2"/><circle cx="608.4" cy="1231.1" r="8.6"/><circle cx="639.8" cy="1221.6" r="10.9"/><circle cx="605.7" cy="1240.9" r="12.5"/><circle cx="906.7" cy="1273.7" r="11.1"/><circle cx="584.7" cy="1257.0" r="9.0"/><circle cx="940.4" cy="1307.9" r="11.4"/><circle cx="734.0" cy="1208.3" r="9.4"/><circle cx="787.7" cy="1214.5" r="9.5"/><circle cx="803.3" cy="1214.6" r="10.3"/><circle cx="655.5" cy="1218.6" r="12.0"/><circle cx="538.1" cy="1289.0" r="12.8"/><circle cx="517.6" cy="1336.7" r="12.3"/><circle cx="561.8" cy="1272.5" r="8.8"/><circle cx="949.9" cy="1317.9" r="7.8"/><circle cx="507.0" cy="1365.2" r="8.5"/><circle cx="615.0" cy="1240.4" r="12.2"/><circle cx="885.5" cy="1253.9" r="11.5"/><circle cx="505.2" cy="1379.8" r="9.3"/><circle cx="938.8" cy="1305.0" r="13.4"/><circle cx="506.4" cy="1386.1" r="7.7"/><circle cx="742.1" cy="1206.4" r="13.9"/><circle cx="871.4" cy="1250.3" r="13.3"/><circle cx="682.1" cy="1207.2" r="8.0"/><circle cx="867.6" cy="1247.6" r="11.7"/><circle cx="632.0" cy="1227.6" r="11.6"/><circle cx="579.5" cy="1258.6" r="8.4"/><circle cx="498.1" cy="1368.8" r="10.4"/><circle cx="864.8" cy="1236.0" r="9.8"/><circle cx="862.8" cy="1235.4" r="10.7"/><circle cx="805.1" cy="1214.5" r="8.5"/><circle cx="859.8" cy="1239.7" r="8.3"/><circle cx="918.1" cy="1283.7" r="13.1"/><circle cx="907.5" cy="1270.4" r="12.0"/><circle cx="613.1" cy="1237.0" r="7.6"/><circle cx="631.3" cy="1226.7" r="13.2"/><circle cx="853.3" cy="1239.2" r="13.1"/><circle cx="964.2" cy="1369.1" r="11.3"/><circle cx="712.6" cy="1204.0" r="12.6"/><circle cx="811.0" cy="1213.1" r="8.7"/><circle cx="564.0" cy="1271.8" r="11.2"/><circle cx="554.7" cy="1280.2" r="10.9"/><circle cx="584.7" cy="1251.2" r="13.9"/><circle cx="526.8" cy="1306.1" r="11.2"/></g>
</g>
<ellipse cx="734.5" cy="1404.4" rx="252.9" ry="215.9" fill="none" stroke="#7e7e82" stroke-width="1.2"/>
</g>
<g font-size="31.5" fill="#fff">
<text x="62" y="821.2">LMA</text><text x="61" y="1018.4">SMA</text><text x="60.5" y="1216.5">HMA</text>
</g>
<circle cx="486" cy="810.5" r="11" fill="#e2c8fc"/>
<circle cx="486.5" cy="1006.8" r="11" fill="#b36cff"/>
<circle cx="486" cy="1209" r="11" fill="#4b0096"/>
<path d="M938.4 796.8L949.8 818.9H927Z" fill="#f8b06a"/>
<path d="M939.6 995.5L951 1017.6H928.2Z" fill="#d9700a"/>
<path d="M940.5 1195L952.2 1216.5H928.9Z" fill="#6e3c12"/>
<text x="872.5" y="1355.5" font-size="21.5" fill="#000">10 mm</text>
<rect x="869" y="1366.7" width="72.2" height="5.7" fill="#000"/>
<g font-size="31" font-style="italic">
<text x="283" y="1416.6" text-anchor="middle">G.lucidum</text>
<text x="746" y="1416.6" text-anchor="middle">G.sessile</text>
</g>
</svg>
</body></html>
